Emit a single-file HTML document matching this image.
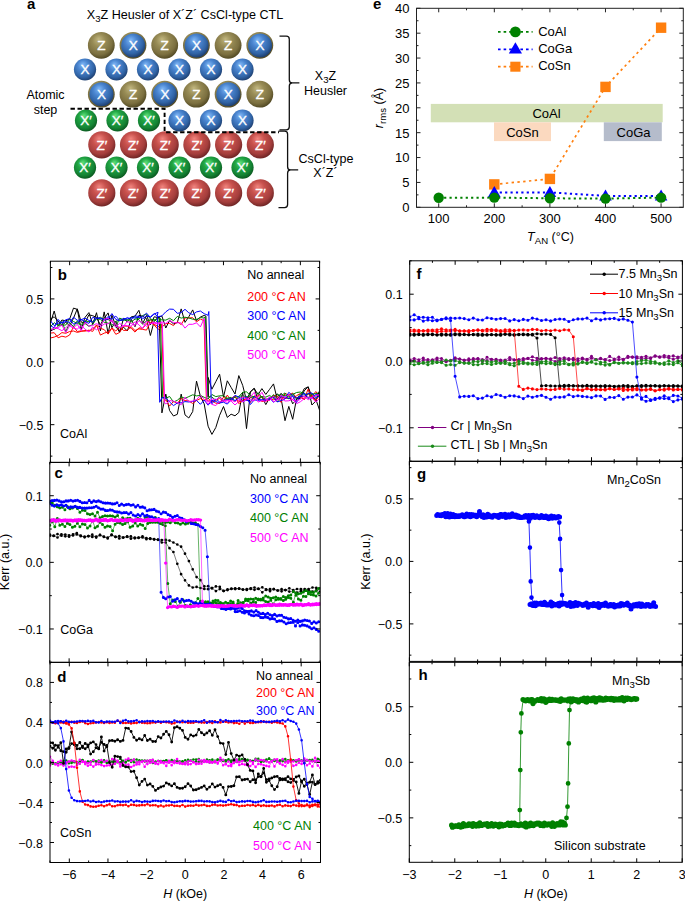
<!DOCTYPE html><html><head><meta charset="utf-8"><style>html,body{margin:0;padding:0;background:#fff;}svg{display:block;}</style></head><body><svg width="685" height="901" viewBox="0 0 685 901" font-family='"Liberation Sans", sans-serif'><defs><radialGradient id="gZ" cx="0.44" cy="0.4" r="0.64" fx="0.4" fy="0.27"><stop offset="0" stop-color="#c2b780"/><stop offset="0.38" stop-color="#978b55"/><stop offset="0.74" stop-color="#7c7040"/><stop offset="1" stop-color="#4a421e"/></radialGradient><radialGradient id="gX" cx="0.44" cy="0.4" r="0.64" fx="0.4" fy="0.27"><stop offset="0" stop-color="#80b8f6"/><stop offset="0.38" stop-color="#4a85d0"/><stop offset="0.74" stop-color="#3164a6"/><stop offset="1" stop-color="#1a3866"/></radialGradient><radialGradient id="gG" cx="0.44" cy="0.4" r="0.64" fx="0.4" fy="0.27"><stop offset="0" stop-color="#5ee07a"/><stop offset="0.38" stop-color="#20a443"/><stop offset="0.74" stop-color="#148434"/><stop offset="1" stop-color="#09511c"/></radialGradient><radialGradient id="gR" cx="0.44" cy="0.4" r="0.64" fx="0.4" fy="0.27"><stop offset="0" stop-color="#f0847e"/><stop offset="0.38" stop-color="#c8514d"/><stop offset="0.74" stop-color="#a53e3c"/><stop offset="1" stop-color="#642020"/></radialGradient><clipPath id="cb"><rect x="50.4" y="261.2" width="269.2" height="201.2"/></clipPath><clipPath id="cc"><rect x="49.8" y="462.4" width="270.4" height="199.9"/></clipPath><clipPath id="cd"><rect x="50.0" y="662.4" width="270.5" height="200.1"/></clipPath><clipPath id="cf"><rect x="409.7" y="260.8" width="272.7" height="200.4"/></clipPath><clipPath id="cg"><rect x="409.4" y="461.4" width="273.0" height="200.0"/></clipPath><clipPath id="ch"><rect x="409.3" y="662.3" width="272.9" height="200.0"/></clipPath></defs><rect width="685" height="901" fill="#fff"/><text x="27.0" y="8.5" font-size="15" text-anchor="start" fill="#000" font-weight="bold">a</text>
<text x="185" y="19.2" font-size="12.6" text-anchor="middle">X<tspan font-size="9.6" dy="3">3</tspan><tspan dy="-3">Z Heusler of X´Z´ CsCl-type CTL</tspan></text>
<circle cx="101.3" cy="45.3" r="13.4" fill="url(#gZ)"/>
<text x="101.3" y="50.0" font-size="13.5" text-anchor="middle" fill="#fff" stroke="#fff" stroke-width="0.35">Z</text>
<circle cx="133.0" cy="45.3" r="13.4" fill="url(#gZ)"/>
<circle cx="133.2" cy="45.4" r="12.0" fill="url(#gX)"/>
<text x="133.2" y="50.1" font-size="13.5" text-anchor="middle" fill="#fff" stroke="#fff" stroke-width="0.35">X</text>
<circle cx="164.7" cy="45.3" r="13.4" fill="url(#gZ)"/>
<text x="164.7" y="50.0" font-size="13.5" text-anchor="middle" fill="#fff" stroke="#fff" stroke-width="0.35">Z</text>
<circle cx="196.4" cy="45.3" r="13.4" fill="url(#gZ)"/>
<circle cx="196.6" cy="45.4" r="12.0" fill="url(#gX)"/>
<text x="196.6" y="50.1" font-size="13.5" text-anchor="middle" fill="#fff" stroke="#fff" stroke-width="0.35">X</text>
<circle cx="228.1" cy="45.3" r="13.4" fill="url(#gZ)"/>
<text x="228.1" y="50.0" font-size="13.5" text-anchor="middle" fill="#fff" stroke="#fff" stroke-width="0.35">Z</text>
<circle cx="259.8" cy="45.3" r="13.4" fill="url(#gZ)"/>
<circle cx="260.0" cy="45.4" r="12.0" fill="url(#gX)"/>
<text x="260.0" y="50.1" font-size="13.5" text-anchor="middle" fill="#fff" stroke="#fff" stroke-width="0.35">X</text>
<circle cx="85.0" cy="69.5" r="11.1" fill="url(#gX)"/>
<text x="85.0" y="74.2" font-size="13.5" text-anchor="middle" fill="#fff" stroke="#fff" stroke-width="0.35">X</text>
<circle cx="116.5" cy="69.5" r="11.1" fill="url(#gX)"/>
<text x="116.5" y="74.2" font-size="13.5" text-anchor="middle" fill="#fff" stroke="#fff" stroke-width="0.35">X</text>
<circle cx="148.0" cy="69.5" r="11.1" fill="url(#gX)"/>
<text x="148.0" y="74.2" font-size="13.5" text-anchor="middle" fill="#fff" stroke="#fff" stroke-width="0.35">X</text>
<circle cx="179.5" cy="69.5" r="11.1" fill="url(#gX)"/>
<text x="179.5" y="74.2" font-size="13.5" text-anchor="middle" fill="#fff" stroke="#fff" stroke-width="0.35">X</text>
<circle cx="211.0" cy="69.5" r="11.1" fill="url(#gX)"/>
<text x="211.0" y="74.2" font-size="13.5" text-anchor="middle" fill="#fff" stroke="#fff" stroke-width="0.35">X</text>
<circle cx="242.5" cy="69.5" r="11.1" fill="url(#gX)"/>
<text x="242.5" y="74.2" font-size="13.5" text-anchor="middle" fill="#fff" stroke="#fff" stroke-width="0.35">X</text>
<circle cx="101.3" cy="94.2" r="13.4" fill="url(#gZ)"/>
<circle cx="101.5" cy="94.3" r="12.0" fill="url(#gX)"/>
<text x="101.5" y="99.0" font-size="13.5" text-anchor="middle" fill="#fff" stroke="#fff" stroke-width="0.35">X</text>
<circle cx="133.0" cy="94.2" r="13.4" fill="url(#gZ)"/>
<text x="133.0" y="98.9" font-size="13.5" text-anchor="middle" fill="#fff" stroke="#fff" stroke-width="0.35">Z</text>
<circle cx="164.7" cy="94.2" r="13.4" fill="url(#gZ)"/>
<circle cx="164.9" cy="94.3" r="12.0" fill="url(#gX)"/>
<text x="164.9" y="99.0" font-size="13.5" text-anchor="middle" fill="#fff" stroke="#fff" stroke-width="0.35">X</text>
<circle cx="196.4" cy="94.2" r="13.4" fill="url(#gZ)"/>
<text x="196.4" y="98.9" font-size="13.5" text-anchor="middle" fill="#fff" stroke="#fff" stroke-width="0.35">Z</text>
<circle cx="228.1" cy="94.2" r="13.4" fill="url(#gZ)"/>
<circle cx="228.3" cy="94.3" r="12.0" fill="url(#gX)"/>
<text x="228.3" y="99.0" font-size="13.5" text-anchor="middle" fill="#fff" stroke="#fff" stroke-width="0.35">X</text>
<circle cx="259.8" cy="94.2" r="13.4" fill="url(#gZ)"/>
<text x="259.8" y="98.9" font-size="13.5" text-anchor="middle" fill="#fff" stroke="#fff" stroke-width="0.35">Z</text>
<circle cx="86.0" cy="120.5" r="11.1" fill="url(#gG)"/>
<text x="86.0" y="125.2" font-size="13.5" text-anchor="middle" fill="#fff" stroke="#fff" stroke-width="0.35">X′</text>
<circle cx="117.5" cy="120.5" r="11.1" fill="url(#gG)"/>
<text x="117.5" y="125.2" font-size="13.5" text-anchor="middle" fill="#fff" stroke="#fff" stroke-width="0.35">X′</text>
<circle cx="149.0" cy="120.5" r="11.1" fill="url(#gG)"/>
<text x="149.0" y="125.2" font-size="13.5" text-anchor="middle" fill="#fff" stroke="#fff" stroke-width="0.35">X′</text>
<circle cx="179.5" cy="120.5" r="11.1" fill="url(#gX)"/>
<text x="179.5" y="125.2" font-size="13.5" text-anchor="middle" fill="#fff" stroke="#fff" stroke-width="0.35">X</text>
<circle cx="211.0" cy="120.5" r="11.1" fill="url(#gX)"/>
<text x="211.0" y="125.2" font-size="13.5" text-anchor="middle" fill="#fff" stroke="#fff" stroke-width="0.35">X</text>
<circle cx="242.5" cy="120.5" r="11.1" fill="url(#gX)"/>
<text x="242.5" y="125.2" font-size="13.5" text-anchor="middle" fill="#fff" stroke="#fff" stroke-width="0.35">X</text>
<circle cx="101.8" cy="144.8" r="13.6" fill="url(#gR)"/>
<text x="101.8" y="149.5" font-size="13.5" text-anchor="middle" fill="#fff" stroke="#fff" stroke-width="0.35">Z′</text>
<circle cx="133.5" cy="144.8" r="13.6" fill="url(#gR)"/>
<text x="133.5" y="149.5" font-size="13.5" text-anchor="middle" fill="#fff" stroke="#fff" stroke-width="0.35">Z′</text>
<circle cx="165.2" cy="144.8" r="13.6" fill="url(#gR)"/>
<text x="165.2" y="149.5" font-size="13.5" text-anchor="middle" fill="#fff" stroke="#fff" stroke-width="0.35">Z′</text>
<circle cx="196.9" cy="144.8" r="13.6" fill="url(#gR)"/>
<text x="196.9" y="149.5" font-size="13.5" text-anchor="middle" fill="#fff" stroke="#fff" stroke-width="0.35">Z′</text>
<circle cx="228.6" cy="144.8" r="13.6" fill="url(#gR)"/>
<text x="228.6" y="149.5" font-size="13.5" text-anchor="middle" fill="#fff" stroke="#fff" stroke-width="0.35">Z′</text>
<circle cx="260.3" cy="144.8" r="13.6" fill="url(#gR)"/>
<text x="260.3" y="149.5" font-size="13.5" text-anchor="middle" fill="#fff" stroke="#fff" stroke-width="0.35">Z′</text>
<circle cx="85.0" cy="167.6" r="11.1" fill="url(#gG)"/>
<text x="85.0" y="172.3" font-size="13.5" text-anchor="middle" fill="#fff" stroke="#fff" stroke-width="0.35">X′</text>
<circle cx="116.5" cy="167.6" r="11.1" fill="url(#gG)"/>
<text x="116.5" y="172.3" font-size="13.5" text-anchor="middle" fill="#fff" stroke="#fff" stroke-width="0.35">X′</text>
<circle cx="148.0" cy="167.6" r="11.1" fill="url(#gG)"/>
<text x="148.0" y="172.3" font-size="13.5" text-anchor="middle" fill="#fff" stroke="#fff" stroke-width="0.35">X′</text>
<circle cx="179.5" cy="167.6" r="11.1" fill="url(#gG)"/>
<text x="179.5" y="172.3" font-size="13.5" text-anchor="middle" fill="#fff" stroke="#fff" stroke-width="0.35">X′</text>
<circle cx="211.0" cy="167.6" r="11.1" fill="url(#gG)"/>
<text x="211.0" y="172.3" font-size="13.5" text-anchor="middle" fill="#fff" stroke="#fff" stroke-width="0.35">X′</text>
<circle cx="242.5" cy="167.6" r="11.1" fill="url(#gG)"/>
<text x="242.5" y="172.3" font-size="13.5" text-anchor="middle" fill="#fff" stroke="#fff" stroke-width="0.35">X′</text>
<circle cx="101.8" cy="192.9" r="13.6" fill="url(#gR)"/>
<text x="101.8" y="197.6" font-size="13.5" text-anchor="middle" fill="#fff" stroke="#fff" stroke-width="0.35">Z′</text>
<circle cx="133.5" cy="192.9" r="13.6" fill="url(#gR)"/>
<text x="133.5" y="197.6" font-size="13.5" text-anchor="middle" fill="#fff" stroke="#fff" stroke-width="0.35">Z′</text>
<circle cx="165.2" cy="192.9" r="13.6" fill="url(#gR)"/>
<text x="165.2" y="197.6" font-size="13.5" text-anchor="middle" fill="#fff" stroke="#fff" stroke-width="0.35">Z′</text>
<circle cx="196.9" cy="192.9" r="13.6" fill="url(#gR)"/>
<text x="196.9" y="197.6" font-size="13.5" text-anchor="middle" fill="#fff" stroke="#fff" stroke-width="0.35">Z′</text>
<circle cx="228.6" cy="192.9" r="13.6" fill="url(#gR)"/>
<text x="228.6" y="197.6" font-size="13.5" text-anchor="middle" fill="#fff" stroke="#fff" stroke-width="0.35">Z′</text>
<circle cx="260.3" cy="192.9" r="13.6" fill="url(#gR)"/>
<text x="260.3" y="197.6" font-size="13.5" text-anchor="middle" fill="#fff" stroke="#fff" stroke-width="0.35">Z′</text>
<path d="M70.5 108.8H164.6V132.2H279" fill="none" stroke="#000" stroke-width="1.9" stroke-dasharray="4.4 2.6"/>
<path d="M279.5 36.2H286.3Q289.3 36.2 289.3 39.2V79.7Q289.3 82.9 292.3 82.9H299.4M292.3 82.9Q289.3 82.9 289.3 86.10000000000001V126.80000000000001Q289.3 129.8 286.3 129.8H279.5" fill="none" stroke="#111" stroke-width="1.3"/>
<path d="M278.5 131.2H284.6Q287.6 131.2 287.6 134.2V166.70000000000002Q287.6 169.9 290.6 169.9H298.2M290.6 169.9Q287.6 169.9 287.6 173.1V204.6Q287.6 207.6 284.6 207.6H278.5" fill="none" stroke="#111" stroke-width="1.3"/>
<text x="325.5" y="80.3" font-size="12.5" text-anchor="middle">X<tspan font-size="9.6" dy="3">3</tspan><tspan dy="-3">Z</tspan></text>
<text x="325.5" y="95.0" font-size="12.5" text-anchor="middle" fill="#000">Heusler</text>
<text x="298.6" y="162.5" font-size="12.5" text-anchor="start" fill="#000">CsCl-type</text>
<text x="325.5" y="177.3" font-size="12.5" text-anchor="middle" fill="#000">X´Z´</text>
<text x="45.5" y="99.0" font-size="12.5" text-anchor="middle" fill="#000">Atomic</text>
<text x="45.5" y="113.6" font-size="12.5" text-anchor="middle" fill="#000">step</text>
<text x="373.0" y="8.5" font-size="15" text-anchor="start" fill="#000" font-weight="bold">e</text>
<rect x="430.8" y="103.9" width="231.9" height="18.4" fill="#d3e0b6"/>
<rect x="494" y="122.3" width="57" height="18.8" fill="#fbd9bf"/>
<rect x="603.8" y="122.3" width="58" height="18.8" fill="#b5bccb"/>
<text x="546.5" y="117.5" font-size="13" text-anchor="middle" fill="#000">CoAl</text>
<text x="522.5" y="136.5" font-size="13" text-anchor="middle" fill="#000">CoSn</text>
<text x="633.5" y="136.5" font-size="13" text-anchor="middle" fill="#000">CoGa</text>
<rect x="416.50" y="8.30" width="266.80" height="199.00" fill="none" stroke="#222" stroke-width="1"/>
<path d="M438.73 207.30v-4M438.73 8.30v4M494.32 207.30v-4M494.32 8.30v4M549.90 207.30v-4M549.90 8.30v4M605.48 207.30v-4M605.48 8.30v4M661.07 207.30v-4M661.07 8.30v4M466.52 207.30v-2M466.52 8.30v2M522.11 207.30v-2M522.11 8.30v2M577.69 207.30v-2M577.69 8.30v2M633.27 207.30v-2M633.27 8.30v2M416.50 207.30h4M683.30 207.30h-4M416.50 182.43h4M683.30 182.43h-4M416.50 157.55h4M683.30 157.55h-4M416.50 132.68h4M683.30 132.68h-4M416.50 107.80h4M683.30 107.80h-4M416.50 82.93h4M683.30 82.93h-4M416.50 58.05h4M683.30 58.05h-4M416.50 33.18h4M683.30 33.18h-4M416.50 8.30h4M683.30 8.30h-4M416.50 194.86h2M683.30 194.86h-2M416.50 169.99h2M683.30 169.99h-2M416.50 145.11h2M683.30 145.11h-2M416.50 120.24h2M683.30 120.24h-2M416.50 95.36h2M683.30 95.36h-2M416.50 70.49h2M683.30 70.49h-2M416.50 45.61h2M683.30 45.61h-2M416.50 20.74h2M683.30 20.74h-2" stroke="#222" stroke-width="1" fill="none"/>
<text x="409.5" y="212.1" font-size="13" text-anchor="end" fill="#000">0</text>
<text x="409.5" y="187.2" font-size="13" text-anchor="end" fill="#000">5</text>
<text x="409.5" y="162.4" font-size="13" text-anchor="end" fill="#000">10</text>
<text x="409.5" y="137.5" font-size="13" text-anchor="end" fill="#000">15</text>
<text x="409.5" y="112.6" font-size="13" text-anchor="end" fill="#000">20</text>
<text x="409.5" y="87.7" font-size="13" text-anchor="end" fill="#000">25</text>
<text x="409.5" y="62.9" font-size="13" text-anchor="end" fill="#000">30</text>
<text x="409.5" y="38.0" font-size="13" text-anchor="end" fill="#000">35</text>
<text x="409.5" y="13.1" font-size="13" text-anchor="end" fill="#000">40</text>
<text x="438.7" y="222.5" font-size="13" text-anchor="middle" fill="#000">100</text>
<text x="494.3" y="222.5" font-size="13" text-anchor="middle" fill="#000">200</text>
<text x="549.9" y="222.5" font-size="13" text-anchor="middle" fill="#000">300</text>
<text x="605.5" y="222.5" font-size="13" text-anchor="middle" fill="#000">400</text>
<text x="661.1" y="222.5" font-size="13" text-anchor="middle" fill="#000">500</text>
<polyline points="494.3,184.4 549.9,178.9 605.5,86.9 661.1,27.7" fill="none" stroke="#ff7f0e" stroke-width="1.7" stroke-linejoin="round" stroke-dasharray="2.4 3.4"/>
<polyline points="494.3,192.4 549.9,192.4 605.5,195.9 661.1,195.9" fill="none" stroke="#0000ff" stroke-width="2" stroke-linejoin="round" stroke-dasharray="2.2 3.2"/>
<polyline points="438.7,197.8 494.3,197.6 549.9,198.3 605.5,198.6 661.1,197.6" fill="none" stroke="#008000" stroke-width="2" stroke-linejoin="round" stroke-dasharray="2.2 3.2"/>
<rect x="489.1" y="179.2" width="10.4" height="10.4" fill="#ff7f0e"/>
<rect x="544.7" y="173.7" width="10.4" height="10.4" fill="#ff7f0e"/>
<rect x="600.3" y="81.7" width="10.4" height="10.4" fill="#ff7f0e"/>
<rect x="655.9" y="22.5" width="10.4" height="10.4" fill="#ff7f0e"/>
<path d="M494.3 186.1L500.6 196.9H488.0Z" fill="#0000ff"/>
<path d="M549.9 186.1L556.2 196.9H543.6Z" fill="#0000ff"/>
<path d="M605.5 189.6L611.8 200.4H599.2Z" fill="#0000ff"/>
<path d="M661.1 189.6L667.4 200.4H654.8Z" fill="#0000ff"/>
<circle cx="438.7" cy="197.8" r="5.2" fill="#008000"/>
<circle cx="494.3" cy="197.6" r="5.2" fill="#008000"/>
<circle cx="549.9" cy="198.3" r="5.2" fill="#008000"/>
<circle cx="605.5" cy="198.6" r="5.2" fill="#008000"/>
<circle cx="661.1" cy="197.6" r="5.2" fill="#008000"/>
<line x1="498.00" y1="31.90" x2="532.60" y2="31.90" stroke="#008000" stroke-width="1.7" stroke-dasharray="2.6 3"/>
<circle cx="515.4" cy="31.9" r="5.4" fill="#008000"/>
<text x="538.2" y="35.6" font-size="13" text-anchor="start" fill="#000">CoAl</text>
<line x1="498.00" y1="49.30" x2="532.60" y2="49.30" stroke="#0000ff" stroke-width="1.7" stroke-dasharray="2.6 3"/>
<path d="M515.4 42.3L522 53.6H508.8Z" fill="#0000ff"/>
<text x="538.2" y="53.0" font-size="13" text-anchor="start" fill="#000">CoGa</text>
<line x1="498.00" y1="66.70" x2="532.60" y2="66.70" stroke="#ff7f0e" stroke-width="1.7" stroke-dasharray="2.6 3"/>
<rect x="510.3" y="61.7" width="10.2" height="10" fill="#ff7f0e"/>
<text x="538.2" y="70.4" font-size="13" text-anchor="start" fill="#000">CoSn</text>
<text transform="translate(383.3,108) rotate(-90)" font-size="12.5" text-anchor="middle"><tspan font-style="italic">r</tspan><tspan font-size="9.6" dy="3">rms</tspan><tspan dy="-3"> (Å)</tspan></text>
<text x="550.5" y="240.8" font-size="12.5" text-anchor="middle"><tspan font-style="italic">T</tspan><tspan font-size="9.6" dy="3">AN</tspan><tspan dy="-3"> (°C)</tspan></text>
<g clip-path="url(#cb)">
<polyline points="50.4,319.0 54.2,316.8 58.1,320.9 61.9,325.3 65.8,322.1 69.6,325.9 73.5,318.2 77.3,308.8 81.2,322.1 85.0,322.9 88.9,314.8 92.7,315.7 96.5,317.4 100.4,324.9 104.2,318.3 108.1,312.9 111.9,327.7 115.8,321.2 119.6,331.6 123.5,327.1 127.3,331.0 131.2,319.3 135.0,326.7 138.9,315.4 142.7,316.2 146.5,318.6 150.4,335.5 154.2,321.0 158.1,317.4 161.9,316.1 165.8,328.0 169.6,320.3 173.5,323.9 177.3,322.6 181.2,308.9 185.0,322.4 188.8,316.7 192.7,309.9 196.5,320.6 200.4,317.1 204.2,315.4 205.9,316.1 208.3,397.3 208.1,377.4 211.9,389.2 215.8,381.7 219.6,374.2 223.5,397.0 227.3,380.8 231.1,387.4 235.0,394.0 238.8,375.6 242.7,385.4 246.5,400.4 250.4,391.7 254.2,388.5 258.1,394.6 261.9,388.6 265.8,394.4 269.6,389.3 273.5,383.9 277.3,399.5 281.1,393.3 285.0,398.3 288.8,394.1 292.7,403.8 296.5,399.4 300.4,396.7 304.2,388.7 308.1,387.0 311.9,405.0 315.8,401.1 319.6,390.6" fill="none" stroke="#000" stroke-width="1" stroke-linejoin="round"/>
<polyline points="319.6,410.3 315.8,399.2 311.9,396.6 308.1,386.7 304.2,390.9 300.4,398.4 296.5,398.8 292.7,419.3 288.8,406.4 285.0,420.7 281.1,398.5 277.3,393.8 273.5,397.3 269.6,397.9 265.8,404.6 261.9,396.6 258.1,399.9 254.2,388.2 250.4,392.0 246.5,428.6 242.7,392.0 238.8,412.5 235.0,415.8 231.1,414.2 227.3,417.4 223.5,406.5 219.6,415.3 215.8,427.5 211.9,434.4 208.1,426.2 204.2,403.9 200.4,396.2 196.5,381.1 192.7,411.6 188.8,418.0 185.0,414.9 181.2,394.1 177.3,414.3 173.5,416.0 169.6,410.6 165.8,394.1 161.9,412.9 161.6,398.0 159.2,317.0 158.1,317.6 154.2,316.8 150.4,324.9 146.5,315.4 142.7,323.6 138.9,310.3 135.0,316.1 131.2,316.9 127.3,321.9 123.5,318.5 119.6,332.3 115.8,326.1 111.9,315.2 108.1,333.5 104.2,311.9 100.4,330.8 96.5,312.7 92.7,324.4 88.9,312.6 85.0,317.4 81.2,329.7 77.3,309.4 73.5,308.1 69.6,319.2 65.8,320.8 61.9,320.0 58.1,326.0 54.2,311.0 50.4,323.0" fill="none" stroke="#000" stroke-width="1" stroke-linejoin="round"/>
<polyline points="50.4,338.0 54.2,337.1 58.1,335.5 61.9,332.6 65.8,333.3 69.6,331.5 73.5,331.0 77.3,332.4 81.2,331.4 85.0,330.5 88.9,331.0 92.7,329.1 96.5,325.1 100.4,328.3 104.2,329.6 108.1,334.1 111.9,328.1 115.8,334.3 119.6,332.5 123.5,326.0 127.3,326.2 131.2,328.3 135.0,332.1 138.9,327.9 142.7,328.2 146.5,324.1 150.4,319.1 154.2,324.3 158.1,326.5 161.9,327.1 165.8,323.6 169.6,323.4 173.5,325.6 177.3,321.6 181.2,324.6 185.0,317.9 188.8,317.9 192.7,317.7 196.5,321.9 200.4,319.1 204.2,320.7 204.0,320.3 206.4,400.0 208.1,401.0 211.9,400.7 215.8,403.2 219.6,403.5 223.5,397.1 227.3,399.7 231.1,398.5 235.0,396.1 238.8,403.6 242.7,400.8 246.5,398.0 250.4,397.3 254.2,399.2 258.1,395.2 261.9,397.3 265.8,401.1 269.6,400.2 273.5,395.2 277.3,396.1 281.1,402.4 285.0,393.3 288.8,395.2 292.7,393.0 296.5,397.7 300.4,397.3 304.2,399.4 308.1,389.2 311.9,396.5 315.8,391.5 319.6,397.5" fill="none" stroke="#ff0000" stroke-width="1" stroke-linejoin="round"/>
<polyline points="319.6,395.3 315.8,400.5 311.9,397.1 308.1,393.5 304.2,399.8 300.4,393.5 296.5,395.7 292.7,399.6 288.8,398.3 285.0,398.3 281.1,397.3 277.3,398.8 273.5,399.8 269.6,398.5 265.8,400.6 261.9,401.5 258.1,398.2 254.2,395.8 250.4,402.6 246.5,398.5 242.7,400.4 238.8,401.5 235.0,396.6 231.1,400.5 227.3,395.1 223.5,401.5 219.6,398.4 215.8,400.3 211.9,401.9 208.1,398.3 204.2,400.5 200.4,398.5 196.5,400.5 192.7,403.5 188.8,400.9 185.0,400.6 181.2,398.3 177.3,403.6 173.5,401.3 169.6,406.1 165.8,399.7 164.1,401.6 161.7,323.8 161.9,326.9 158.1,329.4 154.2,325.0 150.4,322.3 146.5,330.1 142.7,329.4 138.9,328.9 135.0,330.5 131.2,326.8 127.3,330.3 123.5,330.4 119.6,327.0 115.8,331.0 111.9,328.0 108.1,332.1 104.2,333.1 100.4,335.1 96.5,325.1 92.7,331.4 88.9,330.1 85.0,331.1 81.2,330.9 77.3,331.5 73.5,326.6 69.6,335.0 65.8,337.1 61.9,336.2 58.1,337.8 54.2,332.7 50.4,333.1" fill="none" stroke="#ff0000" stroke-width="1" stroke-linejoin="round"/>
<polyline points="50.4,329.0 54.2,329.6 58.1,326.5 61.9,321.6 65.8,331.7 69.6,322.8 73.5,326.5 77.3,320.8 81.2,325.8 85.0,323.5 88.9,326.3 92.7,324.6 96.5,318.4 100.4,319.5 104.2,322.3 108.1,323.1 111.9,325.4 115.8,321.3 119.6,320.1 123.5,319.9 127.3,319.6 131.2,321.9 135.0,319.1 138.9,319.0 142.7,315.5 146.5,314.0 150.4,318.9 154.2,320.4 158.1,318.6 161.9,319.9 165.8,320.1 169.6,318.3 173.5,320.7 177.3,316.4 181.2,318.1 185.0,317.2 188.8,318.0 192.7,319.2 196.5,319.5 200.4,317.5 204.2,318.1 205.3,316.6 207.7,397.1 208.1,396.5 211.9,397.0 215.8,400.3 219.6,396.7 223.5,400.1 227.3,398.2 231.1,397.3 235.0,401.7 238.8,396.2 242.7,395.9 246.5,396.6 250.4,397.2 254.2,397.0 258.1,398.4 261.9,396.5 265.8,397.1 269.6,395.4 273.5,398.6 277.3,394.9 281.1,395.0 285.0,395.7 288.8,396.3 292.7,393.7 296.5,399.2 300.4,393.8 304.2,394.2 308.1,394.1 311.9,393.7 315.8,396.2 319.6,395.1" fill="none" stroke="#008000" stroke-width="1" stroke-linejoin="round"/>
<polyline points="319.6,392.9 315.8,393.5 311.9,394.2 308.1,398.6 304.2,393.5 300.4,392.0 296.5,392.5 292.7,394.5 288.8,399.1 285.0,392.9 281.1,395.8 277.3,401.9 273.5,394.6 269.6,399.4 265.8,399.0 261.9,397.4 258.1,392.7 254.2,397.0 250.4,395.4 246.5,391.8 242.7,392.3 238.8,396.6 235.0,397.1 231.1,399.7 227.3,398.4 223.5,395.7 219.6,395.8 215.8,396.6 211.9,394.5 208.1,399.0 204.2,397.3 200.4,395.4 196.5,395.9 192.7,394.8 188.8,396.6 185.0,398.4 181.2,396.8 177.3,400.3 173.5,402.0 169.6,396.5 165.8,398.2 161.9,397.4 162.7,398.2 160.3,318.3 158.1,322.7 154.2,319.4 150.4,320.1 146.5,320.9 142.7,324.4 138.9,319.7 135.0,316.7 131.2,318.1 127.3,320.9 123.5,319.7 119.6,318.1 115.8,327.2 111.9,320.9 108.1,319.6 104.2,319.5 100.4,317.3 96.5,319.0 92.7,321.4 88.9,321.7 85.0,320.8 81.2,324.5 77.3,323.5 73.5,321.5 69.6,319.2 65.8,325.0 61.9,325.2 58.1,325.1 54.2,322.7 50.4,326.7" fill="none" stroke="#008000" stroke-width="1" stroke-linejoin="round"/>
<polyline points="50.4,320.7 54.2,325.6 58.1,323.2 61.9,322.6 65.8,319.8 69.6,318.6 73.5,324.2 77.3,322.6 81.2,319.6 85.0,321.6 88.9,323.4 92.7,317.4 96.5,318.4 100.4,318.2 104.2,320.2 108.1,316.6 111.9,319.3 115.8,316.1 119.6,320.4 123.5,320.1 127.3,317.5 131.2,319.4 135.0,315.9 138.9,316.5 142.7,318.8 146.5,316.2 150.4,316.8 154.2,313.6 158.1,316.7 161.9,315.9 165.8,311.8 169.6,309.1 173.5,309.3 177.3,313.3 181.2,312.6 185.0,309.3 188.8,312.8 192.7,314.6 196.5,311.9 200.4,311.0 204.2,313.7 208.1,315.3 208.8,311.5 211.2,400.6 211.9,403.8 215.8,398.9 219.6,402.0 223.5,400.5 227.3,399.5 231.1,398.5 235.0,400.5 238.8,398.5 242.7,401.5 246.5,400.2 250.4,401.6 254.2,396.6 258.1,399.1 261.9,400.6 265.8,399.6 269.6,399.1 273.5,396.9 277.3,402.0 281.1,400.6 285.0,399.0 288.8,392.3 292.7,395.7 296.5,398.0 300.4,396.0 304.2,392.9 308.1,397.9 311.9,398.1 315.8,394.4 319.6,395.9" fill="none" stroke="#0000ff" stroke-width="1" stroke-linejoin="round"/>
<polyline points="319.6,395.5 315.8,398.3 311.9,392.9 308.1,393.5 304.2,396.2 300.4,396.1 296.5,402.4 292.7,396.4 288.8,398.5 285.0,397.2 281.1,396.7 277.3,399.2 273.5,402.3 269.6,397.8 265.8,400.4 261.9,399.6 258.1,400.4 254.2,399.9 250.4,404.5 246.5,396.6 242.7,399.0 238.8,397.1 235.0,395.3 231.1,399.9 227.3,404.1 223.5,402.2 219.6,403.0 215.8,401.5 211.9,400.4 208.1,405.2 204.2,400.0 200.4,404.3 196.5,400.4 192.7,401.4 188.8,402.0 185.0,401.6 181.2,402.8 177.3,403.0 173.5,405.6 169.6,402.0 165.8,397.9 161.9,397.7 159.7,402.3 157.3,315.2 158.1,312.3 154.2,314.0 150.4,317.5 146.5,313.1 142.7,316.8 138.9,317.2 135.0,318.1 131.2,317.6 127.3,319.0 123.5,318.4 119.6,320.8 115.8,319.4 111.9,313.6 108.1,319.1 104.2,319.7 100.4,318.2 96.5,318.0 92.7,322.3 88.9,320.4 85.0,318.1 81.2,319.7 77.3,320.3 73.5,317.2 69.6,322.5 65.8,321.4 61.9,323.4 58.1,319.4 54.2,327.9 50.4,325.6" fill="none" stroke="#0000ff" stroke-width="1" stroke-linejoin="round"/>
<polyline points="50.4,331.8 54.2,328.0 58.1,327.7 61.9,325.0 65.8,332.7 69.6,325.8 73.5,328.3 77.3,329.1 81.2,325.4 85.0,329.1 88.9,332.0 92.7,327.0 96.5,329.8 100.4,327.1 104.2,324.0 108.1,323.8 111.9,320.0 115.8,324.6 119.6,328.0 123.5,325.5 127.3,325.7 131.2,326.2 135.0,321.7 138.9,324.8 142.7,328.6 146.5,321.2 150.4,323.6 154.2,322.4 158.1,323.2 161.9,321.8 165.8,323.5 169.6,320.3 173.5,322.6 177.3,322.8 181.2,322.9 185.0,328.1 188.8,324.3 192.7,324.3 196.5,322.8 200.4,326.9 204.2,318.4 204.6,322.8 207.0,401.3 208.1,400.9 211.9,404.4 215.8,405.6 219.6,401.5 223.5,400.9 227.3,402.4 231.1,400.1 235.0,401.9 238.8,398.5 242.7,401.9 246.5,399.8 250.4,396.9 254.2,392.3 258.1,402.1 261.9,400.5 265.8,401.3 269.6,396.7 273.5,401.9 277.3,399.9 281.1,398.5 285.0,401.0 288.8,400.8 292.7,399.3 296.5,403.7 300.4,401.7 304.2,398.7 308.1,397.0 311.9,397.8 315.8,402.1 319.6,398.3" fill="none" stroke="#ff00ff" stroke-width="1" stroke-linejoin="round"/>
<polyline points="319.6,394.8 315.8,395.6 311.9,397.5 308.1,399.9 304.2,395.8 300.4,399.3 296.5,401.1 292.7,400.2 288.8,394.2 285.0,397.7 281.1,395.2 277.3,399.9 273.5,396.1 269.6,400.5 265.8,399.5 261.9,392.3 258.1,397.2 254.2,400.8 250.4,399.8 246.5,398.8 242.7,396.5 238.8,401.4 235.0,405.0 231.1,401.1 227.3,400.4 223.5,400.3 219.6,397.1 215.8,400.0 211.9,398.8 208.1,404.2 204.2,398.9 200.4,395.7 196.5,399.5 192.7,401.1 188.8,401.5 185.0,397.1 181.2,404.7 177.3,402.6 173.5,401.2 169.6,400.6 165.8,404.0 164.7,402.8 162.3,323.6 161.9,322.7 158.1,324.2 154.2,323.0 150.4,323.6 146.5,326.3 142.7,323.1 138.9,320.6 135.0,325.6 131.2,323.5 127.3,321.3 123.5,326.4 119.6,323.3 115.8,327.0 111.9,321.3 108.1,318.3 104.2,319.4 100.4,325.9 96.5,323.6 92.7,325.6 88.9,326.0 85.0,322.3 81.2,330.6 77.3,324.3 73.5,327.7 69.6,324.0 65.8,327.8 61.9,330.7 58.1,328.6 54.2,327.8 50.4,330.3" fill="none" stroke="#ff00ff" stroke-width="1" stroke-linejoin="round"/>
</g>
<rect x="50.40" y="261.20" width="269.20" height="201.20" fill="none" stroke="#000" stroke-width="1"/>
<path d="M69.63 462.40v-4M69.63 261.20v4M108.09 462.40v-4M108.09 261.20v4M146.54 462.40v-4M146.54 261.20v4M185.00 462.40v-4M185.00 261.20v4M223.46 462.40v-4M223.46 261.20v4M261.91 462.40v-4M261.91 261.20v4M300.37 462.40v-4M300.37 261.20v4M50.40 462.40v-2M50.40 261.20v2M88.86 462.40v-2M88.86 261.20v2M127.31 462.40v-2M127.31 261.20v2M165.77 462.40v-2M165.77 261.20v2M204.23 462.40v-2M204.23 261.20v2M242.69 462.40v-2M242.69 261.20v2M281.14 462.40v-2M281.14 261.20v2M319.60 462.40v-2M319.60 261.20v2M50.40 424.67h4M319.60 424.67h-4M50.40 361.80h4M319.60 361.80h-4M50.40 298.92h4M319.60 298.92h-4M50.40 456.11h2M319.60 456.11h-2M50.40 393.24h2M319.60 393.24h-2M50.40 330.36h2M319.60 330.36h-2M50.40 267.49h2M319.60 267.49h-2" stroke="#000" stroke-width="1" fill="none"/>
<text x="43.4" y="303.9" font-size="12.5" text-anchor="end" fill="#000">0.5</text>
<text x="43.4" y="366.8" font-size="12.5" text-anchor="end" fill="#000">0.0</text>
<text x="43.4" y="429.7" font-size="12.5" text-anchor="end" fill="#000">−0.5</text>
<text x="57.7" y="279.9" font-size="15" text-anchor="start" fill="#000" font-weight="bold">b</text>
<text x="247.2" y="278.7" font-size="12.5" text-anchor="start" fill="#000">No anneal</text>
<text x="247.2" y="300.6" font-size="12.5" text-anchor="start" fill="#ff0000">200 °C AN</text>
<text x="247.2" y="320.1" font-size="12.5" text-anchor="start" fill="#0000ff">300 °C AN</text>
<text x="247.2" y="339.6" font-size="12.5" text-anchor="start" fill="#008000">400 °C AN</text>
<text x="247.2" y="359.1" font-size="12.5" text-anchor="start" fill="#ff00ff">500 °C AN</text>
<text x="60.1" y="437.5" font-size="12.5" text-anchor="start" fill="#000">CoAl</text>
<g clip-path="url(#cc)">
<polyline points="49.8,534.5 53.7,535.7 57.5,537.5 61.4,534.3 65.3,534.6 69.1,535.3 73.0,535.5 76.8,534.5 80.7,536.2 84.6,536.6 88.4,536.1 92.3,534.7 96.2,537.6 100.0,534.9 103.9,537.0 107.7,537.5 111.6,535.2 115.5,536.9 119.3,538.4 123.2,537.6 127.1,536.4 130.9,536.4 134.8,538.3 138.6,537.6 142.5,537.5 146.4,539.2 150.2,538.4 154.1,539.0 158.0,539.8 161.8,540.1 165.7,539.9 169.5,540.6 173.4,542.5 177.3,544.5 181.1,546.7 185.0,553.7 188.9,561.1 192.7,569.3 196.6,577.1 200.5,580.2 204.3,586.3 208.2,586.2 212.0,588.2 215.9,586.4 219.8,586.9 223.6,591.0 227.5,590.1 231.4,588.5 235.2,588.4 239.1,588.6 242.9,589.5 246.8,589.1 250.7,588.9 254.5,589.8 258.4,588.7 262.3,592.3 266.1,589.3 270.0,591.2 273.8,589.1 277.7,590.5 281.6,591.3 285.4,590.1 289.3,591.6 293.2,591.7 297.0,592.5 300.9,591.0 304.7,590.6 308.6,590.2 312.5,591.6 316.3,590.4 320.2,591.6" fill="none" stroke="#000" stroke-width="0.5" stroke-linejoin="round"/>
<path d="M49.8 534.5h0M53.7 535.7h0M57.5 537.5h0M61.4 534.3h0M65.3 534.6h0M69.1 535.3h0M73.0 535.5h0M76.8 534.5h0M80.7 536.2h0M84.6 536.6h0M88.4 536.1h0M92.3 534.7h0M96.2 537.6h0M100.0 534.9h0M103.9 537.0h0M107.7 537.5h0M111.6 535.2h0M115.5 536.9h0M119.3 538.4h0M123.2 537.6h0M127.1 536.4h0M130.9 536.4h0M134.8 538.3h0M138.6 537.6h0M142.5 537.5h0M146.4 539.2h0M150.2 538.4h0M154.1 539.0h0M158.0 539.8h0M161.8 540.1h0M165.7 539.9h0M169.5 540.6h0M173.4 542.5h0M177.3 544.5h0M181.1 546.7h0M185.0 553.7h0M188.9 561.1h0M192.7 569.3h0M196.6 577.1h0M200.5 580.2h0M204.3 586.3h0M208.2 586.2h0M212.0 588.2h0M215.9 586.4h0M219.8 586.9h0M223.6 591.0h0M227.5 590.1h0M231.4 588.5h0M235.2 588.4h0M239.1 588.6h0M242.9 589.5h0M246.8 589.1h0M250.7 588.9h0M254.5 589.8h0M258.4 588.7h0M262.3 592.3h0M266.1 589.3h0M270.0 591.2h0M273.8 589.1h0M277.7 590.5h0M281.6 591.3h0M285.4 590.1h0M289.3 591.6h0M293.2 591.7h0M297.0 592.5h0M300.9 591.0h0M304.7 590.6h0M308.6 590.2h0M312.5 591.6h0M316.3 590.4h0M320.2 591.6h0" stroke="#000" stroke-width="2.7" stroke-linecap="round" fill="none"/>
<polyline points="320.2,588.4 316.3,587.9 312.5,587.5 308.6,589.1 304.7,589.1 300.9,589.2 297.0,589.0 293.2,590.2 289.3,588.3 285.4,590.0 281.6,589.2 277.7,590.5 273.8,589.2 270.0,589.1 266.1,589.9 262.3,587.3 258.4,589.0 254.5,587.5 250.7,588.3 246.8,590.0 242.9,589.6 239.1,588.7 235.2,589.1 231.4,589.0 227.5,589.4 223.6,590.9 219.8,589.1 215.9,591.1 212.0,588.2 208.2,589.2 204.3,588.9 200.5,588.0 196.6,586.9 192.7,587.5 188.9,585.4 185.0,580.3 181.1,574.2 177.3,563.8 173.4,552.0 169.5,548.2 165.7,542.5 161.8,542.5 158.0,539.6 154.1,539.6 150.2,538.9 146.4,538.0 142.5,536.4 138.6,537.9 134.8,537.7 130.9,538.7 127.1,536.8 123.2,537.5 119.3,536.1 115.5,536.8 111.6,534.7 107.7,538.5 103.9,536.6 100.0,535.2 96.2,536.5 92.3,536.9 88.4,536.2 84.6,537.3 80.7,535.6 76.8,533.1 73.0,534.3 69.1,536.7 65.3,536.3 61.4,535.7 57.5,534.1 53.7,536.0 49.8,535.8" fill="none" stroke="#000" stroke-width="0.5" stroke-linejoin="round"/>
<path d="M320.2 588.4h0M316.3 587.9h0M312.5 587.5h0M308.6 589.1h0M304.7 589.1h0M300.9 589.2h0M297.0 589.0h0M293.2 590.2h0M289.3 588.3h0M285.4 590.0h0M281.6 589.2h0M277.7 590.5h0M273.8 589.2h0M270.0 589.1h0M266.1 589.9h0M262.3 587.3h0M258.4 589.0h0M254.5 587.5h0M250.7 588.3h0M246.8 590.0h0M242.9 589.6h0M239.1 588.7h0M235.2 589.1h0M231.4 589.0h0M227.5 589.4h0M223.6 590.9h0M219.8 589.1h0M215.9 591.1h0M212.0 588.2h0M208.2 589.2h0M204.3 588.9h0M200.5 588.0h0M196.6 586.9h0M192.7 587.5h0M188.9 585.4h0M185.0 580.3h0M181.1 574.2h0M177.3 563.8h0M173.4 552.0h0M169.5 548.2h0M165.7 542.5h0M161.8 542.5h0M158.0 539.6h0M154.1 539.6h0M150.2 538.9h0M146.4 538.0h0M142.5 536.4h0M138.6 537.9h0M134.8 537.7h0M130.9 538.7h0M127.1 536.8h0M123.2 537.5h0M119.3 536.1h0M115.5 536.8h0M111.6 534.7h0M107.7 538.5h0M103.9 536.6h0M100.0 535.2h0M96.2 536.5h0M92.3 536.9h0M88.4 536.2h0M84.6 537.3h0M80.7 535.6h0M76.8 533.1h0M73.0 534.3h0M69.1 536.7h0M65.3 536.3h0M61.4 535.7h0M57.5 534.1h0M53.7 536.0h0M49.8 535.8h0" stroke="#000" stroke-width="2.7" stroke-linecap="round" fill="none"/>
<polyline points="49.8,502.5 52.3,503.1 54.8,505.3 57.3,506.8 59.8,507.9 62.4,507.2 64.9,509.8 67.4,506.4 69.9,508.8 72.4,508.0 74.9,506.8 77.4,508.4 79.9,512.2 82.4,510.2 85.0,510.5 87.5,513.8 90.0,514.5 92.5,513.7 95.0,516.1 97.5,512.3 100.0,517.8 102.5,516.5 105.0,515.7 107.5,516.0 110.1,515.8 112.6,516.0 115.1,517.0 117.6,515.6 120.1,520.3 122.6,517.8 125.1,519.1 127.6,518.2 130.1,518.3 132.7,520.1 135.2,519.9 137.7,518.2 140.2,519.0 142.7,520.6 145.2,517.2 147.7,517.1 150.2,522.3 152.7,520.2 155.3,517.5 157.8,520.0 160.3,520.9 162.8,521.7 165.3,522.4 167.8,522.1 170.3,522.7 172.8,521.1 175.3,522.8 177.9,523.0 180.4,524.2 182.9,522.8 185.4,524.1 187.9,523.3 190.4,521.8 192.9,522.9 195.4,522.8 197.9,524.6 200.5,602.7 203.0,603.0 205.5,603.2 208.0,601.7 210.5,604.1 213.0,600.9 215.5,602.6 218.0,603.6 220.5,603.2 223.0,603.5 225.6,602.3 228.1,603.5 230.6,601.0 233.1,603.5 235.6,605.4 238.1,603.4 240.6,605.0 243.1,602.4 245.6,600.5 248.2,600.7 250.7,603.0 253.2,601.9 255.7,598.2 258.2,599.8 260.7,599.9 263.2,598.1 265.7,595.9 268.2,597.1 270.8,598.3 273.3,597.7 275.8,597.0 278.3,598.3 280.8,598.5 283.3,596.6 285.8,597.4 288.3,595.7 290.8,595.0 293.4,591.4 295.9,595.2 298.4,593.7 300.9,593.2 303.4,591.9 305.9,590.6 308.4,592.1 310.9,592.0 313.4,592.6 316.0,591.1 318.5,588.6" fill="none" stroke="#008000" stroke-width="0.6" stroke-linejoin="round"/>
<path d="M49.8 502.5h0M52.3 503.1h0M54.8 505.3h0M57.3 506.8h0M59.8 507.9h0M62.4 507.2h0M64.9 509.8h0M67.4 506.4h0M69.9 508.8h0M72.4 508.0h0M74.9 506.8h0M77.4 508.4h0M79.9 512.2h0M82.4 510.2h0M85.0 510.5h0M87.5 513.8h0M90.0 514.5h0M92.5 513.7h0M95.0 516.1h0M97.5 512.3h0M100.0 517.8h0M102.5 516.5h0M105.0 515.7h0M107.5 516.0h0M110.1 515.8h0M112.6 516.0h0M115.1 517.0h0M117.6 515.6h0M120.1 520.3h0M122.6 517.8h0M125.1 519.1h0M127.6 518.2h0M130.1 518.3h0M132.7 520.1h0M135.2 519.9h0M137.7 518.2h0M140.2 519.0h0M142.7 520.6h0M145.2 517.2h0M147.7 517.1h0M150.2 522.3h0M152.7 520.2h0M155.3 517.5h0M157.8 520.0h0M160.3 520.9h0M162.8 521.7h0M165.3 522.4h0M167.8 522.1h0M170.3 522.7h0M172.8 521.1h0M175.3 522.8h0M177.9 523.0h0M180.4 524.2h0M182.9 522.8h0M185.4 524.1h0M187.9 523.3h0M190.4 521.8h0M192.9 522.9h0M195.4 522.8h0M197.9 524.6h0M200.5 602.7h0M203.0 603.0h0M205.5 603.2h0M208.0 601.7h0M210.5 604.1h0M213.0 600.9h0M215.5 602.6h0M218.0 603.6h0M220.5 603.2h0M223.0 603.5h0M225.6 602.3h0M228.1 603.5h0M230.6 601.0h0M233.1 603.5h0M235.6 605.4h0M238.1 603.4h0M240.6 605.0h0M243.1 602.4h0M245.6 600.5h0M248.2 600.7h0M250.7 603.0h0M253.2 601.9h0M255.7 598.2h0M258.2 599.8h0M260.7 599.9h0M263.2 598.1h0M265.7 595.9h0M268.2 597.1h0M270.8 598.3h0M273.3 597.7h0M275.8 597.0h0M278.3 598.3h0M280.8 598.5h0M283.3 596.6h0M285.8 597.4h0M288.3 595.7h0M290.8 595.0h0M293.4 591.4h0M295.9 595.2h0M298.4 593.7h0M300.9 593.2h0M303.4 591.9h0M305.9 590.6h0M308.4 592.1h0M310.9 592.0h0M313.4 592.6h0M316.0 591.1h0M318.5 588.6h0" stroke="#008000" stroke-width="3.0" stroke-linecap="round" fill="none"/>
<polyline points="318.5,593.2 316.0,596.0 313.4,594.9 310.9,594.4 308.4,593.7 305.9,596.6 303.4,596.2 300.9,600.2 298.4,599.1 295.9,593.0 293.4,602.3 290.8,598.3 288.3,597.4 285.8,599.2 283.3,600.6 280.8,599.2 278.3,599.3 275.8,599.7 273.3,604.1 270.8,600.3 268.2,602.1 265.7,601.6 263.2,600.1 260.7,599.3 258.2,598.9 255.7,602.4 253.2,599.3 250.7,598.9 248.2,599.2 245.6,598.9 243.1,602.7 240.6,602.8 238.1,600.4 235.6,605.6 233.1,601.9 230.6,603.7 228.1,603.3 225.6,606.5 223.0,604.6 220.5,602.6 218.0,600.5 215.5,600.3 213.0,602.8 210.5,603.1 208.0,604.6 205.5,601.7 203.0,603.3 200.5,601.3 197.9,598.6 195.4,602.8 192.9,606.3 190.4,604.8 187.9,606.2 185.4,605.6 182.9,599.8 180.4,602.3 177.9,606.4 175.3,601.4 172.8,600.0 170.3,603.8 167.8,583.6 165.3,525.8 162.8,524.4 160.3,523.5 157.8,522.3 155.3,522.2 152.7,522.3 150.2,521.9 147.7,523.5 145.2,528.6 142.7,525.3 140.2,524.3 137.7,525.9 135.2,522.9 132.7,525.9 130.1,527.2 127.6,521.7 125.1,523.5 122.6,524.5 120.1,522.9 117.6,522.6 115.1,524.2 112.6,530.8 110.1,526.6 107.5,526.1 105.0,527.3 102.5,524.6 100.0,522.3 97.5,526.2 95.0,527.7 92.5,520.3 90.0,526.1 87.5,527.9 85.0,524.5 82.4,524.0 79.9,526.7 77.4,523.2 74.9,526.2 72.4,527.2 69.9,524.6 67.4,523.2 64.9,526.5 62.4,524.3 59.8,525.3 57.3,518.4 54.8,526.7 52.3,521.8 49.8,525.2" fill="none" stroke="#008000" stroke-width="0.6" stroke-linejoin="round"/>
<path d="M318.5 593.2h0M316.0 596.0h0M313.4 594.9h0M310.9 594.4h0M308.4 593.7h0M305.9 596.6h0M303.4 596.2h0M300.9 600.2h0M298.4 599.1h0M295.9 593.0h0M293.4 602.3h0M290.8 598.3h0M288.3 597.4h0M285.8 599.2h0M283.3 600.6h0M280.8 599.2h0M278.3 599.3h0M275.8 599.7h0M273.3 604.1h0M270.8 600.3h0M268.2 602.1h0M265.7 601.6h0M263.2 600.1h0M260.7 599.3h0M258.2 598.9h0M255.7 602.4h0M253.2 599.3h0M250.7 598.9h0M248.2 599.2h0M245.6 598.9h0M243.1 602.7h0M240.6 602.8h0M238.1 600.4h0M235.6 605.6h0M233.1 601.9h0M230.6 603.7h0M228.1 603.3h0M225.6 606.5h0M223.0 604.6h0M220.5 602.6h0M218.0 600.5h0M215.5 600.3h0M213.0 602.8h0M210.5 603.1h0M208.0 604.6h0M205.5 601.7h0M203.0 603.3h0M200.5 601.3h0M197.9 598.6h0M195.4 602.8h0M192.9 606.3h0M190.4 604.8h0M187.9 606.2h0M185.4 605.6h0M182.9 599.8h0M180.4 602.3h0M177.9 606.4h0M175.3 601.4h0M172.8 600.0h0M170.3 603.8h0M167.8 583.6h0M165.3 525.8h0M162.8 524.4h0M160.3 523.5h0M157.8 522.3h0M155.3 522.2h0M152.7 522.3h0M150.2 521.9h0M147.7 523.5h0M145.2 528.6h0M142.7 525.3h0M140.2 524.3h0M137.7 525.9h0M135.2 522.9h0M132.7 525.9h0M130.1 527.2h0M127.6 521.7h0M125.1 523.5h0M122.6 524.5h0M120.1 522.9h0M117.6 522.6h0M115.1 524.2h0M112.6 530.8h0M110.1 526.6h0M107.5 526.1h0M105.0 527.3h0M102.5 524.6h0M100.0 522.3h0M97.5 526.2h0M95.0 527.7h0M92.5 520.3h0M90.0 526.1h0M87.5 527.9h0M85.0 524.5h0M82.4 524.0h0M79.9 526.7h0M77.4 523.2h0M74.9 526.2h0M72.4 527.2h0M69.9 524.6h0M67.4 523.2h0M64.9 526.5h0M62.4 524.3h0M59.8 525.3h0M57.3 518.4h0M54.8 526.7h0M52.3 521.8h0M49.8 525.2h0" stroke="#008000" stroke-width="3.0" stroke-linecap="round" fill="none"/>
<polyline points="49.8,501.1 52.1,500.5 54.4,500.4 56.8,500.1 59.1,500.9 61.4,501.7 63.7,501.7 66.0,500.9 68.3,500.9 70.7,500.3 73.0,501.1 75.3,500.6 77.6,500.3 79.9,501.4 82.2,502.7 84.6,502.5 86.9,502.8 89.2,500.4 91.5,502.4 93.8,500.9 96.2,501.6 98.5,500.9 100.8,501.7 103.1,502.8 105.4,503.1 107.7,503.0 110.1,503.2 112.4,503.9 114.7,503.8 117.0,502.7 119.3,505.5 121.6,504.1 124.0,505.3 126.3,504.6 128.6,504.3 130.9,505.2 133.2,504.8 135.6,506.9 137.9,505.2 140.2,507.2 142.5,506.9 144.8,507.9 147.1,510.7 149.5,509.9 151.8,509.8 154.1,509.4 156.4,511.1 158.7,511.8 161.1,513.8 163.4,512.1 165.7,512.5 168.0,514.6 170.3,515.5 172.6,517.4 175.0,516.2 177.3,515.5 179.6,517.9 181.9,518.3 184.2,519.7 186.5,521.7 188.9,520.6 191.2,523.5 193.5,523.8 195.8,524.5 198.1,525.0 200.5,526.5 202.8,527.7 205.1,530.2 207.4,556.8 209.7,604.0 212.0,605.2 214.4,606.2 216.7,606.8 219.0,606.7 221.3,608.4 223.6,608.6 225.9,609.4 228.3,608.5 230.6,608.9 232.9,608.2 235.2,611.6 237.5,611.5 239.9,610.8 242.2,612.3 244.5,612.9 246.8,611.8 249.1,614.0 251.4,615.2 253.8,615.8 256.1,615.0 258.4,615.5 260.7,617.4 263.0,617.6 265.3,616.9 267.7,617.4 270.0,618.9 272.3,618.4 274.6,619.0 276.9,621.4 279.3,620.7 281.6,620.7 283.9,622.0 286.2,623.7 288.5,622.8 290.8,622.5 293.2,622.3 295.5,625.9 297.8,622.5 300.1,626.0 302.4,624.9 304.7,625.2 307.1,625.9 309.4,627.1 311.7,628.7 314.0,627.8 316.3,629.4 318.7,631.3" fill="none" stroke="#0000ff" stroke-width="0.6" stroke-linejoin="round"/>
<path d="M49.8 501.1h0M52.1 500.5h0M54.4 500.4h0M56.8 500.1h0M59.1 500.9h0M61.4 501.7h0M63.7 501.7h0M66.0 500.9h0M68.3 500.9h0M70.7 500.3h0M73.0 501.1h0M75.3 500.6h0M77.6 500.3h0M79.9 501.4h0M82.2 502.7h0M84.6 502.5h0M86.9 502.8h0M89.2 500.4h0M91.5 502.4h0M93.8 500.9h0M96.2 501.6h0M98.5 500.9h0M100.8 501.7h0M103.1 502.8h0M105.4 503.1h0M107.7 503.0h0M110.1 503.2h0M112.4 503.9h0M114.7 503.8h0M117.0 502.7h0M119.3 505.5h0M121.6 504.1h0M124.0 505.3h0M126.3 504.6h0M128.6 504.3h0M130.9 505.2h0M133.2 504.8h0M135.6 506.9h0M137.9 505.2h0M140.2 507.2h0M142.5 506.9h0M144.8 507.9h0M147.1 510.7h0M149.5 509.9h0M151.8 509.8h0M154.1 509.4h0M156.4 511.1h0M158.7 511.8h0M161.1 513.8h0M163.4 512.1h0M165.7 512.5h0M168.0 514.6h0M170.3 515.5h0M172.6 517.4h0M175.0 516.2h0M177.3 515.5h0M179.6 517.9h0M181.9 518.3h0M184.2 519.7h0M186.5 521.7h0M188.9 520.6h0M191.2 523.5h0M193.5 523.8h0M195.8 524.5h0M198.1 525.0h0M200.5 526.5h0M202.8 527.7h0M205.1 530.2h0M207.4 556.8h0M209.7 604.0h0M212.0 605.2h0M214.4 606.2h0M216.7 606.8h0M219.0 606.7h0M221.3 608.4h0M223.6 608.6h0M225.9 609.4h0M228.3 608.5h0M230.6 608.9h0M232.9 608.2h0M235.2 611.6h0M237.5 611.5h0M239.9 610.8h0M242.2 612.3h0M244.5 612.9h0M246.8 611.8h0M249.1 614.0h0M251.4 615.2h0M253.8 615.8h0M256.1 615.0h0M258.4 615.5h0M260.7 617.4h0M263.0 617.6h0M265.3 616.9h0M267.7 617.4h0M270.0 618.9h0M272.3 618.4h0M274.6 619.0h0M276.9 621.4h0M279.3 620.7h0M281.6 620.7h0M283.9 622.0h0M286.2 623.7h0M288.5 622.8h0M290.8 622.5h0M293.2 622.3h0M295.5 625.9h0M297.8 622.5h0M300.1 626.0h0M302.4 624.9h0M304.7 625.2h0M307.1 625.9h0M309.4 627.1h0M311.7 628.7h0M314.0 627.8h0M316.3 629.4h0M318.7 631.3h0" stroke="#0000ff" stroke-width="3.1" stroke-linecap="round" fill="none"/>
<polyline points="318.7,621.8 316.3,623.0 314.0,621.7 311.7,623.4 309.4,621.0 307.1,620.5 304.7,620.1 302.4,620.9 300.1,621.4 297.8,620.1 295.5,621.2 293.2,620.4 290.8,618.5 288.5,618.9 286.2,617.8 283.9,617.3 281.6,615.2 279.3,615.3 276.9,615.9 274.6,614.4 272.3,615.6 270.0,614.8 267.7,613.3 265.3,614.6 263.0,613.4 260.7,613.8 258.4,612.2 256.1,610.6 253.8,612.1 251.4,610.9 249.1,611.4 246.8,611.2 244.5,610.9 242.2,608.4 239.9,607.2 237.5,608.3 235.2,608.9 232.9,607.4 230.6,607.8 228.3,606.5 225.9,606.5 223.6,606.1 221.3,605.5 219.0,606.2 216.7,605.7 214.4,606.4 212.0,605.1 209.7,605.5 207.4,604.2 205.1,604.5 202.8,603.4 200.5,602.8 198.1,603.9 195.8,603.1 193.5,602.9 191.2,601.3 188.9,600.2 186.5,600.5 184.2,601.2 181.9,599.3 179.6,601.3 177.3,598.6 175.0,599.9 172.6,601.3 170.3,596.5 168.0,597.0 165.7,598.7 163.4,597.4 161.1,592.2 158.7,518.5 156.4,519.0 154.1,518.0 151.8,516.7 149.5,516.5 147.1,515.3 144.8,515.9 142.5,513.7 140.2,515.7 137.9,514.6 135.6,516.0 133.2,515.0 130.9,512.6 128.6,514.0 126.3,512.5 124.0,512.6 121.6,513.0 119.3,512.1 117.0,511.9 114.7,511.5 112.4,510.2 110.1,509.9 107.7,510.5 105.4,510.4 103.1,509.1 100.8,509.1 98.5,507.8 96.2,506.2 93.8,507.3 91.5,507.7 89.2,507.7 86.9,508.1 84.6,508.1 82.2,508.0 79.9,507.4 77.6,507.4 75.3,506.3 73.0,507.1 70.7,506.9 68.3,507.6 66.0,505.2 63.7,506.0 61.4,504.8 59.1,505.5 56.8,504.8 54.4,506.1 52.1,505.2 49.8,503.5" fill="none" stroke="#0000ff" stroke-width="0.6" stroke-linejoin="round"/>
<path d="M318.7 621.8h0M316.3 623.0h0M314.0 621.7h0M311.7 623.4h0M309.4 621.0h0M307.1 620.5h0M304.7 620.1h0M302.4 620.9h0M300.1 621.4h0M297.8 620.1h0M295.5 621.2h0M293.2 620.4h0M290.8 618.5h0M288.5 618.9h0M286.2 617.8h0M283.9 617.3h0M281.6 615.2h0M279.3 615.3h0M276.9 615.9h0M274.6 614.4h0M272.3 615.6h0M270.0 614.8h0M267.7 613.3h0M265.3 614.6h0M263.0 613.4h0M260.7 613.8h0M258.4 612.2h0M256.1 610.6h0M253.8 612.1h0M251.4 610.9h0M249.1 611.4h0M246.8 611.2h0M244.5 610.9h0M242.2 608.4h0M239.9 607.2h0M237.5 608.3h0M235.2 608.9h0M232.9 607.4h0M230.6 607.8h0M228.3 606.5h0M225.9 606.5h0M223.6 606.1h0M221.3 605.5h0M219.0 606.2h0M216.7 605.7h0M214.4 606.4h0M212.0 605.1h0M209.7 605.5h0M207.4 604.2h0M205.1 604.5h0M202.8 603.4h0M200.5 602.8h0M198.1 603.9h0M195.8 603.1h0M193.5 602.9h0M191.2 601.3h0M188.9 600.2h0M186.5 600.5h0M184.2 601.2h0M181.9 599.3h0M179.6 601.3h0M177.3 598.6h0M175.0 599.9h0M172.6 601.3h0M170.3 596.5h0M168.0 597.0h0M165.7 598.7h0M163.4 597.4h0M161.1 592.2h0M158.7 518.5h0M156.4 519.0h0M154.1 518.0h0M151.8 516.7h0M149.5 516.5h0M147.1 515.3h0M144.8 515.9h0M142.5 513.7h0M140.2 515.7h0M137.9 514.6h0M135.6 516.0h0M133.2 515.0h0M130.9 512.6h0M128.6 514.0h0M126.3 512.5h0M124.0 512.6h0M121.6 513.0h0M119.3 512.1h0M117.0 511.9h0M114.7 511.5h0M112.4 510.2h0M110.1 509.9h0M107.7 510.5h0M105.4 510.4h0M103.1 509.1h0M100.8 509.1h0M98.5 507.8h0M96.2 506.2h0M93.8 507.3h0M91.5 507.7h0M89.2 507.7h0M86.9 508.1h0M84.6 508.1h0M82.2 508.0h0M79.9 507.4h0M77.6 507.4h0M75.3 506.3h0M73.0 507.1h0M70.7 506.9h0M68.3 507.6h0M66.0 505.2h0M63.7 506.0h0M61.4 504.8h0M59.1 505.5h0M56.8 504.8h0M54.4 506.1h0M52.1 505.2h0M49.8 503.5h0" stroke="#0000ff" stroke-width="3.1" stroke-linecap="round" fill="none"/>
<polyline points="49.8,521.0 51.7,520.0 53.7,519.8 55.6,520.3 57.5,520.2 59.5,520.0 61.4,520.7 63.3,520.3 65.3,520.8 67.2,520.7 69.1,520.7 71.0,520.5 73.0,520.4 74.9,520.2 76.8,521.0 78.8,519.6 80.7,519.9 82.6,520.1 84.6,520.5 86.5,520.4 88.4,520.2 90.4,520.2 92.3,521.1 94.2,520.1 96.2,519.2 98.1,521.1 100.0,519.9 101.9,520.2 103.9,520.4 105.8,519.8 107.7,520.8 109.7,520.3 111.6,519.7 113.5,520.4 115.5,520.5 117.4,520.3 119.3,520.5 121.3,519.7 123.2,520.7 125.1,519.9 127.1,520.8 129.0,520.0 130.9,520.3 132.9,521.3 134.8,520.2 136.7,520.7 138.6,520.4 140.6,519.6 142.5,520.7 144.4,520.7 146.4,519.6 148.3,520.2 150.2,519.6 152.2,520.1 154.1,520.5 156.0,520.2 158.0,519.7 159.9,519.8 161.8,520.2 163.8,520.1 165.7,520.2 167.6,520.4 169.5,519.3 171.5,520.1 173.4,520.6 175.3,520.3 177.3,519.8 179.2,519.8 181.1,520.2 183.1,520.4 185.0,520.1 186.9,520.8 188.9,520.6 190.8,519.7 192.7,520.3 194.7,519.9 196.6,519.6 198.5,519.8 200.5,520.1 202.4,601.2 204.3,605.8 206.2,606.2 208.2,605.7 210.1,605.8 212.0,606.3 214.0,605.9 215.9,606.0 217.8,606.7 219.8,605.9 221.7,605.9 223.6,606.0 225.6,606.4 227.5,605.9 229.4,605.7 231.4,605.6 233.3,606.1 235.2,605.4 237.1,606.1 239.1,605.6 241.0,605.0 242.9,605.8 244.9,605.7 246.8,605.0 248.7,605.6 250.7,605.5 252.6,605.3 254.5,604.9 256.5,606.2 258.4,605.6 260.3,605.6 262.3,605.6 264.2,605.5 266.1,605.5 268.1,605.0 270.0,605.5 271.9,605.0 273.8,604.9 275.8,605.3 277.7,604.9 279.6,604.3 281.6,604.8 283.5,605.1 285.4,604.9 287.4,605.2 289.3,604.7 291.2,604.4 293.2,605.1 295.1,604.8 297.0,604.2 299.0,604.9 300.9,604.5 302.8,605.0 304.7,604.9 306.7,604.7 308.6,603.6 310.5,604.6 312.5,604.7 314.4,604.6 316.3,604.5 318.3,604.1 320.2,604.3" fill="none" stroke="#ff00ff" stroke-width="0.6" stroke-linejoin="round"/>
<path d="M49.8 521.0h0M51.7 520.0h0M53.7 519.8h0M55.6 520.3h0M57.5 520.2h0M59.5 520.0h0M61.4 520.7h0M63.3 520.3h0M65.3 520.8h0M67.2 520.7h0M69.1 520.7h0M71.0 520.5h0M73.0 520.4h0M74.9 520.2h0M76.8 521.0h0M78.8 519.6h0M80.7 519.9h0M82.6 520.1h0M84.6 520.5h0M86.5 520.4h0M88.4 520.2h0M90.4 520.2h0M92.3 521.1h0M94.2 520.1h0M96.2 519.2h0M98.1 521.1h0M100.0 519.9h0M101.9 520.2h0M103.9 520.4h0M105.8 519.8h0M107.7 520.8h0M109.7 520.3h0M111.6 519.7h0M113.5 520.4h0M115.5 520.5h0M117.4 520.3h0M119.3 520.5h0M121.3 519.7h0M123.2 520.7h0M125.1 519.9h0M127.1 520.8h0M129.0 520.0h0M130.9 520.3h0M132.9 521.3h0M134.8 520.2h0M136.7 520.7h0M138.6 520.4h0M140.6 519.6h0M142.5 520.7h0M144.4 520.7h0M146.4 519.6h0M148.3 520.2h0M150.2 519.6h0M152.2 520.1h0M154.1 520.5h0M156.0 520.2h0M158.0 519.7h0M159.9 519.8h0M161.8 520.2h0M163.8 520.1h0M165.7 520.2h0M167.6 520.4h0M169.5 519.3h0M171.5 520.1h0M173.4 520.6h0M175.3 520.3h0M177.3 519.8h0M179.2 519.8h0M181.1 520.2h0M183.1 520.4h0M185.0 520.1h0M186.9 520.8h0M188.9 520.6h0M190.8 519.7h0M192.7 520.3h0M194.7 519.9h0M196.6 519.6h0M198.5 519.8h0M200.5 520.1h0M202.4 601.2h0M204.3 605.8h0M206.2 606.2h0M208.2 605.7h0M210.1 605.8h0M212.0 606.3h0M214.0 605.9h0M215.9 606.0h0M217.8 606.7h0M219.8 605.9h0M221.7 605.9h0M223.6 606.0h0M225.6 606.4h0M227.5 605.9h0M229.4 605.7h0M231.4 605.6h0M233.3 606.1h0M235.2 605.4h0M237.1 606.1h0M239.1 605.6h0M241.0 605.0h0M242.9 605.8h0M244.9 605.7h0M246.8 605.0h0M248.7 605.6h0M250.7 605.5h0M252.6 605.3h0M254.5 604.9h0M256.5 606.2h0M258.4 605.6h0M260.3 605.6h0M262.3 605.6h0M264.2 605.5h0M266.1 605.5h0M268.1 605.0h0M270.0 605.5h0M271.9 605.0h0M273.8 604.9h0M275.8 605.3h0M277.7 604.9h0M279.6 604.3h0M281.6 604.8h0M283.5 605.1h0M285.4 604.9h0M287.4 605.2h0M289.3 604.7h0M291.2 604.4h0M293.2 605.1h0M295.1 604.8h0M297.0 604.2h0M299.0 604.9h0M300.9 604.5h0M302.8 605.0h0M304.7 604.9h0M306.7 604.7h0M308.6 603.6h0M310.5 604.6h0M312.5 604.7h0M314.4 604.6h0M316.3 604.5h0M318.3 604.1h0M320.2 604.3h0" stroke="#ff00ff" stroke-width="3.4" stroke-linecap="round" fill="none"/>
<polyline points="320.2,603.5 318.3,604.3 316.3,603.8 314.4,604.3 312.5,604.2 310.5,605.1 308.6,604.6 306.7,604.6 304.7,604.7 302.8,605.5 300.9,604.3 299.0,604.8 297.0,604.9 295.1,604.8 293.2,604.8 291.2,604.6 289.3,605.3 287.4,605.2 285.4,604.7 283.5,604.8 281.6,605.1 279.6,605.2 277.7,605.3 275.8,605.0 273.8,604.6 271.9,605.5 270.0,604.5 268.1,604.8 266.1,605.3 264.2,604.9 262.3,605.8 260.3,605.9 258.4,605.8 256.5,605.5 254.5,605.5 252.6,605.6 250.7,605.3 248.7,606.3 246.8,605.2 244.9,606.0 242.9,605.8 241.0,605.7 239.1,606.0 237.1,606.1 235.2,606.0 233.3,605.6 231.4,605.4 229.4,605.5 227.5,606.1 225.6,606.1 223.6,606.2 221.7,605.6 219.8,606.7 217.8,605.4 215.9,606.1 214.0,606.2 212.0,605.8 210.1,605.6 208.2,605.9 206.2,605.6 204.3,606.0 202.4,605.6 200.5,605.6 198.5,606.2 196.6,605.6 194.7,606.2 192.7,606.2 190.8,606.7 188.9,606.4 186.9,606.0 185.0,606.9 183.1,606.1 181.1,606.3 179.2,606.3 177.3,607.4 175.3,606.6 173.4,606.3 171.5,606.9 169.5,606.6 167.6,607.6 165.7,563.1 163.8,520.4 161.8,519.8 159.9,520.9 158.0,519.9 156.0,520.3 154.1,519.9 152.2,520.6 150.2,520.4 148.3,519.3 146.4,520.5 144.4,520.5 142.5,520.3 140.6,520.6 138.6,519.8 136.7,519.5 134.8,520.5 132.9,520.9 130.9,519.8 129.0,519.8 127.1,519.9 125.1,519.8 123.2,520.6 121.3,520.4 119.3,520.8 117.4,520.9 115.5,519.9 113.5,520.6 111.6,519.4 109.7,520.3 107.7,520.6 105.8,520.0 103.9,519.6 101.9,520.2 100.0,520.8 98.1,520.2 96.2,519.8 94.2,520.6 92.3,520.7 90.4,520.0 88.4,520.3 86.5,520.8 84.6,520.5 82.6,520.7 80.7,520.3 78.8,520.4 76.8,520.0 74.9,520.1 73.0,521.1 71.0,520.3 69.1,520.1 67.2,520.3 65.3,520.0 63.3,520.7 61.4,520.8 59.5,520.1 57.5,520.9 55.6,521.3 53.7,520.1 51.7,520.8 49.8,520.6" fill="none" stroke="#ff00ff" stroke-width="0.6" stroke-linejoin="round"/>
<path d="M320.2 603.5h0M318.3 604.3h0M316.3 603.8h0M314.4 604.3h0M312.5 604.2h0M310.5 605.1h0M308.6 604.6h0M306.7 604.6h0M304.7 604.7h0M302.8 605.5h0M300.9 604.3h0M299.0 604.8h0M297.0 604.9h0M295.1 604.8h0M293.2 604.8h0M291.2 604.6h0M289.3 605.3h0M287.4 605.2h0M285.4 604.7h0M283.5 604.8h0M281.6 605.1h0M279.6 605.2h0M277.7 605.3h0M275.8 605.0h0M273.8 604.6h0M271.9 605.5h0M270.0 604.5h0M268.1 604.8h0M266.1 605.3h0M264.2 604.9h0M262.3 605.8h0M260.3 605.9h0M258.4 605.8h0M256.5 605.5h0M254.5 605.5h0M252.6 605.6h0M250.7 605.3h0M248.7 606.3h0M246.8 605.2h0M244.9 606.0h0M242.9 605.8h0M241.0 605.7h0M239.1 606.0h0M237.1 606.1h0M235.2 606.0h0M233.3 605.6h0M231.4 605.4h0M229.4 605.5h0M227.5 606.1h0M225.6 606.1h0M223.6 606.2h0M221.7 605.6h0M219.8 606.7h0M217.8 605.4h0M215.9 606.1h0M214.0 606.2h0M212.0 605.8h0M210.1 605.6h0M208.2 605.9h0M206.2 605.6h0M204.3 606.0h0M202.4 605.6h0M200.5 605.6h0M198.5 606.2h0M196.6 605.6h0M194.7 606.2h0M192.7 606.2h0M190.8 606.7h0M188.9 606.4h0M186.9 606.0h0M185.0 606.9h0M183.1 606.1h0M181.1 606.3h0M179.2 606.3h0M177.3 607.4h0M175.3 606.6h0M173.4 606.3h0M171.5 606.9h0M169.5 606.6h0M167.6 607.6h0M165.7 563.1h0M163.8 520.4h0M161.8 519.8h0M159.9 520.9h0M158.0 519.9h0M156.0 520.3h0M154.1 519.9h0M152.2 520.6h0M150.2 520.4h0M148.3 519.3h0M146.4 520.5h0M144.4 520.5h0M142.5 520.3h0M140.6 520.6h0M138.6 519.8h0M136.7 519.5h0M134.8 520.5h0M132.9 520.9h0M130.9 519.8h0M129.0 519.8h0M127.1 519.9h0M125.1 519.8h0M123.2 520.6h0M121.3 520.4h0M119.3 520.8h0M117.4 520.9h0M115.5 519.9h0M113.5 520.6h0M111.6 519.4h0M109.7 520.3h0M107.7 520.6h0M105.8 520.0h0M103.9 519.6h0M101.9 520.2h0M100.0 520.8h0M98.1 520.2h0M96.2 519.8h0M94.2 520.6h0M92.3 520.7h0M90.4 520.0h0M88.4 520.3h0M86.5 520.8h0M84.6 520.5h0M82.6 520.7h0M80.7 520.3h0M78.8 520.4h0M76.8 520.0h0M74.9 520.1h0M73.0 521.1h0M71.0 520.3h0M69.1 520.1h0M67.2 520.3h0M65.3 520.0h0M63.3 520.7h0M61.4 520.8h0M59.5 520.1h0M57.5 520.9h0M55.6 521.3h0M53.7 520.1h0M51.7 520.8h0M49.8 520.6h0" stroke="#ff00ff" stroke-width="3.4" stroke-linecap="round" fill="none"/>
</g>
<rect x="49.80" y="462.40" width="270.40" height="199.90" fill="none" stroke="#000" stroke-width="1"/>
<path d="M69.11 662.30v-4M69.11 462.40v4M107.74 662.30v-4M107.74 462.40v4M146.37 662.30v-4M146.37 462.40v4M185.00 662.30v-4M185.00 462.40v4M223.63 662.30v-4M223.63 462.40v4M262.26 662.30v-4M262.26 462.40v4M300.89 662.30v-4M300.89 462.40v4M49.80 662.30v-2M49.80 462.40v2M88.43 662.30v-2M88.43 462.40v2M127.06 662.30v-2M127.06 462.40v2M165.69 662.30v-2M165.69 462.40v2M204.31 662.30v-2M204.31 462.40v2M242.94 662.30v-2M242.94 462.40v2M281.57 662.30v-2M281.57 462.40v2M320.20 662.30v-2M320.20 462.40v2M49.80 628.98h4M320.20 628.98h-4M49.80 562.35h4M320.20 562.35h-4M49.80 495.72h4M320.20 495.72h-4M49.80 662.30h2M320.20 662.30h-2M49.80 595.67h2M320.20 595.67h-2M49.80 529.03h2M320.20 529.03h-2M49.80 462.40h2M320.20 462.40h-2" stroke="#000" stroke-width="1" fill="none"/>
<text x="42.8" y="500.7" font-size="12.5" text-anchor="end" fill="#000">0.1</text>
<text x="42.8" y="567.3" font-size="12.5" text-anchor="end" fill="#000">0.0</text>
<text x="42.8" y="634.0" font-size="12.5" text-anchor="end" fill="#000">−0.1</text>
<text x="54.6" y="477.8" font-size="15" text-anchor="start" fill="#000" font-weight="bold">c</text>
<text x="250.0" y="483.4" font-size="12.5" text-anchor="start" fill="#000">No anneal</text>
<text x="250.0" y="502.8" font-size="12.5" text-anchor="start" fill="#0000ff">300 °C AN</text>
<text x="250.0" y="522.2" font-size="12.5" text-anchor="start" fill="#008000">400 °C AN</text>
<text x="250.0" y="541.6" font-size="12.5" text-anchor="start" fill="#ff00ff">500 °C AN</text>
<text x="60.3" y="633.6" font-size="12.5" text-anchor="start" fill="#000">CoGa</text>
<text transform="translate(8.9,562) rotate(-90)" font-size="12.5" text-anchor="middle">Kerr (a.u.)</text>
<g clip-path="url(#cd)">
<polyline points="50.0,763.8 52.7,763.7 55.4,763.5 58.1,762.6 60.8,761.9 63.5,764.5 66.2,761.4 68.9,763.2 71.6,763.1 74.3,761.3 77.0,762.0 79.8,763.4 82.5,759.9 85.2,762.6 87.9,761.4 90.6,761.4 93.3,760.2 96.0,762.0 98.7,760.5 101.4,762.2 104.1,760.2 106.8,762.1 109.5,761.6 112.2,759.3 114.9,760.9 117.6,761.0 120.3,758.8 123.0,760.7 125.7,761.8 128.4,760.2 131.1,762.1 133.9,759.7 136.6,759.6 139.3,761.4 142.0,761.4 144.7,760.6 147.4,760.7 150.1,761.7 152.8,760.1 155.5,762.7 158.2,761.1 160.9,761.0 163.6,760.9 166.3,760.3 169.0,761.8 171.7,760.0 174.4,760.7 177.1,761.2 179.8,761.9 182.5,761.8 185.2,760.2 188.0,761.5 190.7,760.5 193.4,759.5 196.1,759.6 198.8,759.1 201.5,760.9 204.2,761.7 206.9,759.6 209.6,760.3 212.3,759.5 215.0,760.7 217.7,759.5 220.4,759.8 223.1,760.0 225.8,760.2 228.5,760.3 231.2,760.5 233.9,760.6 236.6,759.8 239.3,761.3 242.1,759.1 244.8,760.9 247.5,759.8 250.2,760.9 252.9,761.1 255.6,758.8 258.3,761.1 261.0,762.1 263.7,761.5 266.4,761.1 269.1,758.6 271.8,760.5 274.5,759.8 277.2,761.7 279.9,760.4 282.6,760.0 285.3,758.9 288.0,761.4 290.7,760.0 293.4,760.3 296.2,761.6 298.9,760.6 301.6,760.8 304.3,762.9 307.0,759.9 309.7,760.0 312.4,760.9 315.1,761.8 317.8,759.0 320.5,760.2" fill="none" stroke="#008000" stroke-width="0.6" stroke-linejoin="round"/>
<path d="M50.0 763.8h0M52.7 763.7h0M55.4 763.5h0M58.1 762.6h0M60.8 761.9h0M63.5 764.5h0M66.2 761.4h0M68.9 763.2h0M71.6 763.1h0M74.3 761.3h0M77.0 762.0h0M79.8 763.4h0M82.5 759.9h0M85.2 762.6h0M87.9 761.4h0M90.6 761.4h0M93.3 760.2h0M96.0 762.0h0M98.7 760.5h0M101.4 762.2h0M104.1 760.2h0M106.8 762.1h0M109.5 761.6h0M112.2 759.3h0M114.9 760.9h0M117.6 761.0h0M120.3 758.8h0M123.0 760.7h0M125.7 761.8h0M128.4 760.2h0M131.1 762.1h0M133.9 759.7h0M136.6 759.6h0M139.3 761.4h0M142.0 761.4h0M144.7 760.6h0M147.4 760.7h0M150.1 761.7h0M152.8 760.1h0M155.5 762.7h0M158.2 761.1h0M160.9 761.0h0M163.6 760.9h0M166.3 760.3h0M169.0 761.8h0M171.7 760.0h0M174.4 760.7h0M177.1 761.2h0M179.8 761.9h0M182.5 761.8h0M185.2 760.2h0M188.0 761.5h0M190.7 760.5h0M193.4 759.5h0M196.1 759.6h0M198.8 759.1h0M201.5 760.9h0M204.2 761.7h0M206.9 759.6h0M209.6 760.3h0M212.3 759.5h0M215.0 760.7h0M217.7 759.5h0M220.4 759.8h0M223.1 760.0h0M225.8 760.2h0M228.5 760.3h0M231.2 760.5h0M233.9 760.6h0M236.6 759.8h0M239.3 761.3h0M242.1 759.1h0M244.8 760.9h0M247.5 759.8h0M250.2 760.9h0M252.9 761.1h0M255.6 758.8h0M258.3 761.1h0M261.0 762.1h0M263.7 761.5h0M266.4 761.1h0M269.1 758.6h0M271.8 760.5h0M274.5 759.8h0M277.2 761.7h0M279.9 760.4h0M282.6 760.0h0M285.3 758.9h0M288.0 761.4h0M290.7 760.0h0M293.4 760.3h0M296.2 761.6h0M298.9 760.6h0M301.6 760.8h0M304.3 762.9h0M307.0 759.9h0M309.7 760.0h0M312.4 760.9h0M315.1 761.8h0M317.8 759.0h0M320.5 760.2h0" stroke="#008000" stroke-width="2.5" stroke-linecap="round" fill="none"/>
<polyline points="320.5,759.4 317.8,759.1 315.1,761.0 312.4,759.7 309.7,760.8 307.0,760.6 304.3,760.6 301.6,760.6 298.9,759.5 296.2,760.5 293.4,760.8 290.7,760.9 288.0,760.3 285.3,761.6 282.6,761.2 279.9,760.8 277.2,761.3 274.5,760.9 271.8,761.4 269.1,758.8 266.4,759.5 263.7,760.4 261.0,760.9 258.3,758.7 255.6,760.6 252.9,761.0 250.2,760.6 247.5,760.6 244.8,759.5 242.1,761.0 239.3,758.9 236.6,761.9 233.9,760.3 231.2,762.0 228.5,759.2 225.8,761.4 223.1,761.1 220.4,760.2 217.7,759.8 215.0,762.2 212.3,761.5 209.6,762.5 206.9,761.0 204.2,761.2 201.5,761.5 198.8,761.8 196.1,761.6 193.4,761.9 190.7,760.7 188.0,759.7 185.2,763.1 182.5,761.3 179.8,761.6 177.1,760.7 174.4,762.2 171.7,761.4 169.0,762.3 166.3,760.6 163.6,761.2 160.9,761.5 158.2,761.0 155.5,761.6 152.8,763.0 150.1,760.8 147.4,761.2 144.7,761.6 142.0,760.5 139.3,760.3 136.6,762.6 133.9,762.3 131.1,760.0 128.4,760.2 125.7,762.4 123.0,762.8 120.3,762.3 117.6,762.2 114.9,763.3 112.2,761.7 109.5,763.1 106.8,763.0 104.1,760.9 101.4,762.6 98.7,762.0 96.0,761.3 93.3,761.2 90.6,762.3 87.9,762.0 85.2,762.9 82.5,760.3 79.8,761.5 77.0,763.3 74.3,762.2 71.6,761.5 68.9,761.8 66.2,760.4 63.5,760.9 60.8,762.9 58.1,762.4 55.4,763.7 52.7,762.2 50.0,762.3" fill="none" stroke="#008000" stroke-width="0.6" stroke-linejoin="round"/>
<path d="M320.5 759.4h0M317.8 759.1h0M315.1 761.0h0M312.4 759.7h0M309.7 760.8h0M307.0 760.6h0M304.3 760.6h0M301.6 760.6h0M298.9 759.5h0M296.2 760.5h0M293.4 760.8h0M290.7 760.9h0M288.0 760.3h0M285.3 761.6h0M282.6 761.2h0M279.9 760.8h0M277.2 761.3h0M274.5 760.9h0M271.8 761.4h0M269.1 758.8h0M266.4 759.5h0M263.7 760.4h0M261.0 760.9h0M258.3 758.7h0M255.6 760.6h0M252.9 761.0h0M250.2 760.6h0M247.5 760.6h0M244.8 759.5h0M242.1 761.0h0M239.3 758.9h0M236.6 761.9h0M233.9 760.3h0M231.2 762.0h0M228.5 759.2h0M225.8 761.4h0M223.1 761.1h0M220.4 760.2h0M217.7 759.8h0M215.0 762.2h0M212.3 761.5h0M209.6 762.5h0M206.9 761.0h0M204.2 761.2h0M201.5 761.5h0M198.8 761.8h0M196.1 761.6h0M193.4 761.9h0M190.7 760.7h0M188.0 759.7h0M185.2 763.1h0M182.5 761.3h0M179.8 761.6h0M177.1 760.7h0M174.4 762.2h0M171.7 761.4h0M169.0 762.3h0M166.3 760.6h0M163.6 761.2h0M160.9 761.5h0M158.2 761.0h0M155.5 761.6h0M152.8 763.0h0M150.1 760.8h0M147.4 761.2h0M144.7 761.6h0M142.0 760.5h0M139.3 760.3h0M136.6 762.6h0M133.9 762.3h0M131.1 760.0h0M128.4 760.2h0M125.7 762.4h0M123.0 762.8h0M120.3 762.3h0M117.6 762.2h0M114.9 763.3h0M112.2 761.7h0M109.5 763.1h0M106.8 763.0h0M104.1 760.9h0M101.4 762.6h0M98.7 762.0h0M96.0 761.3h0M93.3 761.2h0M90.6 762.3h0M87.9 762.0h0M85.2 762.9h0M82.5 760.3h0M79.8 761.5h0M77.0 763.3h0M74.3 762.2h0M71.6 761.5h0M68.9 761.8h0M66.2 760.4h0M63.5 760.9h0M60.8 762.9h0M58.1 762.4h0M55.4 763.7h0M52.7 762.2h0M50.0 762.3h0" stroke="#008000" stroke-width="2.5" stroke-linecap="round" fill="none"/>
<polyline points="50.0,756.7 52.7,760.8 55.4,764.3 58.1,762.1 60.8,760.8 63.5,763.0 66.2,762.4 68.9,761.6 71.6,760.5 74.3,761.3 77.0,762.5 79.8,759.8 82.5,761.9 85.2,761.9 87.9,763.3 90.6,762.3 93.3,760.0 96.0,763.7 98.7,761.2 101.4,760.0 104.1,761.8 106.8,760.8 109.5,763.0 112.2,759.1 114.9,759.5 117.6,760.9 120.3,764.1 123.0,763.0 125.7,759.8 128.4,758.6 131.1,760.9 133.9,759.5 136.6,762.5 139.3,761.8 142.0,761.6 144.7,761.0 147.4,764.1 150.1,760.2 152.8,759.7 155.5,763.7 158.2,764.1 160.9,761.4 163.6,763.1 166.3,765.9 169.0,760.9 171.7,762.0 174.4,763.1 177.1,759.1 179.8,762.3 182.5,763.8 185.2,762.5 188.0,764.4 190.7,764.1 193.4,762.3 196.1,763.9 198.8,763.8 201.5,760.5 204.2,761.9 206.9,762.0 209.6,762.5 212.3,762.7 215.0,761.2 217.7,763.6 220.4,760.7 223.1,765.2 225.8,764.2 228.5,766.0 231.2,764.4 233.9,763.1 236.6,761.6 239.3,765.0 242.1,764.0 244.8,764.6 247.5,765.3 250.2,766.0 252.9,764.0 255.6,766.9 258.3,764.0 261.0,764.2 263.7,765.3 266.4,765.9 269.1,766.5 271.8,761.3 274.5,766.4 277.2,761.8 279.9,763.4 282.6,764.9 285.3,766.2 288.0,762.7 290.7,761.6 293.4,765.9 296.2,764.9 298.9,762.7 301.6,763.9 304.3,761.2 307.0,765.3 309.7,763.5 312.4,766.4 315.1,761.1 317.8,765.6 320.5,768.0" fill="none" stroke="#ff00ff" stroke-width="0.6" stroke-linejoin="round"/>
<path d="M50.0 756.7h0M52.7 760.8h0M55.4 764.3h0M58.1 762.1h0M60.8 760.8h0M63.5 763.0h0M66.2 762.4h0M68.9 761.6h0M71.6 760.5h0M74.3 761.3h0M77.0 762.5h0M79.8 759.8h0M82.5 761.9h0M85.2 761.9h0M87.9 763.3h0M90.6 762.3h0M93.3 760.0h0M96.0 763.7h0M98.7 761.2h0M101.4 760.0h0M104.1 761.8h0M106.8 760.8h0M109.5 763.0h0M112.2 759.1h0M114.9 759.5h0M117.6 760.9h0M120.3 764.1h0M123.0 763.0h0M125.7 759.8h0M128.4 758.6h0M131.1 760.9h0M133.9 759.5h0M136.6 762.5h0M139.3 761.8h0M142.0 761.6h0M144.7 761.0h0M147.4 764.1h0M150.1 760.2h0M152.8 759.7h0M155.5 763.7h0M158.2 764.1h0M160.9 761.4h0M163.6 763.1h0M166.3 765.9h0M169.0 760.9h0M171.7 762.0h0M174.4 763.1h0M177.1 759.1h0M179.8 762.3h0M182.5 763.8h0M185.2 762.5h0M188.0 764.4h0M190.7 764.1h0M193.4 762.3h0M196.1 763.9h0M198.8 763.8h0M201.5 760.5h0M204.2 761.9h0M206.9 762.0h0M209.6 762.5h0M212.3 762.7h0M215.0 761.2h0M217.7 763.6h0M220.4 760.7h0M223.1 765.2h0M225.8 764.2h0M228.5 766.0h0M231.2 764.4h0M233.9 763.1h0M236.6 761.6h0M239.3 765.0h0M242.1 764.0h0M244.8 764.6h0M247.5 765.3h0M250.2 766.0h0M252.9 764.0h0M255.6 766.9h0M258.3 764.0h0M261.0 764.2h0M263.7 765.3h0M266.4 765.9h0M269.1 766.5h0M271.8 761.3h0M274.5 766.4h0M277.2 761.8h0M279.9 763.4h0M282.6 764.9h0M285.3 766.2h0M288.0 762.7h0M290.7 761.6h0M293.4 765.9h0M296.2 764.9h0M298.9 762.7h0M301.6 763.9h0M304.3 761.2h0M307.0 765.3h0M309.7 763.5h0M312.4 766.4h0M315.1 761.1h0M317.8 765.6h0M320.5 768.0h0" stroke="#ff00ff" stroke-width="2.6" stroke-linecap="round" fill="none"/>
<polyline points="320.5,761.2 317.8,761.2 315.1,757.9 312.4,761.5 309.7,761.0 307.0,760.1 304.3,758.5 301.6,761.1 298.9,759.4 296.2,760.2 293.4,761.5 290.7,760.9 288.0,761.0 285.3,762.5 282.6,759.1 279.9,763.3 277.2,759.2 274.5,759.6 271.8,761.3 269.1,762.4 266.4,761.5 263.7,760.4 261.0,760.0 258.3,760.8 255.6,759.6 252.9,762.2 250.2,760.9 247.5,763.8 244.8,760.1 242.1,761.1 239.3,762.1 236.6,759.6 233.9,760.4 231.2,766.1 228.5,761.5 225.8,764.0 223.1,760.0 220.4,757.8 217.7,762.6 215.0,761.8 212.3,762.3 209.6,761.4 206.9,761.0 204.2,760.1 201.5,763.8 198.8,759.8 196.1,763.9 193.4,762.0 190.7,760.7 188.0,761.5 185.2,764.2 182.5,763.9 179.8,763.6 177.1,763.0 174.4,761.2 171.7,765.2 169.0,762.4 166.3,762.3 163.6,762.4 160.9,762.6 158.2,761.0 155.5,762.7 152.8,762.2 150.1,762.7 147.4,760.8 144.7,766.8 142.0,761.8 139.3,764.3 136.6,764.4 133.9,765.5 131.1,767.0 128.4,764.6 125.7,765.2 123.0,763.3 120.3,766.5 117.6,761.8 114.9,763.7 112.2,764.6 109.5,765.3 106.8,765.5 104.1,766.1 101.4,765.1 98.7,764.3 96.0,764.6 93.3,766.6 90.6,764.7 87.9,765.8 85.2,764.1 82.5,761.4 79.8,763.4 77.0,764.9 74.3,767.0 71.6,766.6 68.9,767.1 66.2,763.2 63.5,765.6 60.8,764.3 58.1,765.4 55.4,764.3 52.7,762.2 50.0,765.5" fill="none" stroke="#ff00ff" stroke-width="0.6" stroke-linejoin="round"/>
<path d="M320.5 761.2h0M317.8 761.2h0M315.1 757.9h0M312.4 761.5h0M309.7 761.0h0M307.0 760.1h0M304.3 758.5h0M301.6 761.1h0M298.9 759.4h0M296.2 760.2h0M293.4 761.5h0M290.7 760.9h0M288.0 761.0h0M285.3 762.5h0M282.6 759.1h0M279.9 763.3h0M277.2 759.2h0M274.5 759.6h0M271.8 761.3h0M269.1 762.4h0M266.4 761.5h0M263.7 760.4h0M261.0 760.0h0M258.3 760.8h0M255.6 759.6h0M252.9 762.2h0M250.2 760.9h0M247.5 763.8h0M244.8 760.1h0M242.1 761.1h0M239.3 762.1h0M236.6 759.6h0M233.9 760.4h0M231.2 766.1h0M228.5 761.5h0M225.8 764.0h0M223.1 760.0h0M220.4 757.8h0M217.7 762.6h0M215.0 761.8h0M212.3 762.3h0M209.6 761.4h0M206.9 761.0h0M204.2 760.1h0M201.5 763.8h0M198.8 759.8h0M196.1 763.9h0M193.4 762.0h0M190.7 760.7h0M188.0 761.5h0M185.2 764.2h0M182.5 763.9h0M179.8 763.6h0M177.1 763.0h0M174.4 761.2h0M171.7 765.2h0M169.0 762.4h0M166.3 762.3h0M163.6 762.4h0M160.9 762.6h0M158.2 761.0h0M155.5 762.7h0M152.8 762.2h0M150.1 762.7h0M147.4 760.8h0M144.7 766.8h0M142.0 761.8h0M139.3 764.3h0M136.6 764.4h0M133.9 765.5h0M131.1 767.0h0M128.4 764.6h0M125.7 765.2h0M123.0 763.3h0M120.3 766.5h0M117.6 761.8h0M114.9 763.7h0M112.2 764.6h0M109.5 765.3h0M106.8 765.5h0M104.1 766.1h0M101.4 765.1h0M98.7 764.3h0M96.0 764.6h0M93.3 766.6h0M90.6 764.7h0M87.9 765.8h0M85.2 764.1h0M82.5 761.4h0M79.8 763.4h0M77.0 764.9h0M74.3 767.0h0M71.6 766.6h0M68.9 767.1h0M66.2 763.2h0M63.5 765.6h0M60.8 764.3h0M58.1 765.4h0M55.4 764.3h0M52.7 762.2h0M50.0 765.5h0" stroke="#ff00ff" stroke-width="2.6" stroke-linecap="round" fill="none"/>
<polyline points="50.0,746.3 52.7,748.3 55.4,745.3 58.1,745.8 60.8,750.8 63.5,751.6 66.2,752.3 68.9,747.8 71.6,732.0 74.3,743.5 77.0,745.5 79.8,742.5 82.5,747.5 85.2,748.8 87.9,746.7 90.6,742.9 93.3,741.9 96.0,744.6 98.7,748.2 101.4,742.4 104.1,744.5 106.8,746.7 109.5,740.8 112.2,740.5 114.9,741.3 117.6,739.7 120.3,741.4 123.0,740.4 125.7,728.1 128.4,728.4 131.1,731.5 133.9,737.4 136.6,740.2 139.3,738.7 142.0,739.9 144.7,735.5 147.4,740.5 150.1,739.2 152.8,741.5 155.5,741.5 158.2,736.6 160.9,738.0 163.6,734.3 166.3,731.4 169.0,734.8 171.7,742.0 174.4,727.7 177.1,726.8 179.8,728.3 182.5,730.4 185.2,737.4 188.0,739.3 190.7,734.9 193.4,736.1 196.1,735.1 198.8,729.4 201.5,732.8 204.2,734.7 206.9,733.0 209.6,730.8 212.3,735.2 215.0,729.7 217.7,736.6 220.4,743.1 223.1,743.6 225.8,754.6 228.5,742.4 231.2,753.6 233.9,760.1 236.6,755.1 239.3,756.2 242.1,754.9 244.8,759.4 247.5,764.8 250.2,770.4 252.9,770.9 255.6,782.8 258.3,773.9 261.0,776.6 263.7,772.9 266.4,779.8 269.1,779.0 271.8,778.0 274.5,776.8 277.2,776.4 279.9,779.9 282.6,779.7 285.3,779.7 288.0,781.8 290.7,782.6 293.4,779.4 296.2,777.0 298.9,775.9 301.6,781.9 304.3,786.3 307.0,783.3 309.7,782.2 312.4,774.9 315.1,784.4 317.8,781.6 320.5,780.1" fill="none" stroke="#000" stroke-width="0.9" stroke-linejoin="round"/>
<path d="M50.0 746.3h0M52.7 748.3h0M55.4 745.3h0M58.1 745.8h0M60.8 750.8h0M63.5 751.6h0M66.2 752.3h0M68.9 747.8h0M71.6 732.0h0M74.3 743.5h0M77.0 745.5h0M79.8 742.5h0M82.5 747.5h0M85.2 748.8h0M87.9 746.7h0M90.6 742.9h0M93.3 741.9h0M96.0 744.6h0M98.7 748.2h0M101.4 742.4h0M104.1 744.5h0M106.8 746.7h0M109.5 740.8h0M112.2 740.5h0M114.9 741.3h0M117.6 739.7h0M120.3 741.4h0M123.0 740.4h0M125.7 728.1h0M128.4 728.4h0M131.1 731.5h0M133.9 737.4h0M136.6 740.2h0M139.3 738.7h0M142.0 739.9h0M144.7 735.5h0M147.4 740.5h0M150.1 739.2h0M152.8 741.5h0M155.5 741.5h0M158.2 736.6h0M160.9 738.0h0M163.6 734.3h0M166.3 731.4h0M169.0 734.8h0M171.7 742.0h0M174.4 727.7h0M177.1 726.8h0M179.8 728.3h0M182.5 730.4h0M185.2 737.4h0M188.0 739.3h0M190.7 734.9h0M193.4 736.1h0M196.1 735.1h0M198.8 729.4h0M201.5 732.8h0M204.2 734.7h0M206.9 733.0h0M209.6 730.8h0M212.3 735.2h0M215.0 729.7h0M217.7 736.6h0M220.4 743.1h0M223.1 743.6h0M225.8 754.6h0M228.5 742.4h0M231.2 753.6h0M233.9 760.1h0M236.6 755.1h0M239.3 756.2h0M242.1 754.9h0M244.8 759.4h0M247.5 764.8h0M250.2 770.4h0M252.9 770.9h0M255.6 782.8h0M258.3 773.9h0M261.0 776.6h0M263.7 772.9h0M266.4 779.8h0M269.1 779.0h0M271.8 778.0h0M274.5 776.8h0M277.2 776.4h0M279.9 779.9h0M282.6 779.7h0M285.3 779.7h0M288.0 781.8h0M290.7 782.6h0M293.4 779.4h0M296.2 777.0h0M298.9 775.9h0M301.6 781.9h0M304.3 786.3h0M307.0 783.3h0M309.7 782.2h0M312.4 774.9h0M315.1 784.4h0M317.8 781.6h0M320.5 780.1h0" stroke="#000" stroke-width="2.9" stroke-linecap="round" fill="none"/>
<polyline points="50.0,742.7 52.7,742.9 55.4,750.2 58.1,747.3 60.8,742.7 63.5,763.2 66.2,749.0 68.9,748.5 71.6,743.6 74.3,744.7 77.0,748.7 79.8,748.7 82.5,746.3 85.2,743.5 87.9,745.0 90.6,754.1 93.3,751.7 96.0,747.8 98.7,748.9 101.4,736.9 104.1,751.1 106.8,745.4 109.5,762.6 112.2,767.3 114.9,756.3 117.6,756.6 120.3,757.2 123.0,765.5 125.7,766.9 128.4,767.1 131.1,771.6 133.9,771.3 136.6,777.8 139.3,785.0 142.0,781.4 144.7,779.1 147.4,785.1 150.1,784.0 152.8,786.4 155.5,790.4 158.2,788.5 160.9,787.0 163.6,786.1 166.3,782.9 169.0,784.3 171.7,785.9 174.4,783.8 177.1,787.4 179.8,788.4 182.5,788.3 185.2,786.7 188.0,783.7 190.7,786.0 193.4,790.0 196.1,789.8 198.8,788.6 201.5,787.4 204.2,786.0 206.9,789.3 209.6,787.1 212.3,783.9 215.0,787.1 217.7,785.7 220.4,784.6 223.1,787.4 225.8,794.9 228.5,786.6 231.2,786.5 233.9,785.7 236.6,776.9 239.3,776.7 242.1,780.0 244.8,779.5 247.5,779.1 250.2,781.7 252.9,779.7 255.6,779.9 258.3,776.6 261.0,776.7 263.7,768.4 266.4,782.2 269.1,780.5 271.8,785.8 274.5,789.6 277.2,786.7 279.9,778.5 282.6,779.0 285.3,778.6 288.0,776.7 290.7,778.9 293.4,780.5 296.2,782.0 298.9,793.4 301.6,780.9 304.3,779.3 307.0,784.5 309.7,794.5 312.4,782.1 315.1,784.6 317.8,783.3 320.5,782.4" fill="none" stroke="#000" stroke-width="0.9" stroke-linejoin="round"/>
<path d="M50.0 742.7h0M52.7 742.9h0M55.4 750.2h0M58.1 747.3h0M60.8 742.7h0M63.5 763.2h0M66.2 749.0h0M68.9 748.5h0M71.6 743.6h0M74.3 744.7h0M77.0 748.7h0M79.8 748.7h0M82.5 746.3h0M85.2 743.5h0M87.9 745.0h0M90.6 754.1h0M93.3 751.7h0M96.0 747.8h0M98.7 748.9h0M101.4 736.9h0M104.1 751.1h0M106.8 745.4h0M109.5 762.6h0M112.2 767.3h0M114.9 756.3h0M117.6 756.6h0M120.3 757.2h0M123.0 765.5h0M125.7 766.9h0M128.4 767.1h0M131.1 771.6h0M133.9 771.3h0M136.6 777.8h0M139.3 785.0h0M142.0 781.4h0M144.7 779.1h0M147.4 785.1h0M150.1 784.0h0M152.8 786.4h0M155.5 790.4h0M158.2 788.5h0M160.9 787.0h0M163.6 786.1h0M166.3 782.9h0M169.0 784.3h0M171.7 785.9h0M174.4 783.8h0M177.1 787.4h0M179.8 788.4h0M182.5 788.3h0M185.2 786.7h0M188.0 783.7h0M190.7 786.0h0M193.4 790.0h0M196.1 789.8h0M198.8 788.6h0M201.5 787.4h0M204.2 786.0h0M206.9 789.3h0M209.6 787.1h0M212.3 783.9h0M215.0 787.1h0M217.7 785.7h0M220.4 784.6h0M223.1 787.4h0M225.8 794.9h0M228.5 786.6h0M231.2 786.5h0M233.9 785.7h0M236.6 776.9h0M239.3 776.7h0M242.1 780.0h0M244.8 779.5h0M247.5 779.1h0M250.2 781.7h0M252.9 779.7h0M255.6 779.9h0M258.3 776.6h0M261.0 776.7h0M263.7 768.4h0M266.4 782.2h0M269.1 780.5h0M271.8 785.8h0M274.5 789.6h0M277.2 786.7h0M279.9 778.5h0M282.6 779.0h0M285.3 778.6h0M288.0 776.7h0M290.7 778.9h0M293.4 780.5h0M296.2 782.0h0M298.9 793.4h0M301.6 780.9h0M304.3 779.3h0M307.0 784.5h0M309.7 794.5h0M312.4 782.1h0M315.1 784.6h0M317.8 783.3h0M320.5 782.4h0" stroke="#000" stroke-width="2.9" stroke-linecap="round" fill="none"/>
<polyline points="50.0,721.8 52.7,722.7 55.4,722.9 58.1,721.9 60.8,721.8 63.5,721.8 66.2,722.9 68.9,722.5 71.6,721.8 74.3,722.8 77.0,722.9 79.8,721.9 82.5,721.5 85.2,723.1 87.9,724.0 90.6,723.3 93.3,723.0 96.0,722.5 98.7,722.1 101.4,722.5 104.1,722.9 106.8,722.3 109.5,723.0 112.2,722.5 114.9,722.8 117.6,720.8 120.3,721.9 123.0,722.9 125.7,723.0 128.4,722.7 131.1,723.4 133.9,722.9 136.6,722.9 139.3,721.9 142.0,722.7 144.7,722.9 147.4,723.2 150.1,723.1 152.8,722.5 155.5,722.6 158.2,721.7 160.9,722.8 163.6,721.8 166.3,722.3 169.0,722.4 171.7,723.6 174.4,723.2 177.1,722.0 179.8,721.6 182.5,722.3 185.2,722.0 188.0,722.7 190.7,722.7 193.4,722.8 196.1,721.8 198.8,722.2 201.5,722.6 204.2,722.6 206.9,722.1 209.6,722.2 212.3,722.9 215.0,721.4 217.7,722.3 220.4,722.4 223.1,721.5 225.8,721.8 228.5,722.5 231.2,722.1 233.9,723.1 236.6,722.8 239.3,723.8 242.1,721.7 244.8,723.6 247.5,722.0 250.2,722.9 252.9,723.0 255.6,722.5 258.3,722.3 261.0,722.1 263.7,721.4 266.4,722.2 269.1,721.9 271.8,722.8 274.5,722.0 277.2,722.4 279.9,723.0 282.6,723.5 285.3,726.4 288.0,736.3 290.7,759.6 293.4,786.6 296.2,800.2 298.9,803.5 301.6,806.1 304.3,805.8 307.0,804.5 309.7,807.1 312.4,805.9 315.1,805.1 317.8,806.5 320.5,803.9" fill="none" stroke="#ff0000" stroke-width="0.8" stroke-linejoin="round"/>
<path d="M50.0 721.8h0M52.7 722.7h0M55.4 722.9h0M58.1 721.9h0M60.8 721.8h0M63.5 721.8h0M66.2 722.9h0M68.9 722.5h0M71.6 721.8h0M74.3 722.8h0M77.0 722.9h0M79.8 721.9h0M82.5 721.5h0M85.2 723.1h0M87.9 724.0h0M90.6 723.3h0M93.3 723.0h0M96.0 722.5h0M98.7 722.1h0M101.4 722.5h0M104.1 722.9h0M106.8 722.3h0M109.5 723.0h0M112.2 722.5h0M114.9 722.8h0M117.6 720.8h0M120.3 721.9h0M123.0 722.9h0M125.7 723.0h0M128.4 722.7h0M131.1 723.4h0M133.9 722.9h0M136.6 722.9h0M139.3 721.9h0M142.0 722.7h0M144.7 722.9h0M147.4 723.2h0M150.1 723.1h0M152.8 722.5h0M155.5 722.6h0M158.2 721.7h0M160.9 722.8h0M163.6 721.8h0M166.3 722.3h0M169.0 722.4h0M171.7 723.6h0M174.4 723.2h0M177.1 722.0h0M179.8 721.6h0M182.5 722.3h0M185.2 722.0h0M188.0 722.7h0M190.7 722.7h0M193.4 722.8h0M196.1 721.8h0M198.8 722.2h0M201.5 722.6h0M204.2 722.6h0M206.9 722.1h0M209.6 722.2h0M212.3 722.9h0M215.0 721.4h0M217.7 722.3h0M220.4 722.4h0M223.1 721.5h0M225.8 721.8h0M228.5 722.5h0M231.2 722.1h0M233.9 723.1h0M236.6 722.8h0M239.3 723.8h0M242.1 721.7h0M244.8 723.6h0M247.5 722.0h0M250.2 722.9h0M252.9 723.0h0M255.6 722.5h0M258.3 722.3h0M261.0 722.1h0M263.7 721.4h0M266.4 722.2h0M269.1 721.9h0M271.8 722.8h0M274.5 722.0h0M277.2 722.4h0M279.9 723.0h0M282.6 723.5h0M285.3 726.4h0M288.0 736.3h0M290.7 759.6h0M293.4 786.6h0M296.2 800.2h0M298.9 803.5h0M301.6 806.1h0M304.3 805.8h0M307.0 804.5h0M309.7 807.1h0M312.4 805.9h0M315.1 805.1h0M317.8 806.5h0M320.5 803.9h0" stroke="#ff0000" stroke-width="2.6" stroke-linecap="round" fill="none"/>
<polyline points="320.5,807.0 317.8,804.6 315.1,804.5 312.4,804.9 309.7,805.6 307.0,805.3 304.3,806.0 301.6,805.0 298.9,806.1 296.2,805.6 293.4,804.9 290.7,806.1 288.0,805.7 285.3,805.4 282.6,806.3 279.9,804.8 277.2,805.3 274.5,806.4 271.8,805.5 269.1,805.9 266.4,805.9 263.7,805.4 261.0,805.9 258.3,804.9 255.6,805.9 252.9,804.9 250.2,805.5 247.5,805.0 244.8,805.8 242.1,805.8 239.3,806.2 236.6,805.1 233.9,804.9 231.2,804.2 228.5,804.7 225.8,805.3 223.1,805.6 220.4,805.2 217.7,805.5 215.0,804.6 212.3,804.9 209.6,806.0 206.9,805.9 204.2,804.7 201.5,805.3 198.8,805.6 196.1,804.8 193.4,805.7 190.7,805.6 188.0,805.7 185.2,806.6 182.5,805.0 179.8,806.2 177.1,805.8 174.4,805.9 171.7,805.0 169.0,805.5 166.3,805.5 163.6,806.5 160.9,805.5 158.2,806.4 155.5,805.3 152.8,805.3 150.1,805.5 147.4,804.2 144.7,805.2 142.0,805.1 139.3,805.4 136.6,805.6 133.9,804.9 131.1,804.8 128.4,806.3 125.7,804.8 123.0,805.2 120.3,804.9 117.6,805.2 114.9,806.2 112.2,806.2 109.5,804.4 106.8,805.3 104.1,806.3 101.4,805.3 98.7,805.7 96.0,806.6 93.3,806.8 90.6,806.4 87.9,805.1 85.2,804.5 82.5,801.7 79.8,791.4 77.0,767.7 74.3,742.9 71.6,728.4 68.9,724.4 66.2,723.5 63.5,722.9 60.8,722.5 58.1,722.6 55.4,723.3 52.7,722.7 50.0,721.2" fill="none" stroke="#ff0000" stroke-width="0.8" stroke-linejoin="round"/>
<path d="M320.5 807.0h0M317.8 804.6h0M315.1 804.5h0M312.4 804.9h0M309.7 805.6h0M307.0 805.3h0M304.3 806.0h0M301.6 805.0h0M298.9 806.1h0M296.2 805.6h0M293.4 804.9h0M290.7 806.1h0M288.0 805.7h0M285.3 805.4h0M282.6 806.3h0M279.9 804.8h0M277.2 805.3h0M274.5 806.4h0M271.8 805.5h0M269.1 805.9h0M266.4 805.9h0M263.7 805.4h0M261.0 805.9h0M258.3 804.9h0M255.6 805.9h0M252.9 804.9h0M250.2 805.5h0M247.5 805.0h0M244.8 805.8h0M242.1 805.8h0M239.3 806.2h0M236.6 805.1h0M233.9 804.9h0M231.2 804.2h0M228.5 804.7h0M225.8 805.3h0M223.1 805.6h0M220.4 805.2h0M217.7 805.5h0M215.0 804.6h0M212.3 804.9h0M209.6 806.0h0M206.9 805.9h0M204.2 804.7h0M201.5 805.3h0M198.8 805.6h0M196.1 804.8h0M193.4 805.7h0M190.7 805.6h0M188.0 805.7h0M185.2 806.6h0M182.5 805.0h0M179.8 806.2h0M177.1 805.8h0M174.4 805.9h0M171.7 805.0h0M169.0 805.5h0M166.3 805.5h0M163.6 806.5h0M160.9 805.5h0M158.2 806.4h0M155.5 805.3h0M152.8 805.3h0M150.1 805.5h0M147.4 804.2h0M144.7 805.2h0M142.0 805.1h0M139.3 805.4h0M136.6 805.6h0M133.9 804.9h0M131.1 804.8h0M128.4 806.3h0M125.7 804.8h0M123.0 805.2h0M120.3 804.9h0M117.6 805.2h0M114.9 806.2h0M112.2 806.2h0M109.5 804.4h0M106.8 805.3h0M104.1 806.3h0M101.4 805.3h0M98.7 805.7h0M96.0 806.6h0M93.3 806.8h0M90.6 806.4h0M87.9 805.1h0M85.2 804.5h0M82.5 801.7h0M79.8 791.4h0M77.0 767.7h0M74.3 742.9h0M71.6 728.4h0M68.9 724.4h0M66.2 723.5h0M63.5 722.9h0M60.8 722.5h0M58.1 722.6h0M55.4 723.3h0M52.7 722.7h0M50.0 721.2h0" stroke="#ff0000" stroke-width="2.6" stroke-linecap="round" fill="none"/>
<polyline points="50.0,722.1 52.7,722.4 55.4,721.3 58.1,721.1 60.8,721.2 63.5,722.1 66.2,720.8 68.9,721.9 71.6,722.1 74.3,721.8 77.0,721.5 79.8,721.0 82.5,721.1 85.2,721.4 87.9,720.9 90.6,721.4 93.3,720.9 96.0,722.3 98.7,722.4 101.4,721.0 104.1,722.3 106.8,721.6 109.5,721.5 112.2,721.7 114.9,721.7 117.6,720.6 120.3,722.9 123.0,720.9 125.7,720.1 128.4,721.4 131.1,721.4 133.9,721.0 136.6,720.3 139.3,722.1 142.0,721.4 144.7,721.5 147.4,721.1 150.1,721.3 152.8,721.0 155.5,721.7 158.2,721.4 160.9,721.8 163.6,721.8 166.3,721.5 169.0,721.5 171.7,722.1 174.4,720.5 177.1,721.5 179.8,722.3 182.5,720.8 185.2,721.9 188.0,721.1 190.7,721.4 193.4,721.3 196.1,721.3 198.8,721.8 201.5,721.4 204.2,720.2 206.9,722.8 209.6,721.4 212.3,721.2 215.0,722.1 217.7,722.3 220.4,720.1 223.1,721.7 225.8,720.2 228.5,721.1 231.2,721.4 233.9,721.1 236.6,721.0 239.3,720.7 242.1,721.2 244.8,721.3 247.5,721.3 250.2,720.6 252.9,720.9 255.6,722.0 258.3,721.8 261.0,721.2 263.7,721.8 266.4,721.7 269.1,722.0 271.8,721.6 274.5,721.2 277.2,720.8 279.9,721.4 282.6,720.2 285.3,721.5 288.0,719.6 290.7,721.0 293.4,721.7 296.2,723.6 298.9,729.5 301.6,740.3 304.3,763.2 307.0,784.0 309.7,796.9 312.4,798.8 315.1,801.2 317.8,800.9 320.5,803.0" fill="none" stroke="#0000ff" stroke-width="0.8" stroke-linejoin="round"/>
<path d="M50.0 722.1h0M52.7 722.4h0M55.4 721.3h0M58.1 721.1h0M60.8 721.2h0M63.5 722.1h0M66.2 720.8h0M68.9 721.9h0M71.6 722.1h0M74.3 721.8h0M77.0 721.5h0M79.8 721.0h0M82.5 721.1h0M85.2 721.4h0M87.9 720.9h0M90.6 721.4h0M93.3 720.9h0M96.0 722.3h0M98.7 722.4h0M101.4 721.0h0M104.1 722.3h0M106.8 721.6h0M109.5 721.5h0M112.2 721.7h0M114.9 721.7h0M117.6 720.6h0M120.3 722.9h0M123.0 720.9h0M125.7 720.1h0M128.4 721.4h0M131.1 721.4h0M133.9 721.0h0M136.6 720.3h0M139.3 722.1h0M142.0 721.4h0M144.7 721.5h0M147.4 721.1h0M150.1 721.3h0M152.8 721.0h0M155.5 721.7h0M158.2 721.4h0M160.9 721.8h0M163.6 721.8h0M166.3 721.5h0M169.0 721.5h0M171.7 722.1h0M174.4 720.5h0M177.1 721.5h0M179.8 722.3h0M182.5 720.8h0M185.2 721.9h0M188.0 721.1h0M190.7 721.4h0M193.4 721.3h0M196.1 721.3h0M198.8 721.8h0M201.5 721.4h0M204.2 720.2h0M206.9 722.8h0M209.6 721.4h0M212.3 721.2h0M215.0 722.1h0M217.7 722.3h0M220.4 720.1h0M223.1 721.7h0M225.8 720.2h0M228.5 721.1h0M231.2 721.4h0M233.9 721.1h0M236.6 721.0h0M239.3 720.7h0M242.1 721.2h0M244.8 721.3h0M247.5 721.3h0M250.2 720.6h0M252.9 720.9h0M255.6 722.0h0M258.3 721.8h0M261.0 721.2h0M263.7 721.8h0M266.4 721.7h0M269.1 722.0h0M271.8 721.6h0M274.5 721.2h0M277.2 720.8h0M279.9 721.4h0M282.6 720.2h0M285.3 721.5h0M288.0 719.6h0M290.7 721.0h0M293.4 721.7h0M296.2 723.6h0M298.9 729.5h0M301.6 740.3h0M304.3 763.2h0M307.0 784.0h0M309.7 796.9h0M312.4 798.8h0M315.1 801.2h0M317.8 800.9h0M320.5 803.0h0" stroke="#0000ff" stroke-width="2.6" stroke-linecap="round" fill="none"/>
<polyline points="320.5,801.4 317.8,801.7 315.1,801.1 312.4,801.4 309.7,802.2 307.0,800.9 304.3,801.1 301.6,801.1 298.9,800.9 296.2,800.8 293.4,801.5 290.7,802.3 288.0,802.3 285.3,800.7 282.6,801.0 279.9,801.4 277.2,801.7 274.5,801.5 271.8,801.5 269.1,801.7 266.4,801.9 263.7,800.2 261.0,801.3 258.3,801.8 255.6,802.3 252.9,801.9 250.2,801.0 247.5,801.0 244.8,801.6 242.1,801.4 239.3,801.7 236.6,802.1 233.9,800.7 231.2,801.2 228.5,800.0 225.8,801.9 223.1,801.6 220.4,800.9 217.7,801.6 215.0,802.3 212.3,802.0 209.6,801.4 206.9,801.3 204.2,801.5 201.5,800.9 198.8,800.9 196.1,801.3 193.4,801.5 190.7,801.6 188.0,801.1 185.2,800.9 182.5,801.4 179.8,801.2 177.1,801.7 174.4,802.3 171.7,802.1 169.0,801.0 166.3,801.2 163.6,800.5 160.9,801.4 158.2,801.0 155.5,800.7 152.8,800.9 150.1,801.8 147.4,801.6 144.7,801.4 142.0,802.1 139.3,801.2 136.6,800.9 133.9,801.8 131.1,800.3 128.4,801.6 125.7,801.6 123.0,801.6 120.3,801.9 117.6,801.2 114.9,801.5 112.2,800.5 109.5,801.1 106.8,801.1 104.1,801.6 101.4,802.3 98.7,801.5 96.0,802.0 93.3,800.9 90.6,801.5 87.9,800.5 85.2,801.0 82.5,801.0 79.8,801.3 77.0,801.1 74.3,800.3 71.6,797.8 68.9,790.5 66.2,769.1 63.5,741.4 60.8,728.1 58.1,723.3 55.4,722.3 52.7,722.4 50.0,720.7" fill="none" stroke="#0000ff" stroke-width="0.8" stroke-linejoin="round"/>
<path d="M320.5 801.4h0M317.8 801.7h0M315.1 801.1h0M312.4 801.4h0M309.7 802.2h0M307.0 800.9h0M304.3 801.1h0M301.6 801.1h0M298.9 800.9h0M296.2 800.8h0M293.4 801.5h0M290.7 802.3h0M288.0 802.3h0M285.3 800.7h0M282.6 801.0h0M279.9 801.4h0M277.2 801.7h0M274.5 801.5h0M271.8 801.5h0M269.1 801.7h0M266.4 801.9h0M263.7 800.2h0M261.0 801.3h0M258.3 801.8h0M255.6 802.3h0M252.9 801.9h0M250.2 801.0h0M247.5 801.0h0M244.8 801.6h0M242.1 801.4h0M239.3 801.7h0M236.6 802.1h0M233.9 800.7h0M231.2 801.2h0M228.5 800.0h0M225.8 801.9h0M223.1 801.6h0M220.4 800.9h0M217.7 801.6h0M215.0 802.3h0M212.3 802.0h0M209.6 801.4h0M206.9 801.3h0M204.2 801.5h0M201.5 800.9h0M198.8 800.9h0M196.1 801.3h0M193.4 801.5h0M190.7 801.6h0M188.0 801.1h0M185.2 800.9h0M182.5 801.4h0M179.8 801.2h0M177.1 801.7h0M174.4 802.3h0M171.7 802.1h0M169.0 801.0h0M166.3 801.2h0M163.6 800.5h0M160.9 801.4h0M158.2 801.0h0M155.5 800.7h0M152.8 800.9h0M150.1 801.8h0M147.4 801.6h0M144.7 801.4h0M142.0 802.1h0M139.3 801.2h0M136.6 800.9h0M133.9 801.8h0M131.1 800.3h0M128.4 801.6h0M125.7 801.6h0M123.0 801.6h0M120.3 801.9h0M117.6 801.2h0M114.9 801.5h0M112.2 800.5h0M109.5 801.1h0M106.8 801.1h0M104.1 801.6h0M101.4 802.3h0M98.7 801.5h0M96.0 802.0h0M93.3 800.9h0M90.6 801.5h0M87.9 800.5h0M85.2 801.0h0M82.5 801.0h0M79.8 801.3h0M77.0 801.1h0M74.3 800.3h0M71.6 797.8h0M68.9 790.5h0M66.2 769.1h0M63.5 741.4h0M60.8 728.1h0M58.1 723.3h0M55.4 722.3h0M52.7 722.4h0M50.0 720.7h0" stroke="#0000ff" stroke-width="2.6" stroke-linecap="round" fill="none"/>
</g>
<rect x="50.00" y="662.40" width="270.50" height="200.10" fill="none" stroke="#000" stroke-width="1"/>
<path d="M69.32 862.50v-4M69.32 662.40v4M107.96 862.50v-4M107.96 662.40v4M146.61 862.50v-4M146.61 662.40v4M185.25 862.50v-4M185.25 662.40v4M223.89 862.50v-4M223.89 662.40v4M262.54 862.50v-4M262.54 662.40v4M301.18 862.50v-4M301.18 662.40v4M50.00 862.50v-2M50.00 662.40v2M88.64 862.50v-2M88.64 662.40v2M127.29 862.50v-2M127.29 662.40v2M165.93 862.50v-2M165.93 662.40v2M204.57 862.50v-2M204.57 662.40v2M243.21 862.50v-2M243.21 662.40v2M281.86 862.50v-2M281.86 662.40v2M320.50 862.50v-2M320.50 662.40v2M50.00 842.49h4M320.50 842.49h-4M50.00 802.47h4M320.50 802.47h-4M50.00 762.45h4M320.50 762.45h-4M50.00 722.43h4M320.50 722.43h-4M50.00 682.41h4M320.50 682.41h-4M50.00 862.50h2M320.50 862.50h-2M50.00 822.48h2M320.50 822.48h-2M50.00 782.46h2M320.50 782.46h-2M50.00 742.44h2M320.50 742.44h-2M50.00 702.42h2M320.50 702.42h-2M50.00 662.40h2M320.50 662.40h-2" stroke="#000" stroke-width="1" fill="none"/>
<text x="43.0" y="687.4" font-size="12.5" text-anchor="end" fill="#000">0.8</text>
<text x="43.0" y="727.4" font-size="12.5" text-anchor="end" fill="#000">0.4</text>
<text x="43.0" y="767.5" font-size="12.5" text-anchor="end" fill="#000">0.0</text>
<text x="43.0" y="807.5" font-size="12.5" text-anchor="end" fill="#000">−0.4</text>
<text x="43.0" y="847.5" font-size="12.5" text-anchor="end" fill="#000">−0.8</text>
<text x="69.3" y="879.0" font-size="12.5" text-anchor="middle" fill="#000">−6</text>
<text x="108.0" y="879.0" font-size="12.5" text-anchor="middle" fill="#000">−4</text>
<text x="146.6" y="879.0" font-size="12.5" text-anchor="middle" fill="#000">−2</text>
<text x="185.2" y="879.0" font-size="12.5" text-anchor="middle" fill="#000">0</text>
<text x="223.9" y="879.0" font-size="12.5" text-anchor="middle" fill="#000">2</text>
<text x="262.5" y="879.0" font-size="12.5" text-anchor="middle" fill="#000">4</text>
<text x="301.2" y="879.0" font-size="12.5" text-anchor="middle" fill="#000">6</text>
<text x="57.3" y="681.7" font-size="15" text-anchor="start" fill="#000" font-weight="bold">d</text>
<text x="256.0" y="679.9" font-size="12.5" text-anchor="start" fill="#000">No anneal</text>
<text x="256.0" y="697.4" font-size="12.5" text-anchor="start" fill="#ff0000">200 °C AN</text>
<text x="256.0" y="715.0" font-size="12.5" text-anchor="start" fill="#0000ff">300 °C AN</text>
<text x="253.0" y="830.4" font-size="12.5" text-anchor="start" fill="#008000">400 °C AN</text>
<text x="253.0" y="849.7" font-size="12.5" text-anchor="start" fill="#ff00ff">500 °C AN</text>
<text x="60.1" y="836.9" font-size="12.5" text-anchor="start" fill="#000">CoSn</text>
<text x="185.2" y="897.7" font-size="12.5" text-anchor="middle"><tspan font-style="italic">H</tspan> (kOe)</text>
<g clip-path="url(#cf)">
<polyline points="227.9,360.3 232.4,360.0 237.0,358.5 241.5,357.8 246.1,361.2 250.6,359.3 255.2,359.7 259.7,359.9 264.3,359.9 268.8,360.4 273.3,358.7 277.9,359.7 282.4,360.0 287.0,359.1 291.5,359.4 296.1,359.9 300.6,360.0 305.2,358.6 309.7,359.8 314.3,360.4 318.8,361.2 323.3,360.7 327.9,361.4 332.4,360.2 337.0,360.1 341.5,362.4 346.1,360.3 350.6,359.7 355.2,360.2 359.7,361.3 364.2,359.1 368.8,361.0 373.3,361.6 377.9,361.4 382.4,360.3 387.0,359.3 391.5,359.2 396.1,360.1 400.6,361.5 405.2,361.0 409.7,361.2 414.2,360.5 418.8,362.1 423.3,360.2 427.9,359.6 432.4,360.4 437.0,359.8 441.5,361.2 446.1,361.7 450.6,360.8 455.1,359.0 459.7,359.1 464.2,360.6 468.8,358.9 473.3,360.4 477.9,358.6 482.4,359.6 487.0,360.5 491.5,359.2 496.1,360.8 500.6,360.9 505.1,361.4 509.7,359.7 514.2,360.0 518.8,360.0 523.3,360.3 527.9,358.5 532.4,360.3 537.0,360.6 541.5,358.6 546.0,358.4 550.6,359.5 555.1,361.5 559.7,360.4 564.2,359.2 568.8,359.7 573.3,358.2 577.9,361.1 582.4,359.0 587.0,360.3 591.5,358.3 596.0,359.6 600.6,358.4 605.1,359.9 609.7,360.5 614.2,360.1 618.8,359.5 623.3,359.8 627.9,357.4 632.4,357.1 636.9,358.1 641.5,359.2 646.0,358.2 650.6,358.6 655.1,356.3 659.7,357.3 664.2,357.0 668.8,357.8 673.3,359.3 677.9,357.9 682.4,358.1 686.9,356.6 691.5,356.9 696.0,357.8 700.6,357.4 705.1,355.4 709.7,358.0 714.2,357.9 718.8,357.2 723.3,357.7 727.8,357.4 732.4,356.5 736.9,355.3 741.5,358.8 746.0,357.0 750.6,357.0 755.1,357.1 759.7,357.2 764.2,357.3 768.8,356.0 773.3,357.5 777.8,357.1 782.4,357.0 786.9,356.9 791.5,357.2 796.0,356.0 800.6,357.0 805.1,356.8 809.7,357.0 814.2,358.0 818.7,357.8 823.3,358.0 827.8,356.8 832.4,357.7 836.9,358.1 841.5,356.8 846.0,356.5 850.6,358.8 855.1,355.3 859.7,357.0 864.2,357.1" fill="none" stroke="#800080" stroke-width="0.7" stroke-linejoin="round"/>
<path d="M227.9 360.3h0M232.4 360.0h0M237.0 358.5h0M241.5 357.8h0M246.1 361.2h0M250.6 359.3h0M255.2 359.7h0M259.7 359.9h0M264.3 359.9h0M268.8 360.4h0M273.3 358.7h0M277.9 359.7h0M282.4 360.0h0M287.0 359.1h0M291.5 359.4h0M296.1 359.9h0M300.6 360.0h0M305.2 358.6h0M309.7 359.8h0M314.3 360.4h0M318.8 361.2h0M323.3 360.7h0M327.9 361.4h0M332.4 360.2h0M337.0 360.1h0M341.5 362.4h0M346.1 360.3h0M350.6 359.7h0M355.2 360.2h0M359.7 361.3h0M364.2 359.1h0M368.8 361.0h0M373.3 361.6h0M377.9 361.4h0M382.4 360.3h0M387.0 359.3h0M391.5 359.2h0M396.1 360.1h0M400.6 361.5h0M405.2 361.0h0M409.7 361.2h0M414.2 360.5h0M418.8 362.1h0M423.3 360.2h0M427.9 359.6h0M432.4 360.4h0M437.0 359.8h0M441.5 361.2h0M446.1 361.7h0M450.6 360.8h0M455.1 359.0h0M459.7 359.1h0M464.2 360.6h0M468.8 358.9h0M473.3 360.4h0M477.9 358.6h0M482.4 359.6h0M487.0 360.5h0M491.5 359.2h0M496.1 360.8h0M500.6 360.9h0M505.1 361.4h0M509.7 359.7h0M514.2 360.0h0M518.8 360.0h0M523.3 360.3h0M527.9 358.5h0M532.4 360.3h0M537.0 360.6h0M541.5 358.6h0M546.0 358.4h0M550.6 359.5h0M555.1 361.5h0M559.7 360.4h0M564.2 359.2h0M568.8 359.7h0M573.3 358.2h0M577.9 361.1h0M582.4 359.0h0M587.0 360.3h0M591.5 358.3h0M596.0 359.6h0M600.6 358.4h0M605.1 359.9h0M609.7 360.5h0M614.2 360.1h0M618.8 359.5h0M623.3 359.8h0M627.9 357.4h0M632.4 357.1h0M636.9 358.1h0M641.5 359.2h0M646.0 358.2h0M650.6 358.6h0M655.1 356.3h0M659.7 357.3h0M664.2 357.0h0M668.8 357.8h0M673.3 359.3h0M677.9 357.9h0M682.4 358.1h0M686.9 356.6h0M691.5 356.9h0M696.0 357.8h0M700.6 357.4h0M705.1 355.4h0M709.7 358.0h0M714.2 357.9h0M718.8 357.2h0M723.3 357.7h0M727.8 357.4h0M732.4 356.5h0M736.9 355.3h0M741.5 358.8h0M746.0 357.0h0M750.6 357.0h0M755.1 357.1h0M759.7 357.2h0M764.2 357.3h0M768.8 356.0h0M773.3 357.5h0M777.8 357.1h0M782.4 357.0h0M786.9 356.9h0M791.5 357.2h0M796.0 356.0h0M800.6 357.0h0M805.1 356.8h0M809.7 357.0h0M814.2 358.0h0M818.7 357.8h0M823.3 358.0h0M827.8 356.8h0M832.4 357.7h0M836.9 358.1h0M841.5 356.8h0M846.0 356.5h0M850.6 358.8h0M855.1 355.3h0M859.7 357.0h0M864.2 357.1h0" stroke="#800080" stroke-width="3.1" stroke-linecap="round" fill="none"/>
<polyline points="864.2,355.3 859.7,356.3 855.1,356.9 850.6,354.1 846.0,357.4 841.5,356.4 836.9,355.5 832.4,357.4 827.8,356.4 823.3,355.9 818.7,353.9 814.2,357.2 809.7,356.4 805.1,355.7 800.6,356.2 796.0,357.5 791.5,355.9 786.9,356.2 782.4,355.9 777.8,355.2 773.3,355.3 768.8,355.9 764.2,356.0 759.7,357.4 755.1,356.5 750.6,356.1 746.0,356.7 741.5,356.2 736.9,357.2 732.4,354.8 727.8,354.2 723.3,356.7 718.8,355.9 714.2,356.6 709.7,355.1 705.1,355.9 700.6,356.2 696.0,356.5 691.5,356.2 686.9,357.3 682.4,355.6 677.9,357.1 673.3,355.9 668.8,356.4 664.2,355.5 659.7,356.7 655.1,355.7 650.6,357.7 646.0,356.3 641.5,357.2 636.9,356.8 632.4,357.1 627.9,356.3 623.3,359.3 618.8,357.1 614.2,359.0 609.7,356.4 605.1,359.6 600.6,358.8 596.0,359.5 591.5,356.3 587.0,359.3 582.4,358.0 577.9,358.7 573.3,360.0 568.8,358.6 564.2,357.7 559.7,358.6 555.1,357.5 550.6,358.9 546.0,358.6 541.5,359.0 537.0,358.3 532.4,356.8 527.9,358.4 523.3,358.6 518.8,359.5 514.2,359.7 509.7,357.5 505.1,360.1 500.6,360.0 496.1,359.2 491.5,359.6 487.0,357.2 482.4,361.6 477.9,358.9 473.3,358.6 468.8,360.4 464.2,360.0 459.7,359.0 455.1,357.8 450.6,360.4 446.1,361.1 441.5,358.5 437.0,358.0 432.4,359.9 427.9,361.8 423.3,358.1 418.8,359.8 414.2,358.5 409.7,359.7 405.2,360.0 400.6,360.1 396.1,358.2 391.5,358.2 387.0,361.8 382.4,360.6 377.9,357.9 373.3,360.0 368.8,361.0 364.2,359.7 359.7,359.8 355.2,359.8 350.6,360.1 346.1,360.0 341.5,360.1 337.0,359.3 332.4,360.5 327.9,360.0 323.3,359.8 318.8,358.4 314.3,359.3 309.7,359.8 305.2,359.1 300.6,359.3 296.1,358.6 291.5,359.2 287.0,357.9 282.4,358.3 277.9,359.7 273.3,360.1 268.8,358.8 264.3,359.1 259.7,359.8 255.2,361.1 250.6,361.5 246.1,359.3 241.5,358.9 237.0,358.9 232.4,361.0 227.9,358.6" fill="none" stroke="#800080" stroke-width="0.7" stroke-linejoin="round"/>
<path d="M864.2 355.3h0M859.7 356.3h0M855.1 356.9h0M850.6 354.1h0M846.0 357.4h0M841.5 356.4h0M836.9 355.5h0M832.4 357.4h0M827.8 356.4h0M823.3 355.9h0M818.7 353.9h0M814.2 357.2h0M809.7 356.4h0M805.1 355.7h0M800.6 356.2h0M796.0 357.5h0M791.5 355.9h0M786.9 356.2h0M782.4 355.9h0M777.8 355.2h0M773.3 355.3h0M768.8 355.9h0M764.2 356.0h0M759.7 357.4h0M755.1 356.5h0M750.6 356.1h0M746.0 356.7h0M741.5 356.2h0M736.9 357.2h0M732.4 354.8h0M727.8 354.2h0M723.3 356.7h0M718.8 355.9h0M714.2 356.6h0M709.7 355.1h0M705.1 355.9h0M700.6 356.2h0M696.0 356.5h0M691.5 356.2h0M686.9 357.3h0M682.4 355.6h0M677.9 357.1h0M673.3 355.9h0M668.8 356.4h0M664.2 355.5h0M659.7 356.7h0M655.1 355.7h0M650.6 357.7h0M646.0 356.3h0M641.5 357.2h0M636.9 356.8h0M632.4 357.1h0M627.9 356.3h0M623.3 359.3h0M618.8 357.1h0M614.2 359.0h0M609.7 356.4h0M605.1 359.6h0M600.6 358.8h0M596.0 359.5h0M591.5 356.3h0M587.0 359.3h0M582.4 358.0h0M577.9 358.7h0M573.3 360.0h0M568.8 358.6h0M564.2 357.7h0M559.7 358.6h0M555.1 357.5h0M550.6 358.9h0M546.0 358.6h0M541.5 359.0h0M537.0 358.3h0M532.4 356.8h0M527.9 358.4h0M523.3 358.6h0M518.8 359.5h0M514.2 359.7h0M509.7 357.5h0M505.1 360.1h0M500.6 360.0h0M496.1 359.2h0M491.5 359.6h0M487.0 357.2h0M482.4 361.6h0M477.9 358.9h0M473.3 358.6h0M468.8 360.4h0M464.2 360.0h0M459.7 359.0h0M455.1 357.8h0M450.6 360.4h0M446.1 361.1h0M441.5 358.5h0M437.0 358.0h0M432.4 359.9h0M427.9 361.8h0M423.3 358.1h0M418.8 359.8h0M414.2 358.5h0M409.7 359.7h0M405.2 360.0h0M400.6 360.1h0M396.1 358.2h0M391.5 358.2h0M387.0 361.8h0M382.4 360.6h0M377.9 357.9h0M373.3 360.0h0M368.8 361.0h0M364.2 359.7h0M359.7 359.8h0M355.2 359.8h0M350.6 360.1h0M346.1 360.0h0M341.5 360.1h0M337.0 359.3h0M332.4 360.5h0M327.9 360.0h0M323.3 359.8h0M318.8 358.4h0M314.3 359.3h0M309.7 359.8h0M305.2 359.1h0M300.6 359.3h0M296.1 358.6h0M291.5 359.2h0M287.0 357.9h0M282.4 358.3h0M277.9 359.7h0M273.3 360.1h0M268.8 358.8h0M264.3 359.1h0M259.7 359.8h0M255.2 361.1h0M250.6 361.5h0M246.1 359.3h0M241.5 358.9h0M237.0 358.9h0M232.4 361.0h0M227.9 358.6h0" stroke="#800080" stroke-width="3.1" stroke-linecap="round" fill="none"/>
<polyline points="227.9,364.2 232.4,363.3 237.0,363.3 241.5,364.5 246.1,364.3 250.6,365.7 255.2,364.6 259.7,365.5 264.3,363.2 268.8,363.6 273.3,362.8 277.9,363.3 282.4,364.3 287.0,363.3 291.5,364.1 296.1,363.1 300.6,363.4 305.2,364.7 309.7,363.7 314.3,363.6 318.8,364.0 323.3,362.8 327.9,362.0 332.4,364.0 337.0,364.0 341.5,365.9 346.1,363.8 350.6,364.1 355.2,365.8 359.7,363.4 364.2,363.1 368.8,364.4 373.3,364.0 377.9,364.6 382.4,362.9 387.0,365.2 391.5,364.0 396.1,361.7 400.6,363.6 405.2,363.2 409.7,363.8 414.2,364.8 418.8,363.7 423.3,363.3 427.9,364.7 432.4,363.3 437.0,362.4 441.5,362.6 446.1,365.3 450.6,364.6 455.1,365.3 459.7,362.6 464.2,363.1 468.8,363.0 473.3,364.6 477.9,364.8 482.4,363.6 487.0,363.6 491.5,364.5 496.1,363.5 500.6,363.0 505.1,363.4 509.7,364.7 514.2,365.8 518.8,363.9 523.3,363.5 527.9,363.9 532.4,364.1 537.0,364.4 541.5,363.0 546.0,363.7 550.6,363.5 555.1,364.6 559.7,364.3 564.2,363.5 568.8,364.7 573.3,364.9 577.9,364.0 582.4,362.5 587.0,363.5 591.5,362.2 596.0,363.8 600.6,364.0 605.1,365.1 609.7,364.2 614.2,362.2 618.8,363.3 623.3,362.9 627.9,363.0 632.4,363.7 636.9,363.9 641.5,363.6 646.0,363.0 650.6,363.2 655.1,363.2 659.7,363.5 664.2,364.4 668.8,363.9 673.3,364.6 677.9,362.7 682.4,365.8 686.9,363.9 691.5,361.3 696.0,364.0 700.6,364.8 705.1,363.7 709.7,362.4 714.2,363.8 718.8,363.1 723.3,363.6 727.8,364.0 732.4,360.5 736.9,363.6 741.5,364.2 746.0,364.2 750.6,363.3 755.1,363.3 759.7,362.9 764.2,363.5 768.8,365.1 773.3,363.1 777.8,364.0 782.4,364.0 786.9,365.2 791.5,364.2 796.0,364.4 800.6,363.7 805.1,365.1 809.7,363.6 814.2,363.5 818.7,364.8 823.3,364.3 827.8,364.5 832.4,362.8 836.9,366.2 841.5,364.0 846.0,365.3 850.6,364.1 855.1,362.8 859.7,364.3 864.2,363.5" fill="none" stroke="#1a8a1a" stroke-width="0.7" stroke-linejoin="round"/>
<path d="M227.9 364.2h0M232.4 363.3h0M237.0 363.3h0M241.5 364.5h0M246.1 364.3h0M250.6 365.7h0M255.2 364.6h0M259.7 365.5h0M264.3 363.2h0M268.8 363.6h0M273.3 362.8h0M277.9 363.3h0M282.4 364.3h0M287.0 363.3h0M291.5 364.1h0M296.1 363.1h0M300.6 363.4h0M305.2 364.7h0M309.7 363.7h0M314.3 363.6h0M318.8 364.0h0M323.3 362.8h0M327.9 362.0h0M332.4 364.0h0M337.0 364.0h0M341.5 365.9h0M346.1 363.8h0M350.6 364.1h0M355.2 365.8h0M359.7 363.4h0M364.2 363.1h0M368.8 364.4h0M373.3 364.0h0M377.9 364.6h0M382.4 362.9h0M387.0 365.2h0M391.5 364.0h0M396.1 361.7h0M400.6 363.6h0M405.2 363.2h0M409.7 363.8h0M414.2 364.8h0M418.8 363.7h0M423.3 363.3h0M427.9 364.7h0M432.4 363.3h0M437.0 362.4h0M441.5 362.6h0M446.1 365.3h0M450.6 364.6h0M455.1 365.3h0M459.7 362.6h0M464.2 363.1h0M468.8 363.0h0M473.3 364.6h0M477.9 364.8h0M482.4 363.6h0M487.0 363.6h0M491.5 364.5h0M496.1 363.5h0M500.6 363.0h0M505.1 363.4h0M509.7 364.7h0M514.2 365.8h0M518.8 363.9h0M523.3 363.5h0M527.9 363.9h0M532.4 364.1h0M537.0 364.4h0M541.5 363.0h0M546.0 363.7h0M550.6 363.5h0M555.1 364.6h0M559.7 364.3h0M564.2 363.5h0M568.8 364.7h0M573.3 364.9h0M577.9 364.0h0M582.4 362.5h0M587.0 363.5h0M591.5 362.2h0M596.0 363.8h0M600.6 364.0h0M605.1 365.1h0M609.7 364.2h0M614.2 362.2h0M618.8 363.3h0M623.3 362.9h0M627.9 363.0h0M632.4 363.7h0M636.9 363.9h0M641.5 363.6h0M646.0 363.0h0M650.6 363.2h0M655.1 363.2h0M659.7 363.5h0M664.2 364.4h0M668.8 363.9h0M673.3 364.6h0M677.9 362.7h0M682.4 365.8h0M686.9 363.9h0M691.5 361.3h0M696.0 364.0h0M700.6 364.8h0M705.1 363.7h0M709.7 362.4h0M714.2 363.8h0M718.8 363.1h0M723.3 363.6h0M727.8 364.0h0M732.4 360.5h0M736.9 363.6h0M741.5 364.2h0M746.0 364.2h0M750.6 363.3h0M755.1 363.3h0M759.7 362.9h0M764.2 363.5h0M768.8 365.1h0M773.3 363.1h0M777.8 364.0h0M782.4 364.0h0M786.9 365.2h0M791.5 364.2h0M796.0 364.4h0M800.6 363.7h0M805.1 365.1h0M809.7 363.6h0M814.2 363.5h0M818.7 364.8h0M823.3 364.3h0M827.8 364.5h0M832.4 362.8h0M836.9 366.2h0M841.5 364.0h0M846.0 365.3h0M850.6 364.1h0M855.1 362.8h0M859.7 364.3h0M864.2 363.5h0" stroke="#1a8a1a" stroke-width="3.1" stroke-linecap="round" fill="none"/>
<polyline points="864.2,363.2 859.7,360.4 855.1,361.4 850.6,361.2 846.0,363.7 841.5,363.4 836.9,361.3 832.4,362.5 827.8,362.6 823.3,362.0 818.7,363.6 814.2,361.6 809.7,362.3 805.1,361.9 800.6,363.0 796.0,361.8 791.5,363.0 786.9,361.4 782.4,361.2 777.8,361.4 773.3,361.8 768.8,361.7 764.2,365.0 759.7,361.5 755.1,362.6 750.6,362.2 746.0,362.6 741.5,363.7 736.9,362.9 732.4,361.7 727.8,360.9 723.3,363.0 718.8,363.2 714.2,360.9 709.7,363.2 705.1,360.3 700.6,362.3 696.0,363.2 691.5,361.3 686.9,360.6 682.4,363.8 677.9,360.8 673.3,362.6 668.8,360.8 664.2,362.7 659.7,363.9 655.1,361.8 650.6,361.4 646.0,360.2 641.5,360.6 636.9,361.6 632.4,362.6 627.9,362.9 623.3,362.6 618.8,363.2 614.2,362.6 609.7,364.9 605.1,362.2 600.6,362.4 596.0,359.8 591.5,361.6 587.0,362.8 582.4,361.8 577.9,363.6 573.3,362.9 568.8,364.2 564.2,360.9 559.7,361.7 555.1,363.5 550.6,362.4 546.0,361.4 541.5,361.8 537.0,362.0 532.4,363.2 527.9,363.0 523.3,362.2 518.8,361.4 514.2,363.2 509.7,363.5 505.1,361.2 500.6,363.3 496.1,361.3 491.5,362.1 487.0,361.5 482.4,360.6 477.9,361.6 473.3,361.6 468.8,363.3 464.2,363.0 459.7,361.7 455.1,360.8 450.6,360.9 446.1,360.0 441.5,362.0 437.0,362.1 432.4,361.3 427.9,362.3 423.3,362.4 418.8,363.4 414.2,361.3 409.7,363.4 405.2,361.8 400.6,363.8 396.1,361.2 391.5,363.4 387.0,361.5 382.4,363.9 377.9,362.8 373.3,361.2 368.8,363.1 364.2,362.3 359.7,362.8 355.2,364.7 350.6,362.0 346.1,361.9 341.5,363.4 337.0,361.8 332.4,363.1 327.9,363.3 323.3,362.3 318.8,363.0 314.3,360.0 309.7,363.9 305.2,361.6 300.6,361.3 296.1,364.3 291.5,364.1 287.0,361.8 282.4,362.8 277.9,362.0 273.3,361.2 268.8,362.7 264.3,363.4 259.7,365.1 255.2,362.1 250.6,363.3 246.1,362.0 241.5,362.1 237.0,363.7 232.4,360.6 227.9,361.3" fill="none" stroke="#1a8a1a" stroke-width="0.7" stroke-linejoin="round"/>
<path d="M864.2 363.2h0M859.7 360.4h0M855.1 361.4h0M850.6 361.2h0M846.0 363.7h0M841.5 363.4h0M836.9 361.3h0M832.4 362.5h0M827.8 362.6h0M823.3 362.0h0M818.7 363.6h0M814.2 361.6h0M809.7 362.3h0M805.1 361.9h0M800.6 363.0h0M796.0 361.8h0M791.5 363.0h0M786.9 361.4h0M782.4 361.2h0M777.8 361.4h0M773.3 361.8h0M768.8 361.7h0M764.2 365.0h0M759.7 361.5h0M755.1 362.6h0M750.6 362.2h0M746.0 362.6h0M741.5 363.7h0M736.9 362.9h0M732.4 361.7h0M727.8 360.9h0M723.3 363.0h0M718.8 363.2h0M714.2 360.9h0M709.7 363.2h0M705.1 360.3h0M700.6 362.3h0M696.0 363.2h0M691.5 361.3h0M686.9 360.6h0M682.4 363.8h0M677.9 360.8h0M673.3 362.6h0M668.8 360.8h0M664.2 362.7h0M659.7 363.9h0M655.1 361.8h0M650.6 361.4h0M646.0 360.2h0M641.5 360.6h0M636.9 361.6h0M632.4 362.6h0M627.9 362.9h0M623.3 362.6h0M618.8 363.2h0M614.2 362.6h0M609.7 364.9h0M605.1 362.2h0M600.6 362.4h0M596.0 359.8h0M591.5 361.6h0M587.0 362.8h0M582.4 361.8h0M577.9 363.6h0M573.3 362.9h0M568.8 364.2h0M564.2 360.9h0M559.7 361.7h0M555.1 363.5h0M550.6 362.4h0M546.0 361.4h0M541.5 361.8h0M537.0 362.0h0M532.4 363.2h0M527.9 363.0h0M523.3 362.2h0M518.8 361.4h0M514.2 363.2h0M509.7 363.5h0M505.1 361.2h0M500.6 363.3h0M496.1 361.3h0M491.5 362.1h0M487.0 361.5h0M482.4 360.6h0M477.9 361.6h0M473.3 361.6h0M468.8 363.3h0M464.2 363.0h0M459.7 361.7h0M455.1 360.8h0M450.6 360.9h0M446.1 360.0h0M441.5 362.0h0M437.0 362.1h0M432.4 361.3h0M427.9 362.3h0M423.3 362.4h0M418.8 363.4h0M414.2 361.3h0M409.7 363.4h0M405.2 361.8h0M400.6 363.8h0M396.1 361.2h0M391.5 363.4h0M387.0 361.5h0M382.4 363.9h0M377.9 362.8h0M373.3 361.2h0M368.8 363.1h0M364.2 362.3h0M359.7 362.8h0M355.2 364.7h0M350.6 362.0h0M346.1 361.9h0M341.5 363.4h0M337.0 361.8h0M332.4 363.1h0M327.9 363.3h0M323.3 362.3h0M318.8 363.0h0M314.3 360.0h0M309.7 363.9h0M305.2 361.6h0M300.6 361.3h0M296.1 364.3h0M291.5 364.1h0M287.0 361.8h0M282.4 362.8h0M277.9 362.0h0M273.3 361.2h0M268.8 362.7h0M264.3 363.4h0M259.7 365.1h0M255.2 362.1h0M250.6 363.3h0M246.1 362.0h0M241.5 362.1h0M237.0 363.7h0M232.4 360.6h0M227.9 361.3h0" stroke="#1a8a1a" stroke-width="3.1" stroke-linecap="round" fill="none"/>
<polyline points="227.9,334.1 232.4,334.6 237.0,334.4 241.5,334.4 246.1,334.4 250.6,334.6 255.2,334.2 259.7,334.2 264.3,334.2 268.8,334.4 273.3,333.9 277.9,334.2 282.4,335.0 287.0,334.5 291.5,334.3 296.1,334.0 300.6,334.4 305.2,334.3 309.7,334.5 314.3,334.1 318.8,334.4 323.3,334.4 327.9,334.5 332.4,334.1 337.0,334.4 341.5,334.7 346.1,334.1 350.6,334.5 355.2,334.2 359.7,334.2 364.2,334.0 368.8,334.0 373.3,334.4 377.9,334.3 382.4,334.6 387.0,333.8 391.5,334.2 396.1,333.9 400.6,334.4 405.2,334.8 409.7,333.9 414.2,334.3 418.8,334.2 423.3,334.3 427.9,334.1 432.4,334.1 437.0,334.7 441.5,334.0 446.1,334.4 450.6,334.4 455.1,333.8 459.7,334.0 464.2,334.4 468.8,334.8 473.3,334.2 477.9,334.1 482.4,334.3 487.0,334.6 491.5,334.5 496.1,334.6 500.6,334.2 505.1,334.1 509.7,334.0 514.2,334.5 518.8,334.2 523.3,334.1 527.9,334.4 532.4,334.3 537.0,333.7 541.5,334.2 546.0,334.0 550.6,334.4 555.1,337.7 559.7,386.8 564.2,386.4 568.8,386.1 573.3,385.8 577.9,386.1 582.4,386.2 587.0,386.4 591.5,386.5 596.0,386.4 600.6,386.2 605.1,386.6 609.7,386.1 614.2,386.6 618.8,386.9 623.3,386.7 627.9,386.8 632.4,386.8 636.9,386.1 641.5,386.4 646.0,386.3 650.6,386.1 655.1,386.0 659.7,386.5 664.2,386.0 668.8,386.3 673.3,386.4 677.9,386.3 682.4,386.8 686.9,386.6 691.5,386.4 696.0,386.2 700.6,386.5 705.1,386.4 709.7,386.1 714.2,386.0 718.8,386.2 723.3,386.0 727.8,386.5 732.4,386.5 736.9,386.3 741.5,386.5 746.0,386.5 750.6,385.9 755.1,386.4 759.7,386.6 764.2,386.3 768.8,385.9 773.3,386.4 777.8,386.1 782.4,386.5 786.9,386.5 791.5,386.6 796.0,386.4 800.6,385.9 805.1,386.7 809.7,385.9 814.2,386.7 818.7,386.4 823.3,386.2 827.8,386.2 832.4,386.3 836.9,386.8 841.5,386.3 846.0,386.7 850.6,385.7 855.1,386.4 859.7,386.3 864.2,386.7" fill="none" stroke="#000" stroke-width="0.7" stroke-linejoin="round"/>
<path d="M227.9 334.1h0M232.4 334.6h0M237.0 334.4h0M241.5 334.4h0M246.1 334.4h0M250.6 334.6h0M255.2 334.2h0M259.7 334.2h0M264.3 334.2h0M268.8 334.4h0M273.3 333.9h0M277.9 334.2h0M282.4 335.0h0M287.0 334.5h0M291.5 334.3h0M296.1 334.0h0M300.6 334.4h0M305.2 334.3h0M309.7 334.5h0M314.3 334.1h0M318.8 334.4h0M323.3 334.4h0M327.9 334.5h0M332.4 334.1h0M337.0 334.4h0M341.5 334.7h0M346.1 334.1h0M350.6 334.5h0M355.2 334.2h0M359.7 334.2h0M364.2 334.0h0M368.8 334.0h0M373.3 334.4h0M377.9 334.3h0M382.4 334.6h0M387.0 333.8h0M391.5 334.2h0M396.1 333.9h0M400.6 334.4h0M405.2 334.8h0M409.7 333.9h0M414.2 334.3h0M418.8 334.2h0M423.3 334.3h0M427.9 334.1h0M432.4 334.1h0M437.0 334.7h0M441.5 334.0h0M446.1 334.4h0M450.6 334.4h0M455.1 333.8h0M459.7 334.0h0M464.2 334.4h0M468.8 334.8h0M473.3 334.2h0M477.9 334.1h0M482.4 334.3h0M487.0 334.6h0M491.5 334.5h0M496.1 334.6h0M500.6 334.2h0M505.1 334.1h0M509.7 334.0h0M514.2 334.5h0M518.8 334.2h0M523.3 334.1h0M527.9 334.4h0M532.4 334.3h0M537.0 333.7h0M541.5 334.2h0M546.0 334.0h0M550.6 334.4h0M555.1 337.7h0M559.7 386.8h0M564.2 386.4h0M568.8 386.1h0M573.3 385.8h0M577.9 386.1h0M582.4 386.2h0M587.0 386.4h0M591.5 386.5h0M596.0 386.4h0M600.6 386.2h0M605.1 386.6h0M609.7 386.1h0M614.2 386.6h0M618.8 386.9h0M623.3 386.7h0M627.9 386.8h0M632.4 386.8h0M636.9 386.1h0M641.5 386.4h0M646.0 386.3h0M650.6 386.1h0M655.1 386.0h0M659.7 386.5h0M664.2 386.0h0M668.8 386.3h0M673.3 386.4h0M677.9 386.3h0M682.4 386.8h0M686.9 386.6h0M691.5 386.4h0M696.0 386.2h0M700.6 386.5h0M705.1 386.4h0M709.7 386.1h0M714.2 386.0h0M718.8 386.2h0M723.3 386.0h0M727.8 386.5h0M732.4 386.5h0M736.9 386.3h0M741.5 386.5h0M746.0 386.5h0M750.6 385.9h0M755.1 386.4h0M759.7 386.6h0M764.2 386.3h0M768.8 385.9h0M773.3 386.4h0M777.8 386.1h0M782.4 386.5h0M786.9 386.5h0M791.5 386.6h0M796.0 386.4h0M800.6 385.9h0M805.1 386.7h0M809.7 385.9h0M814.2 386.7h0M818.7 386.4h0M823.3 386.2h0M827.8 386.2h0M832.4 386.3h0M836.9 386.8h0M841.5 386.3h0M846.0 386.7h0M850.6 385.7h0M855.1 386.4h0M859.7 386.3h0M864.2 386.7h0" stroke="#000" stroke-width="3.1" stroke-linecap="round" fill="none"/>
<polyline points="864.2,385.8 859.7,386.1 855.1,385.5 850.6,385.8 846.0,385.6 841.5,385.9 836.9,385.8 832.4,385.4 827.8,386.0 823.3,386.2 818.7,385.6 814.2,386.0 809.7,385.8 805.1,385.5 800.6,385.9 796.0,385.5 791.5,385.9 786.9,385.3 782.4,385.4 777.8,385.8 773.3,385.8 768.8,385.9 764.2,385.7 759.7,385.4 755.1,386.1 750.6,385.5 746.0,386.1 741.5,385.9 736.9,386.2 732.4,385.2 727.8,385.7 723.3,385.7 718.8,385.9 714.2,385.4 709.7,386.3 705.1,385.7 700.6,385.1 696.0,385.8 691.5,385.7 686.9,385.5 682.4,385.9 677.9,385.7 673.3,385.5 668.8,385.7 664.2,385.6 659.7,385.8 655.1,385.6 650.6,385.7 646.0,385.3 641.5,385.5 636.9,385.8 632.4,386.4 627.9,385.5 623.3,385.5 618.8,386.0 614.2,386.2 609.7,386.0 605.1,385.5 600.6,386.0 596.0,385.8 591.5,385.7 587.0,385.4 582.4,385.7 577.9,385.7 573.3,385.9 568.8,385.3 564.2,385.4 559.7,385.7 555.1,386.1 550.6,385.9 546.0,385.6 541.5,385.9 537.0,338.0 532.4,334.9 527.9,334.9 523.3,334.8 518.8,334.8 514.2,335.2 509.7,335.0 505.1,334.3 500.6,335.3 496.1,335.1 491.5,334.7 487.0,335.0 482.4,335.2 477.9,335.3 473.3,334.8 468.8,334.7 464.2,334.6 459.7,334.9 455.1,334.7 450.6,335.2 446.1,334.9 441.5,335.1 437.0,334.9 432.4,334.7 427.9,334.7 423.3,335.2 418.8,334.6 414.2,335.1 409.7,335.2 405.2,335.0 400.6,335.3 396.1,334.9 391.5,334.9 387.0,335.0 382.4,334.8 377.9,335.0 373.3,334.9 368.8,335.3 364.2,334.9 359.7,335.2 355.2,335.1 350.6,335.0 346.1,334.9 341.5,335.4 337.0,335.4 332.4,335.0 327.9,334.8 323.3,334.9 318.8,334.7 314.3,334.6 309.7,334.8 305.2,335.0 300.6,335.2 296.1,335.2 291.5,335.1 287.0,334.9 282.4,334.9 277.9,334.9 273.3,335.0 268.8,334.8 264.3,334.9 259.7,334.9 255.2,334.9 250.6,335.1 246.1,335.2 241.5,334.8 237.0,334.8 232.4,335.0 227.9,335.1" fill="none" stroke="#000" stroke-width="0.7" stroke-linejoin="round"/>
<path d="M864.2 385.8h0M859.7 386.1h0M855.1 385.5h0M850.6 385.8h0M846.0 385.6h0M841.5 385.9h0M836.9 385.8h0M832.4 385.4h0M827.8 386.0h0M823.3 386.2h0M818.7 385.6h0M814.2 386.0h0M809.7 385.8h0M805.1 385.5h0M800.6 385.9h0M796.0 385.5h0M791.5 385.9h0M786.9 385.3h0M782.4 385.4h0M777.8 385.8h0M773.3 385.8h0M768.8 385.9h0M764.2 385.7h0M759.7 385.4h0M755.1 386.1h0M750.6 385.5h0M746.0 386.1h0M741.5 385.9h0M736.9 386.2h0M732.4 385.2h0M727.8 385.7h0M723.3 385.7h0M718.8 385.9h0M714.2 385.4h0M709.7 386.3h0M705.1 385.7h0M700.6 385.1h0M696.0 385.8h0M691.5 385.7h0M686.9 385.5h0M682.4 385.9h0M677.9 385.7h0M673.3 385.5h0M668.8 385.7h0M664.2 385.6h0M659.7 385.8h0M655.1 385.6h0M650.6 385.7h0M646.0 385.3h0M641.5 385.5h0M636.9 385.8h0M632.4 386.4h0M627.9 385.5h0M623.3 385.5h0M618.8 386.0h0M614.2 386.2h0M609.7 386.0h0M605.1 385.5h0M600.6 386.0h0M596.0 385.8h0M591.5 385.7h0M587.0 385.4h0M582.4 385.7h0M577.9 385.7h0M573.3 385.9h0M568.8 385.3h0M564.2 385.4h0M559.7 385.7h0M555.1 386.1h0M550.6 385.9h0M546.0 385.6h0M541.5 385.9h0M537.0 338.0h0M532.4 334.9h0M527.9 334.9h0M523.3 334.8h0M518.8 334.8h0M514.2 335.2h0M509.7 335.0h0M505.1 334.3h0M500.6 335.3h0M496.1 335.1h0M491.5 334.7h0M487.0 335.0h0M482.4 335.2h0M477.9 335.3h0M473.3 334.8h0M468.8 334.7h0M464.2 334.6h0M459.7 334.9h0M455.1 334.7h0M450.6 335.2h0M446.1 334.9h0M441.5 335.1h0M437.0 334.9h0M432.4 334.7h0M427.9 334.7h0M423.3 335.2h0M418.8 334.6h0M414.2 335.1h0M409.7 335.2h0M405.2 335.0h0M400.6 335.3h0M396.1 334.9h0M391.5 334.9h0M387.0 335.0h0M382.4 334.8h0M377.9 335.0h0M373.3 334.9h0M368.8 335.3h0M364.2 334.9h0M359.7 335.2h0M355.2 335.1h0M350.6 335.0h0M346.1 334.9h0M341.5 335.4h0M337.0 335.4h0M332.4 335.0h0M327.9 334.8h0M323.3 334.9h0M318.8 334.7h0M314.3 334.6h0M309.7 334.8h0M305.2 335.0h0M300.6 335.2h0M296.1 335.2h0M291.5 335.1h0M287.0 334.9h0M282.4 334.9h0M277.9 334.9h0M273.3 335.0h0M268.8 334.8h0M264.3 334.9h0M259.7 334.9h0M255.2 334.9h0M250.6 335.1h0M246.1 335.2h0M241.5 334.8h0M237.0 334.8h0M232.4 335.0h0M227.9 335.1h0" stroke="#000" stroke-width="3.1" stroke-linecap="round" fill="none"/>
<polyline points="227.9,329.1 232.4,330.7 237.0,330.4 241.5,330.1 246.1,330.9 250.6,330.2 255.2,329.3 259.7,329.8 264.3,329.9 268.8,330.0 273.3,330.2 277.9,329.8 282.4,330.4 287.0,330.5 291.5,330.2 296.1,329.8 300.6,330.1 305.2,329.9 309.7,331.4 314.3,329.6 318.8,329.0 323.3,329.6 327.9,330.4 332.4,330.7 337.0,330.1 341.5,330.8 346.1,329.9 350.6,330.6 355.2,329.8 359.7,329.5 364.2,331.4 368.8,330.1 373.3,330.6 377.9,331.0 382.4,330.6 387.0,330.4 391.5,329.7 396.1,331.1 400.6,329.7 405.2,329.2 409.7,330.0 414.2,330.0 418.8,330.3 423.3,330.9 427.9,330.0 432.4,330.1 437.0,329.9 441.5,328.9 446.1,329.9 450.6,330.0 455.1,329.4 459.7,331.0 464.2,330.9 468.8,330.5 473.3,330.6 477.9,329.9 482.4,330.4 487.0,329.3 491.5,329.5 496.1,329.9 500.6,330.5 505.1,329.9 509.7,329.8 514.2,330.8 518.8,330.1 523.3,329.9 527.9,330.2 532.4,329.4 537.0,329.6 541.5,330.7 546.0,330.2 550.6,330.7 555.1,330.0 559.7,330.7 564.2,329.8 568.8,330.1 573.3,336.8 577.9,389.8 582.4,390.5 587.0,388.8 591.5,389.8 596.0,389.0 600.6,389.5 605.1,389.4 609.7,388.7 614.2,389.5 618.8,389.0 623.3,390.5 627.9,389.3 632.4,389.9 636.9,389.8 641.5,389.7 646.0,389.5 650.6,388.8 655.1,390.7 659.7,389.7 664.2,390.1 668.8,389.1 673.3,390.0 677.9,389.5 682.4,389.9 686.9,389.4 691.5,389.2 696.0,389.9 700.6,389.7 705.1,390.5 709.7,389.6 714.2,389.3 718.8,390.0 723.3,389.1 727.8,390.8 732.4,390.7 736.9,390.5 741.5,390.0 746.0,389.7 750.6,389.8 755.1,389.8 759.7,389.3 764.2,390.0 768.8,390.4 773.3,390.4 777.8,388.6 782.4,391.0 786.9,389.8 791.5,388.9 796.0,389.5 800.6,390.2 805.1,389.7 809.7,389.3 814.2,389.1 818.7,390.2 823.3,389.3 827.8,389.6 832.4,389.1 836.9,389.0 841.5,389.9 846.0,390.5 850.6,389.5 855.1,388.8 859.7,389.4 864.2,389.6" fill="none" stroke="#ff0000" stroke-width="0.7" stroke-linejoin="round"/>
<path d="M227.9 329.1h0M232.4 330.7h0M237.0 330.4h0M241.5 330.1h0M246.1 330.9h0M250.6 330.2h0M255.2 329.3h0M259.7 329.8h0M264.3 329.9h0M268.8 330.0h0M273.3 330.2h0M277.9 329.8h0M282.4 330.4h0M287.0 330.5h0M291.5 330.2h0M296.1 329.8h0M300.6 330.1h0M305.2 329.9h0M309.7 331.4h0M314.3 329.6h0M318.8 329.0h0M323.3 329.6h0M327.9 330.4h0M332.4 330.7h0M337.0 330.1h0M341.5 330.8h0M346.1 329.9h0M350.6 330.6h0M355.2 329.8h0M359.7 329.5h0M364.2 331.4h0M368.8 330.1h0M373.3 330.6h0M377.9 331.0h0M382.4 330.6h0M387.0 330.4h0M391.5 329.7h0M396.1 331.1h0M400.6 329.7h0M405.2 329.2h0M409.7 330.0h0M414.2 330.0h0M418.8 330.3h0M423.3 330.9h0M427.9 330.0h0M432.4 330.1h0M437.0 329.9h0M441.5 328.9h0M446.1 329.9h0M450.6 330.0h0M455.1 329.4h0M459.7 331.0h0M464.2 330.9h0M468.8 330.5h0M473.3 330.6h0M477.9 329.9h0M482.4 330.4h0M487.0 329.3h0M491.5 329.5h0M496.1 329.9h0M500.6 330.5h0M505.1 329.9h0M509.7 329.8h0M514.2 330.8h0M518.8 330.1h0M523.3 329.9h0M527.9 330.2h0M532.4 329.4h0M537.0 329.6h0M541.5 330.7h0M546.0 330.2h0M550.6 330.7h0M555.1 330.0h0M559.7 330.7h0M564.2 329.8h0M568.8 330.1h0M573.3 336.8h0M577.9 389.8h0M582.4 390.5h0M587.0 388.8h0M591.5 389.8h0M596.0 389.0h0M600.6 389.5h0M605.1 389.4h0M609.7 388.7h0M614.2 389.5h0M618.8 389.0h0M623.3 390.5h0M627.9 389.3h0M632.4 389.9h0M636.9 389.8h0M641.5 389.7h0M646.0 389.5h0M650.6 388.8h0M655.1 390.7h0M659.7 389.7h0M664.2 390.1h0M668.8 389.1h0M673.3 390.0h0M677.9 389.5h0M682.4 389.9h0M686.9 389.4h0M691.5 389.2h0M696.0 389.9h0M700.6 389.7h0M705.1 390.5h0M709.7 389.6h0M714.2 389.3h0M718.8 390.0h0M723.3 389.1h0M727.8 390.8h0M732.4 390.7h0M736.9 390.5h0M741.5 390.0h0M746.0 389.7h0M750.6 389.8h0M755.1 389.8h0M759.7 389.3h0M764.2 390.0h0M768.8 390.4h0M773.3 390.4h0M777.8 388.6h0M782.4 391.0h0M786.9 389.8h0M791.5 388.9h0M796.0 389.5h0M800.6 390.2h0M805.1 389.7h0M809.7 389.3h0M814.2 389.1h0M818.7 390.2h0M823.3 389.3h0M827.8 389.6h0M832.4 389.1h0M836.9 389.0h0M841.5 389.9h0M846.0 390.5h0M850.6 389.5h0M855.1 388.8h0M859.7 389.4h0M864.2 389.6h0" stroke="#ff0000" stroke-width="3.1" stroke-linecap="round" fill="none"/>
<polyline points="864.2,387.8 859.7,389.6 855.1,388.6 850.6,389.4 846.0,389.0 841.5,389.0 836.9,388.2 832.4,389.6 827.8,389.3 823.3,389.9 818.7,388.8 814.2,389.3 809.7,388.8 805.1,389.6 800.6,389.2 796.0,388.5 791.5,389.1 786.9,388.7 782.4,388.8 777.8,389.2 773.3,389.9 768.8,388.5 764.2,389.0 759.7,388.5 755.1,390.1 750.6,389.9 746.0,390.2 741.5,389.5 736.9,388.5 732.4,388.8 727.8,389.1 723.3,389.0 718.8,388.6 714.2,389.2 709.7,388.8 705.1,389.0 700.6,390.2 696.0,389.3 691.5,388.3 686.9,389.3 682.4,389.1 677.9,389.4 673.3,389.3 668.8,388.5 664.2,389.2 659.7,389.6 655.1,390.7 650.6,389.4 646.0,390.1 641.5,390.0 636.9,388.6 632.4,388.7 627.9,390.1 623.3,388.6 618.8,388.8 614.2,389.5 609.7,388.7 605.1,389.9 600.6,389.7 596.0,389.8 591.5,389.6 587.0,388.6 582.4,389.8 577.9,389.7 573.3,389.6 568.8,389.0 564.2,389.2 559.7,388.6 555.1,389.4 550.6,389.7 546.0,389.3 541.5,389.0 537.0,389.6 532.4,388.9 527.9,388.1 523.3,389.4 518.8,386.3 514.2,330.3 509.7,331.3 505.1,331.4 500.6,331.5 496.1,330.7 491.5,330.7 487.0,331.0 482.4,330.9 477.9,330.3 473.3,330.5 468.8,331.7 464.2,331.0 459.7,330.9 455.1,330.6 450.6,331.1 446.1,331.3 441.5,331.2 437.0,331.9 432.4,331.0 427.9,331.3 423.3,330.7 418.8,331.5 414.2,331.2 409.7,331.5 405.2,331.5 400.6,330.6 396.1,331.2 391.5,330.7 387.0,331.6 382.4,330.9 377.9,331.9 373.3,331.2 368.8,331.2 364.2,330.6 359.7,330.9 355.2,331.1 350.6,330.5 346.1,330.9 341.5,330.7 337.0,330.6 332.4,331.0 327.9,331.1 323.3,330.8 318.8,331.2 314.3,330.8 309.7,330.4 305.2,330.5 300.6,331.2 296.1,331.6 291.5,331.0 287.0,331.0 282.4,330.4 277.9,331.2 273.3,331.1 268.8,330.6 264.3,331.2 259.7,331.0 255.2,330.1 250.6,330.2 246.1,330.6 241.5,330.8 237.0,331.5 232.4,330.7 227.9,330.9" fill="none" stroke="#ff0000" stroke-width="0.7" stroke-linejoin="round"/>
<path d="M864.2 387.8h0M859.7 389.6h0M855.1 388.6h0M850.6 389.4h0M846.0 389.0h0M841.5 389.0h0M836.9 388.2h0M832.4 389.6h0M827.8 389.3h0M823.3 389.9h0M818.7 388.8h0M814.2 389.3h0M809.7 388.8h0M805.1 389.6h0M800.6 389.2h0M796.0 388.5h0M791.5 389.1h0M786.9 388.7h0M782.4 388.8h0M777.8 389.2h0M773.3 389.9h0M768.8 388.5h0M764.2 389.0h0M759.7 388.5h0M755.1 390.1h0M750.6 389.9h0M746.0 390.2h0M741.5 389.5h0M736.9 388.5h0M732.4 388.8h0M727.8 389.1h0M723.3 389.0h0M718.8 388.6h0M714.2 389.2h0M709.7 388.8h0M705.1 389.0h0M700.6 390.2h0M696.0 389.3h0M691.5 388.3h0M686.9 389.3h0M682.4 389.1h0M677.9 389.4h0M673.3 389.3h0M668.8 388.5h0M664.2 389.2h0M659.7 389.6h0M655.1 390.7h0M650.6 389.4h0M646.0 390.1h0M641.5 390.0h0M636.9 388.6h0M632.4 388.7h0M627.9 390.1h0M623.3 388.6h0M618.8 388.8h0M614.2 389.5h0M609.7 388.7h0M605.1 389.9h0M600.6 389.7h0M596.0 389.8h0M591.5 389.6h0M587.0 388.6h0M582.4 389.8h0M577.9 389.7h0M573.3 389.6h0M568.8 389.0h0M564.2 389.2h0M559.7 388.6h0M555.1 389.4h0M550.6 389.7h0M546.0 389.3h0M541.5 389.0h0M537.0 389.6h0M532.4 388.9h0M527.9 388.1h0M523.3 389.4h0M518.8 386.3h0M514.2 330.3h0M509.7 331.3h0M505.1 331.4h0M500.6 331.5h0M496.1 330.7h0M491.5 330.7h0M487.0 331.0h0M482.4 330.9h0M477.9 330.3h0M473.3 330.5h0M468.8 331.7h0M464.2 331.0h0M459.7 330.9h0M455.1 330.6h0M450.6 331.1h0M446.1 331.3h0M441.5 331.2h0M437.0 331.9h0M432.4 331.0h0M427.9 331.3h0M423.3 330.7h0M418.8 331.5h0M414.2 331.2h0M409.7 331.5h0M405.2 331.5h0M400.6 330.6h0M396.1 331.2h0M391.5 330.7h0M387.0 331.6h0M382.4 330.9h0M377.9 331.9h0M373.3 331.2h0M368.8 331.2h0M364.2 330.6h0M359.7 330.9h0M355.2 331.1h0M350.6 330.5h0M346.1 330.9h0M341.5 330.7h0M337.0 330.6h0M332.4 331.0h0M327.9 331.1h0M323.3 330.8h0M318.8 331.2h0M314.3 330.8h0M309.7 330.4h0M305.2 330.5h0M300.6 331.2h0M296.1 331.6h0M291.5 331.0h0M287.0 331.0h0M282.4 330.4h0M277.9 331.2h0M273.3 331.1h0M268.8 330.6h0M264.3 331.2h0M259.7 331.0h0M255.2 330.1h0M250.6 330.2h0M246.1 330.6h0M241.5 330.8h0M237.0 331.5h0M232.4 330.7h0M227.9 330.9h0" stroke="#ff0000" stroke-width="3.1" stroke-linecap="round" fill="none"/>
<polyline points="227.9,318.7 232.4,319.5 237.0,319.0 241.5,319.2 246.1,318.6 250.6,317.4 255.2,318.6 259.7,320.7 264.3,320.0 268.8,320.7 273.3,319.8 277.9,318.4 282.4,318.5 287.0,319.6 291.5,318.7 296.1,319.8 300.6,320.5 305.2,320.5 309.7,319.9 314.3,317.5 318.8,320.4 323.3,317.6 327.9,317.6 332.4,319.2 337.0,319.0 341.5,319.6 346.1,319.0 350.6,318.3 355.2,319.0 359.7,317.9 364.2,317.7 368.8,318.6 373.3,318.6 377.9,319.0 382.4,318.6 387.0,320.2 391.5,318.5 396.1,318.8 400.6,319.9 405.2,316.7 409.7,320.0 414.2,319.9 418.8,318.7 423.3,321.1 427.9,319.9 432.4,320.7 437.0,320.1 441.5,319.3 446.1,318.8 450.6,318.0 455.1,318.3 459.7,318.0 464.2,318.6 468.8,319.8 473.3,318.1 477.9,319.8 482.4,320.0 487.0,317.7 491.5,318.5 496.1,319.2 500.6,318.6 505.1,318.5 509.7,320.9 514.2,319.6 518.8,320.8 523.3,319.4 527.9,320.3 532.4,318.1 537.0,319.0 541.5,320.5 546.0,319.7 550.6,320.9 555.1,319.5 559.7,319.0 564.2,319.2 568.8,321.5 573.3,319.8 577.9,318.9 582.4,319.0 587.0,318.1 591.5,320.7 596.0,318.7 600.6,319.9 605.1,319.0 609.7,318.7 614.2,318.4 618.8,319.7 623.3,318.9 627.9,320.3 632.4,322.0 636.9,377.1 641.5,399.3 646.0,401.2 650.6,400.4 655.1,399.5 659.7,397.9 664.2,398.5 668.8,398.8 673.3,401.6 677.9,399.9 682.4,399.3 686.9,399.4 691.5,399.4 696.0,400.1 700.6,397.9 705.1,398.2 709.7,399.9 714.2,400.9 718.8,397.6 723.3,400.4 727.8,398.5 732.4,397.8 736.9,400.8 741.5,399.5 746.0,400.2 750.6,399.3 755.1,399.5 759.7,397.7 764.2,399.2 768.8,399.8 773.3,398.6 777.8,400.1 782.4,400.2 786.9,397.4 791.5,400.7 796.0,400.3 800.6,399.8 805.1,400.9 809.7,402.1 814.2,398.7 818.7,400.6 823.3,400.4 827.8,400.2 832.4,400.9 836.9,401.0 841.5,399.6 846.0,397.2 850.6,399.0 855.1,399.0 859.7,401.4 864.2,399.8" fill="none" stroke="#0000ff" stroke-width="0.7" stroke-linejoin="round"/>
<path d="M227.9 318.7h0M232.4 319.5h0M237.0 319.0h0M241.5 319.2h0M246.1 318.6h0M250.6 317.4h0M255.2 318.6h0M259.7 320.7h0M264.3 320.0h0M268.8 320.7h0M273.3 319.8h0M277.9 318.4h0M282.4 318.5h0M287.0 319.6h0M291.5 318.7h0M296.1 319.8h0M300.6 320.5h0M305.2 320.5h0M309.7 319.9h0M314.3 317.5h0M318.8 320.4h0M323.3 317.6h0M327.9 317.6h0M332.4 319.2h0M337.0 319.0h0M341.5 319.6h0M346.1 319.0h0M350.6 318.3h0M355.2 319.0h0M359.7 317.9h0M364.2 317.7h0M368.8 318.6h0M373.3 318.6h0M377.9 319.0h0M382.4 318.6h0M387.0 320.2h0M391.5 318.5h0M396.1 318.8h0M400.6 319.9h0M405.2 316.7h0M409.7 320.0h0M414.2 319.9h0M418.8 318.7h0M423.3 321.1h0M427.9 319.9h0M432.4 320.7h0M437.0 320.1h0M441.5 319.3h0M446.1 318.8h0M450.6 318.0h0M455.1 318.3h0M459.7 318.0h0M464.2 318.6h0M468.8 319.8h0M473.3 318.1h0M477.9 319.8h0M482.4 320.0h0M487.0 317.7h0M491.5 318.5h0M496.1 319.2h0M500.6 318.6h0M505.1 318.5h0M509.7 320.9h0M514.2 319.6h0M518.8 320.8h0M523.3 319.4h0M527.9 320.3h0M532.4 318.1h0M537.0 319.0h0M541.5 320.5h0M546.0 319.7h0M550.6 320.9h0M555.1 319.5h0M559.7 319.0h0M564.2 319.2h0M568.8 321.5h0M573.3 319.8h0M577.9 318.9h0M582.4 319.0h0M587.0 318.1h0M591.5 320.7h0M596.0 318.7h0M600.6 319.9h0M605.1 319.0h0M609.7 318.7h0M614.2 318.4h0M618.8 319.7h0M623.3 318.9h0M627.9 320.3h0M632.4 322.0h0M636.9 377.1h0M641.5 399.3h0M646.0 401.2h0M650.6 400.4h0M655.1 399.5h0M659.7 397.9h0M664.2 398.5h0M668.8 398.8h0M673.3 401.6h0M677.9 399.9h0M682.4 399.3h0M686.9 399.4h0M691.5 399.4h0M696.0 400.1h0M700.6 397.9h0M705.1 398.2h0M709.7 399.9h0M714.2 400.9h0M718.8 397.6h0M723.3 400.4h0M727.8 398.5h0M732.4 397.8h0M736.9 400.8h0M741.5 399.5h0M746.0 400.2h0M750.6 399.3h0M755.1 399.5h0M759.7 397.7h0M764.2 399.2h0M768.8 399.8h0M773.3 398.6h0M777.8 400.1h0M782.4 400.2h0M786.9 397.4h0M791.5 400.7h0M796.0 400.3h0M800.6 399.8h0M805.1 400.9h0M809.7 402.1h0M814.2 398.7h0M818.7 400.6h0M823.3 400.4h0M827.8 400.2h0M832.4 400.9h0M836.9 401.0h0M841.5 399.6h0M846.0 397.2h0M850.6 399.0h0M855.1 399.0h0M859.7 401.4h0M864.2 399.8h0" stroke="#0000ff" stroke-width="3.1" stroke-linecap="round" fill="none"/>
<polyline points="864.2,399.1 859.7,397.0 855.1,398.0 850.6,397.8 846.0,397.9 841.5,398.4 836.9,399.4 832.4,397.2 827.8,399.3 823.3,399.1 818.7,398.1 814.2,398.6 809.7,397.5 805.1,396.7 800.6,397.5 796.0,397.6 791.5,397.8 786.9,396.9 782.4,399.8 777.8,397.4 773.3,398.8 768.8,399.1 764.2,397.8 759.7,398.2 755.1,397.2 750.6,396.6 746.0,400.3 741.5,397.9 736.9,395.7 732.4,396.9 727.8,396.3 723.3,397.7 718.8,399.3 714.2,399.0 709.7,397.0 705.1,396.8 700.6,398.6 696.0,398.1 691.5,397.5 686.9,399.7 682.4,398.2 677.9,396.0 673.3,395.4 668.8,397.8 664.2,395.7 659.7,398.1 655.1,398.4 650.6,399.9 646.0,396.4 641.5,397.8 636.9,394.9 632.4,397.0 627.9,397.1 623.3,399.2 618.8,395.6 614.2,397.5 609.7,397.3 605.1,399.4 600.6,396.0 596.0,395.9 591.5,397.6 587.0,396.8 582.4,396.4 577.9,395.7 573.3,396.6 568.8,394.8 564.2,396.9 559.7,397.2 555.1,397.1 550.6,399.2 546.0,397.3 541.5,395.4 537.0,396.2 532.4,397.3 527.9,396.1 523.3,398.6 518.8,396.8 514.2,395.9 509.7,395.7 505.1,397.3 500.6,395.5 496.1,394.5 491.5,396.9 487.0,395.7 482.4,398.1 477.9,398.6 473.3,395.8 468.8,396.4 464.2,396.2 459.7,396.9 455.1,376.3 450.6,320.5 446.1,317.8 441.5,319.5 437.0,320.7 432.4,317.3 427.9,317.7 423.3,317.2 418.8,317.4 414.2,314.8 409.7,316.9 405.2,316.4 400.6,318.9 396.1,317.6 391.5,317.7 387.0,317.0 382.4,316.6 377.9,317.8 373.3,315.1 368.8,318.1 364.2,317.4 359.7,316.7 355.2,318.3 350.6,316.4 346.1,316.3 341.5,317.3 337.0,314.9 332.4,316.9 327.9,316.7 323.3,318.0 318.8,318.8 314.3,317.6 309.7,317.3 305.2,317.5 300.6,316.1 296.1,319.5 291.5,318.2 287.0,318.9 282.4,315.5 277.9,317.6 273.3,317.5 268.8,318.1 264.3,316.0 259.7,317.4 255.2,316.7 250.6,319.1 246.1,315.7 241.5,316.5 237.0,316.4 232.4,315.6 227.9,317.2" fill="none" stroke="#0000ff" stroke-width="0.7" stroke-linejoin="round"/>
<path d="M864.2 399.1h0M859.7 397.0h0M855.1 398.0h0M850.6 397.8h0M846.0 397.9h0M841.5 398.4h0M836.9 399.4h0M832.4 397.2h0M827.8 399.3h0M823.3 399.1h0M818.7 398.1h0M814.2 398.6h0M809.7 397.5h0M805.1 396.7h0M800.6 397.5h0M796.0 397.6h0M791.5 397.8h0M786.9 396.9h0M782.4 399.8h0M777.8 397.4h0M773.3 398.8h0M768.8 399.1h0M764.2 397.8h0M759.7 398.2h0M755.1 397.2h0M750.6 396.6h0M746.0 400.3h0M741.5 397.9h0M736.9 395.7h0M732.4 396.9h0M727.8 396.3h0M723.3 397.7h0M718.8 399.3h0M714.2 399.0h0M709.7 397.0h0M705.1 396.8h0M700.6 398.6h0M696.0 398.1h0M691.5 397.5h0M686.9 399.7h0M682.4 398.2h0M677.9 396.0h0M673.3 395.4h0M668.8 397.8h0M664.2 395.7h0M659.7 398.1h0M655.1 398.4h0M650.6 399.9h0M646.0 396.4h0M641.5 397.8h0M636.9 394.9h0M632.4 397.0h0M627.9 397.1h0M623.3 399.2h0M618.8 395.6h0M614.2 397.5h0M609.7 397.3h0M605.1 399.4h0M600.6 396.0h0M596.0 395.9h0M591.5 397.6h0M587.0 396.8h0M582.4 396.4h0M577.9 395.7h0M573.3 396.6h0M568.8 394.8h0M564.2 396.9h0M559.7 397.2h0M555.1 397.1h0M550.6 399.2h0M546.0 397.3h0M541.5 395.4h0M537.0 396.2h0M532.4 397.3h0M527.9 396.1h0M523.3 398.6h0M518.8 396.8h0M514.2 395.9h0M509.7 395.7h0M505.1 397.3h0M500.6 395.5h0M496.1 394.5h0M491.5 396.9h0M487.0 395.7h0M482.4 398.1h0M477.9 398.6h0M473.3 395.8h0M468.8 396.4h0M464.2 396.2h0M459.7 396.9h0M455.1 376.3h0M450.6 320.5h0M446.1 317.8h0M441.5 319.5h0M437.0 320.7h0M432.4 317.3h0M427.9 317.7h0M423.3 317.2h0M418.8 317.4h0M414.2 314.8h0M409.7 316.9h0M405.2 316.4h0M400.6 318.9h0M396.1 317.6h0M391.5 317.7h0M387.0 317.0h0M382.4 316.6h0M377.9 317.8h0M373.3 315.1h0M368.8 318.1h0M364.2 317.4h0M359.7 316.7h0M355.2 318.3h0M350.6 316.4h0M346.1 316.3h0M341.5 317.3h0M337.0 314.9h0M332.4 316.9h0M327.9 316.7h0M323.3 318.0h0M318.8 318.8h0M314.3 317.6h0M309.7 317.3h0M305.2 317.5h0M300.6 316.1h0M296.1 319.5h0M291.5 318.2h0M287.0 318.9h0M282.4 315.5h0M277.9 317.6h0M273.3 317.5h0M268.8 318.1h0M264.3 316.0h0M259.7 317.4h0M255.2 316.7h0M250.6 319.1h0M246.1 315.7h0M241.5 316.5h0M237.0 316.4h0M232.4 315.6h0M227.9 317.2h0" stroke="#0000ff" stroke-width="3.1" stroke-linecap="round" fill="none"/>
</g>
<rect x="409.70" y="260.80" width="272.70" height="200.40" fill="none" stroke="#000" stroke-width="1"/>
<path d="M409.70 461.20v-4M409.70 260.80v4M455.15 461.20v-4M455.15 260.80v4M500.60 461.20v-4M500.60 260.80v4M546.05 461.20v-4M546.05 260.80v4M591.50 461.20v-4M591.50 260.80v4M636.95 461.20v-4M636.95 260.80v4M682.40 461.20v-4M682.40 260.80v4M432.43 461.20v-2M432.43 260.80v2M477.88 461.20v-2M477.88 260.80v2M523.33 461.20v-2M523.33 260.80v2M568.77 461.20v-2M568.77 260.80v2M614.22 461.20v-2M614.22 260.80v2M659.67 461.20v-2M659.67 260.80v2M409.70 427.80h4M682.40 427.80h-4M409.70 361.00h4M682.40 361.00h-4M409.70 294.20h4M682.40 294.20h-4M409.70 461.20h2M682.40 461.20h-2M409.70 394.40h2M682.40 394.40h-2M409.70 327.60h2M682.40 327.60h-2M409.70 260.80h2M682.40 260.80h-2" stroke="#000" stroke-width="1" fill="none"/>
<text x="402.7" y="299.2" font-size="12.5" text-anchor="end" fill="#000">0.1</text>
<text x="402.7" y="366.0" font-size="12.5" text-anchor="end" fill="#000">0.0</text>
<text x="402.7" y="432.8" font-size="12.5" text-anchor="end" fill="#000">−0.1</text>
<text x="416.6" y="278.6" font-size="15" text-anchor="start" fill="#000" font-weight="bold">f</text>
<line x1="590.00" y1="274.20" x2="618.00" y2="274.20" stroke="#000" stroke-width="1"/>
<circle cx="604.2" cy="274.2" r="1.7" fill="#000"/>
<text x="618.6" y="278.4" font-size="12.5">7.5 Mn<tspan font-size="9.6" dy="3">3</tspan><tspan dy="-3">Sn</tspan></text>
<line x1="590.00" y1="293.50" x2="618.00" y2="293.50" stroke="#ff0000" stroke-width="1"/>
<circle cx="604.2" cy="293.5" r="1.7" fill="#ff0000"/>
<text x="618.6" y="297.7" font-size="12.5">10 Mn<tspan font-size="9.6" dy="3">3</tspan><tspan dy="-3">Sn</tspan></text>
<line x1="590.00" y1="312.80" x2="618.00" y2="312.80" stroke="#0000ff" stroke-width="1"/>
<circle cx="604.2" cy="312.8" r="1.7" fill="#0000ff"/>
<text x="618.6" y="317.0" font-size="12.5">15 Mn<tspan font-size="9.6" dy="3">3</tspan><tspan dy="-3">Sn</tspan></text>
<line x1="417.90" y1="427.50" x2="446.40" y2="427.50" stroke="#800080" stroke-width="1"/>
<circle cx="432.5" cy="427.5" r="1.7" fill="#800080"/>
<text x="450.5" y="429.9" font-size="12.5">Cr | Mn<tspan font-size="9.6" dy="3">3</tspan><tspan dy="-3">Sn</tspan></text>
<line x1="417.90" y1="446.20" x2="446.40" y2="446.20" stroke="#1a8a1a" stroke-width="1"/>
<circle cx="432.5" cy="446.2" r="1.7" fill="#1a8a1a"/>
<text x="450.5" y="448.6" font-size="12.5">CTL | Sb | Mn<tspan font-size="9.6" dy="3">3</tspan><tspan dy="-3">Sn</tspan></text>
<g clip-path="url(#cg)">
<path d="M436.7 515.4h0M437.6 514.5h0M438.5 514.8h0M439.4 515.5h0M440.3 515.2h0M441.2 515.8h0M442.2 514.5h0M443.1 514.3h0M444.0 515.3h0M444.9 513.4h0M445.8 516.8h0M446.7 515.5h0M447.6 513.6h0M448.5 515.8h0M449.4 516.9h0M450.4 514.0h0M451.3 514.8h0M452.2 516.6h0M453.1 514.6h0M454.0 516.4h0M454.9 516.7h0M455.8 515.6h0M456.7 515.9h0M457.6 516.5h0M458.5 515.8h0M459.4 516.5h0M460.4 515.4h0M461.3 515.5h0M462.2 514.7h0M463.1 516.0h0M464.0 516.8h0M464.9 516.8h0M465.8 515.8h0M466.7 514.0h0M467.6 514.7h0M468.6 516.2h0M469.5 514.6h0M470.4 516.7h0M471.3 514.6h0M472.2 516.0h0M473.1 514.8h0M474.0 515.0h0M474.9 515.9h0M475.8 515.3h0M476.7 516.7h0M477.7 515.7h0M478.6 514.6h0M479.5 511.6h0M480.4 515.0h0M481.3 515.6h0M482.2 516.7h0M483.1 514.7h0M484.0 517.4h0M484.9 516.6h0M485.8 515.4h0M486.8 517.0h0M487.7 514.2h0M488.6 514.7h0M489.5 516.4h0M490.4 516.4h0M491.3 517.1h0M492.2 517.2h0M493.1 515.4h0M494.0 515.2h0M494.9 515.5h0M495.9 515.6h0M496.8 516.4h0M497.7 515.5h0M498.6 517.4h0M499.5 515.9h0M500.4 514.4h0M501.3 514.6h0M502.2 516.4h0M503.1 516.3h0M504.0 514.6h0M505.0 514.2h0M505.9 517.5h0M506.8 516.4h0M507.7 515.8h0M508.6 514.8h0M509.5 516.9h0M510.4 515.4h0M511.3 516.4h0M512.2 513.7h0M513.1 515.6h0M514.1 516.2h0M515.0 516.4h0M515.9 515.0h0M516.8 515.4h0M517.7 517.2h0M518.6 515.9h0M519.5 517.5h0M520.4 516.9h0M521.3 517.5h0M522.2 517.5h0M523.2 516.9h0M524.1 517.2h0M525.0 515.7h0M525.9 515.4h0M526.8 516.5h0M527.7 517.4h0M528.6 515.4h0M529.5 518.3h0M530.4 518.2h0M531.3 515.5h0M532.3 515.6h0M533.2 515.3h0M534.1 516.5h0M535.0 517.6h0M535.9 516.8h0M536.8 515.8h0M537.7 517.1h0M538.6 517.1h0M539.5 517.8h0M540.4 517.6h0M541.4 515.5h0M542.3 515.9h0M543.2 517.6h0M544.1 517.5h0M545.0 517.0h0M545.9 515.9h0M546.8 517.7h0M547.7 516.8h0M548.6 518.8h0M549.5 518.0h0M550.5 516.4h0M551.4 516.0h0M552.3 518.2h0M553.2 517.9h0M554.1 516.4h0M555.0 517.7h0M555.9 517.9h0M556.8 516.9h0M557.7 517.3h0M558.6 516.5h0M559.6 516.9h0" stroke="#0000ff" stroke-width="5.0" stroke-linecap="round" fill="none"/>
<path d="M530.0 604.6h0M530.9 604.1h0M531.8 604.1h0M532.7 605.4h0M533.6 605.0h0M534.5 603.1h0M535.4 605.7h0M536.3 603.1h0M537.3 603.8h0M538.2 604.2h0M539.1 603.6h0M540.0 603.6h0M540.9 602.9h0M541.8 604.6h0M542.7 604.4h0M543.6 604.4h0M544.5 602.3h0M545.4 603.3h0M546.4 605.1h0M547.3 604.6h0M548.2 605.0h0M549.1 604.2h0M550.0 604.1h0M550.9 602.0h0M551.8 606.1h0M552.7 603.3h0M553.6 603.9h0M554.5 605.0h0M555.5 604.5h0M556.4 604.9h0M557.3 604.3h0M558.2 603.4h0M559.1 605.9h0M560.0 603.1h0M560.9 604.8h0M561.8 602.9h0M562.7 604.0h0M563.6 603.2h0M564.6 603.9h0M565.5 603.4h0M566.4 604.4h0M567.3 605.4h0M568.2 603.9h0M569.1 603.8h0M570.0 602.5h0M570.9 606.6h0M571.8 604.8h0M572.7 603.5h0M573.7 605.9h0M574.6 604.9h0M575.5 602.5h0M576.4 603.2h0M577.3 605.5h0M578.2 603.2h0M579.1 603.5h0M580.0 603.9h0M580.9 604.3h0M581.8 604.5h0M582.8 605.6h0M583.7 605.3h0M584.6 604.0h0M585.5 604.6h0M586.4 602.9h0M587.3 605.1h0M588.2 607.2h0M589.1 605.2h0M590.0 604.6h0M590.9 604.5h0M591.9 604.8h0M592.8 605.7h0M593.7 603.4h0M594.6 605.6h0M595.5 604.2h0M596.4 605.2h0M597.3 606.2h0M598.2 603.5h0M599.1 607.5h0M600.0 605.8h0M601.0 604.6h0M601.9 605.4h0M602.8 604.3h0M603.7 605.1h0M604.6 605.5h0M605.5 602.9h0M606.4 605.3h0M607.3 605.3h0M608.2 606.2h0M609.1 605.9h0M610.1 604.5h0M611.0 604.6h0M611.9 605.2h0M612.8 605.9h0M613.7 604.5h0M614.6 606.9h0M615.5 605.6h0M616.4 605.5h0M617.3 606.1h0M618.2 605.1h0M619.2 605.9h0M620.1 606.1h0M621.0 603.5h0M621.9 604.6h0M622.8 604.1h0M623.7 605.3h0M624.6 604.4h0M625.5 604.6h0M626.4 604.2h0M627.3 603.0h0M628.3 605.6h0M629.2 605.1h0M630.1 605.5h0M631.0 608.9h0M631.9 606.8h0M632.8 605.4h0M633.7 604.8h0M634.6 606.1h0M635.5 604.4h0M636.4 604.2h0M637.4 605.9h0M638.3 604.1h0M639.2 603.8h0M640.1 605.1h0M641.0 606.6h0M641.9 604.1h0M642.8 605.8h0M643.7 606.0h0M644.6 605.5h0M645.5 606.2h0M646.5 604.6h0M647.4 604.9h0M648.3 604.5h0M649.2 605.1h0M650.1 606.5h0M651.0 605.9h0M651.9 604.9h0M652.8 606.1h0M653.7 602.8h0M654.6 606.0h0M655.6 606.4h0" stroke="#0000ff" stroke-width="5.0" stroke-linecap="round" fill="none"/>
<polyline points="528.9,520.1 529.9,548.9 530.9,582.6 531.9,598.9 533.9,603.9" fill="none" stroke="#0000ff" stroke-width="0.8" stroke-linejoin="round"/>
<path d="M528.9 521.4h0M529.9 547.6h0M530.7 581.4h0M531.5 597.6h0" stroke="#0000ff" stroke-width="4.6" stroke-linecap="round" fill="none"/>
<polyline points="558.1,517.6 559.1,521.4 560.1,538.9 561.1,570.1 562.1,595.1 563.1,602.6" fill="none" stroke="#0000ff" stroke-width="0.8" stroke-linejoin="round"/>
<path d="M559.3 522.6h0M560.1 538.9h0M561.1 570.1h0M562.1 595.1h0" stroke="#0000ff" stroke-width="4.6" stroke-linecap="round" fill="none"/>
</g>
<rect x="409.40" y="461.40" width="273.00" height="200.00" fill="none" stroke="#000" stroke-width="1"/>
<path d="M409.40 661.40v-4M409.40 461.40v4M454.90 661.40v-4M454.90 461.40v4M500.40 661.40v-4M500.40 461.40v4M545.90 661.40v-4M545.90 461.40v4M591.40 661.40v-4M591.40 461.40v4M636.90 661.40v-4M636.90 461.40v4M682.40 661.40v-4M682.40 461.40v4M432.15 661.40v-2M432.15 461.40v2M477.65 661.40v-2M477.65 461.40v2M523.15 661.40v-2M523.15 461.40v2M568.65 661.40v-2M568.65 461.40v2M614.15 661.40v-2M614.15 461.40v2M659.65 661.40v-2M659.65 461.40v2M409.40 623.90h4M682.40 623.90h-4M409.40 561.40h4M682.40 561.40h-4M409.40 498.90h4M682.40 498.90h-4M409.40 655.15h2M682.40 655.15h-2M409.40 592.65h2M682.40 592.65h-2M409.40 530.15h2M682.40 530.15h-2M409.40 467.65h2M682.40 467.65h-2" stroke="#000" stroke-width="1" fill="none"/>
<text x="402.4" y="503.9" font-size="12.5" text-anchor="end" fill="#000">0.5</text>
<text x="402.4" y="566.4" font-size="12.5" text-anchor="end" fill="#000">0.0</text>
<text x="402.4" y="628.9" font-size="12.5" text-anchor="end" fill="#000">−0.5</text>
<text x="417.1" y="478.7" font-size="15" text-anchor="start" fill="#000" font-weight="bold">g</text>
<text x="607" y="483.7" font-size="12.5">Mn<tspan font-size="9.6" dy="3">2</tspan><tspan dy="-3">CoSn</tspan></text>
<text transform="translate(369.8,561.6) rotate(-90)" font-size="12.5" text-anchor="middle">Kerr (a.u.)</text>
<g clip-path="url(#ch)">
<path d="M523.0 699.5h0M523.9 699.9h0M524.8 700.6h0M525.7 700.8h0M526.6 700.2h0M527.6 699.7h0M528.5 699.8h0M529.4 700.8h0M530.3 700.1h0M531.2 699.7h0M532.1 699.7h0M533.0 703.6h0M533.9 701.4h0M534.8 701.2h0M535.7 700.7h0M536.7 700.3h0M537.6 699.5h0M538.5 699.8h0M539.4 700.5h0M540.3 700.4h0M541.2 698.6h0M542.1 701.0h0M543.0 700.0h0M543.9 698.8h0M544.8 700.0h0M545.8 702.3h0M546.7 699.9h0M547.6 700.7h0M548.5 700.4h0M549.4 699.2h0M550.3 699.8h0M551.2 700.5h0M552.1 699.3h0M553.0 699.8h0M553.9 700.1h0M554.8 699.9h0M555.8 699.9h0M556.7 700.5h0M557.6 700.6h0M558.5 700.1h0M559.4 701.1h0M560.3 701.3h0M561.2 698.8h0M562.1 700.3h0M563.0 700.1h0M563.9 700.2h0M564.9 700.0h0M565.8 700.0h0M566.7 699.9h0M567.6 700.8h0M568.5 699.0h0M569.4 700.6h0M570.3 698.9h0M571.2 701.8h0M572.1 701.0h0M573.0 698.9h0M573.9 700.0h0M574.9 700.5h0M575.8 699.5h0M576.7 700.9h0M577.6 699.8h0M578.5 702.0h0M579.4 700.3h0M580.3 700.4h0M581.2 699.2h0M582.1 698.9h0M583.0 700.6h0M584.0 698.1h0M584.9 700.3h0M585.8 701.8h0M586.7 702.1h0M587.6 698.1h0M588.5 699.8h0M589.4 700.3h0M590.3 700.4h0M591.2 700.7h0M592.1 698.3h0M593.1 699.7h0M594.0 697.8h0M594.9 699.8h0M595.8 701.9h0M596.7 698.7h0M597.6 699.9h0M598.5 699.8h0M599.4 697.9h0M600.3 699.8h0M601.2 698.3h0M602.1 699.5h0M603.1 700.2h0M604.0 698.9h0M604.9 700.0h0M605.8 698.2h0M606.7 698.4h0M607.6 699.3h0M608.5 698.8h0M609.4 698.8h0M610.3 699.6h0M611.2 698.4h0M612.2 699.6h0M613.1 698.7h0M614.0 700.3h0M614.9 699.2h0M615.8 698.9h0M616.7 700.0h0M617.6 699.7h0M618.5 699.8h0M619.4 698.5h0M620.3 699.9h0M621.3 698.8h0M622.2 697.7h0M623.1 698.8h0M624.0 700.8h0M624.9 699.0h0M625.8 698.1h0M626.7 699.4h0M627.6 698.0h0M628.5 698.5h0M629.4 698.6h0M630.3 699.3h0M631.3 699.6h0M632.2 699.3h0M633.1 698.9h0M634.0 698.5h0M634.9 698.6h0M635.8 699.3h0M636.7 698.9h0" stroke="#008000" stroke-width="5.2" stroke-linecap="round" fill="none"/>
<path d="M451.6 825.2h0M452.5 827.2h0M453.4 826.4h0M454.3 826.4h0M455.2 825.8h0M456.1 825.8h0M457.1 825.8h0M458.0 826.4h0M458.9 824.8h0M459.8 825.2h0M460.7 827.1h0M461.6 825.5h0M462.5 826.6h0M463.4 823.7h0M464.3 825.9h0M465.2 825.8h0M466.2 825.3h0M467.1 825.6h0M468.0 825.4h0M468.9 823.8h0M469.8 825.1h0M470.7 824.5h0M471.6 824.2h0M472.5 826.3h0M473.4 823.6h0M474.3 824.6h0M475.3 824.3h0M476.2 826.1h0M477.1 824.4h0M478.0 824.8h0M478.9 825.8h0M479.8 822.9h0M480.7 824.6h0M481.6 825.4h0M482.5 825.0h0M483.4 824.3h0M484.3 824.0h0M485.3 824.6h0M486.2 823.9h0M487.1 823.6h0M488.0 826.3h0M488.9 825.6h0M489.8 826.0h0M490.7 825.0h0M491.6 823.6h0M492.5 824.4h0M493.4 826.1h0M494.4 825.3h0M495.3 824.0h0M496.2 825.5h0M497.1 825.1h0M498.0 824.6h0M498.9 826.8h0M499.8 824.1h0M500.7 824.6h0M501.6 824.3h0M502.5 825.9h0M503.5 825.6h0M504.4 825.5h0M505.3 824.6h0M506.2 824.8h0M507.1 824.7h0M508.0 823.0h0M508.9 823.5h0M509.8 825.5h0M510.7 825.4h0M511.6 823.0h0M512.5 825.1h0M513.5 823.4h0M514.4 823.1h0M515.3 825.2h0M516.2 825.0h0M517.1 824.6h0M518.0 825.5h0M518.9 825.6h0M519.8 825.0h0M520.7 823.8h0M521.6 825.1h0M522.6 824.8h0M523.5 825.1h0M524.4 825.9h0M525.3 823.1h0M526.2 826.9h0M527.1 825.2h0M528.0 824.0h0M528.9 825.9h0M529.8 823.9h0M530.7 823.2h0M531.7 825.3h0M532.6 824.3h0M533.5 825.6h0M534.4 823.9h0M535.3 824.3h0M536.2 824.2h0M537.1 823.0h0M538.0 823.9h0M538.9 823.0h0M539.8 823.7h0M540.7 825.5h0M541.7 824.1h0M542.6 823.8h0M543.5 825.7h0M544.4 823.0h0M545.3 824.2h0M546.2 823.9h0M547.1 825.1h0M548.0 824.2h0M548.9 823.9h0M549.8 824.5h0M550.8 824.1h0M551.7 826.3h0M552.6 822.8h0M553.5 825.3h0M554.4 826.3h0M555.3 825.1h0M556.2 825.0h0M557.1 823.6h0M558.0 825.0h0M558.9 823.8h0M559.8 825.0h0M560.8 821.9h0M561.7 823.5h0M562.6 822.1h0M563.5 825.0h0M564.4 823.3h0M565.3 825.0h0" stroke="#008000" stroke-width="5.2" stroke-linecap="round" fill="none"/>
<polyline points="519.8,821.2 519.8,810.1 520.3,770.1 520.8,732.3 521.4,713.4 522.8,702.3" fill="none" stroke="#008000" stroke-width="0.8" stroke-linejoin="round"/>
<path d="M519.8 810.1h0M520.3 770.1h0M520.8 732.3h0M521.4 713.4h0" stroke="#008000" stroke-width="4.8" stroke-linecap="round" fill="none"/>
<polyline points="565.5,823.4 566.5,817.9 567.5,806.7 568.1,783.4 568.8,743.4 569.5,710.1 570.5,701.2" fill="none" stroke="#008000" stroke-width="0.8" stroke-linejoin="round"/>
<path d="M566.5 817.9h0M567.5 806.7h0M568.1 783.4h0M568.8 743.4h0M569.5 710.1h0" stroke="#008000" stroke-width="4.8" stroke-linecap="round" fill="none"/>
</g>
<rect x="409.30" y="662.30" width="272.90" height="200.00" fill="none" stroke="#000" stroke-width="1"/>
<path d="M409.30 862.30v-4M409.30 662.30v4M454.78 862.30v-4M454.78 662.30v4M500.27 862.30v-4M500.27 662.30v4M545.75 862.30v-4M545.75 662.30v4M591.23 862.30v-4M591.23 662.30v4M636.72 862.30v-4M636.72 662.30v4M682.20 862.30v-4M682.20 662.30v4M432.04 862.30v-2M432.04 662.30v2M477.53 862.30v-2M477.53 662.30v2M523.01 862.30v-2M523.01 662.30v2M568.49 862.30v-2M568.49 662.30v2M613.98 862.30v-2M613.98 662.30v2M659.46 862.30v-2M659.46 662.30v2M409.30 817.86h4M682.20 817.86h-4M409.30 762.30h4M682.20 762.30h-4M409.30 706.74h4M682.20 706.74h-4M409.30 845.63h2M682.20 845.63h-2M409.30 790.08h2M682.20 790.08h-2M409.30 734.52h2M682.20 734.52h-2M409.30 678.97h2M682.20 678.97h-2" stroke="#000" stroke-width="1" fill="none"/>
<text x="402.3" y="711.7" font-size="12.5" text-anchor="end" fill="#000">0.5</text>
<text x="402.3" y="767.3" font-size="12.5" text-anchor="end" fill="#000">0.0</text>
<text x="402.3" y="822.9" font-size="12.5" text-anchor="end" fill="#000">−0.5</text>
<text x="409.3" y="878.8" font-size="12.5" text-anchor="middle" fill="#000">−3</text>
<text x="454.8" y="878.8" font-size="12.5" text-anchor="middle" fill="#000">−2</text>
<text x="500.3" y="878.8" font-size="12.5" text-anchor="middle" fill="#000">−1</text>
<text x="545.8" y="878.8" font-size="12.5" text-anchor="middle" fill="#000">0</text>
<text x="591.2" y="878.8" font-size="12.5" text-anchor="middle" fill="#000">1</text>
<text x="636.7" y="878.8" font-size="12.5" text-anchor="middle" fill="#000">2</text>
<text x="682.2" y="878.8" font-size="12.5" text-anchor="middle" fill="#000">3</text>
<text x="418.5" y="680.0" font-size="15" text-anchor="start" fill="#000" font-weight="bold">h</text>
<text x="612" y="684.9" font-size="12.5">Mn<tspan font-size="9.6" dy="3">3</tspan><tspan dy="-3">Sb</tspan></text>
<text x="554.0" y="849.8" font-size="12.5" text-anchor="start" fill="#000">Silicon substrate</text>
<text x="545.8" y="897.7" font-size="12.5" text-anchor="middle"><tspan font-style="italic">H</tspan> (kOe)</text></svg></body></html>
